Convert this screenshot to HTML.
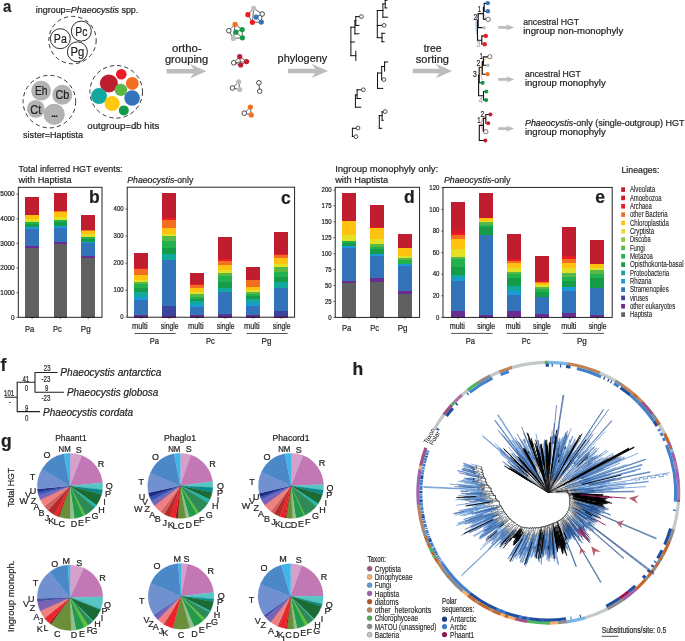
<!DOCTYPE html>
<html><head><meta charset="utf-8"><title>Figure</title>
<style>
html,body{margin:0;padding:0;background:#fff;}
svg{display:block;font-family:"Liberation Sans",sans-serif;will-change:transform;opacity:0.999;}
</style></head><body>
<svg width="685" height="641" viewBox="0 0 685 641">
<rect width="685" height="641" fill="#fff"/>
<text x="3.00" y="12.10" font-size="17.0" font-weight="bold" textLength="8.30" lengthAdjust="spacingAndGlyphs" fill="#231f20" stroke="#231f20" stroke-width="0.22">a</text>
<text x="35.80" y="12.50" font-size="9.3" textLength="102.50" lengthAdjust="spacingAndGlyphs" fill="#231f20" stroke="#231f20" stroke-width="0.22">ingroup=<tspan font-style="italic">Phaeocystis</tspan> spp.</text>
<circle cx="72.50" cy="40.10" r="23.70" fill="none" stroke="#2a2a2a" stroke-width="0.95" stroke-dasharray="4.2 3.1"/>
<circle cx="60.30" cy="38.70" r="10.00" fill="#fff" stroke="#222" stroke-width="0.95"/>
<text x="60.30" y="43.30" font-size="12.8" text-anchor="middle" textLength="12.90" lengthAdjust="spacingAndGlyphs" fill="#231f20" stroke="#231f20" stroke-width="0.22">Pa</text>
<circle cx="81.30" cy="31.10" r="10.00" fill="#fff" stroke="#222" stroke-width="0.95"/>
<text x="81.30" y="35.70" font-size="12.8" text-anchor="middle" textLength="12.10" lengthAdjust="spacingAndGlyphs" fill="#231f20" stroke="#231f20" stroke-width="0.22">Pc</text>
<circle cx="77.40" cy="51.80" r="10.00" fill="#fff" stroke="#222" stroke-width="0.95"/>
<text x="77.40" y="56.40" font-size="12.8" text-anchor="middle" textLength="13.80" lengthAdjust="spacingAndGlyphs" fill="#231f20" stroke="#231f20" stroke-width="0.22">Pg</text>
<circle cx="49.40" cy="101.60" r="26.30" fill="none" stroke="#2a2a2a" stroke-width="0.95" stroke-dasharray="4.2 3.1"/>
<circle cx="41.10" cy="90.70" r="9.90" fill="#b3b3b3"/>
<text x="41.10" y="95.30" font-size="12.8" text-anchor="middle" textLength="12.40" lengthAdjust="spacingAndGlyphs" fill="#231f20" stroke="#231f20" stroke-width="0.22">Eh</text>
<circle cx="62.30" cy="94.70" r="10.00" fill="#b3b3b3"/>
<text x="62.30" y="99.30" font-size="12.8" text-anchor="middle" textLength="13.80" lengthAdjust="spacingAndGlyphs" fill="#231f20" stroke="#231f20" stroke-width="0.22">Cb</text>
<circle cx="35.80" cy="108.90" r="8.90" fill="#b3b3b3"/>
<text x="35.80" y="113.50" font-size="12.8" text-anchor="middle" textLength="11.00" lengthAdjust="spacingAndGlyphs" fill="#231f20" stroke="#231f20" stroke-width="0.22">Ct</text>
<circle cx="54.20" cy="114.30" r="10.60" fill="#b3b3b3"/>
<text x="54.20" y="116.50" font-size="9" text-anchor="middle" font-weight="bold" fill="#231f20" stroke="#231f20" stroke-width="0.22" letter-spacing="-0.6">...</text>
<text x="23.10" y="138.00" font-size="9.3" textLength="60.00" lengthAdjust="spacingAndGlyphs" fill="#231f20" stroke="#231f20" stroke-width="0.22">sister=Haptista</text>
<circle cx="116.20" cy="91.80" r="26.30" fill="none" stroke="#2a2a2a" stroke-width="0.95" stroke-dasharray="4.2 3.1"/>
<circle cx="108.90" cy="83.40" r="9.00" fill="#be1e2d"/>
<circle cx="121.30" cy="74.30" r="5.30" fill="#ed1c24"/>
<circle cx="132.30" cy="83.40" r="6.40" fill="#f26f21"/>
<circle cx="99.00" cy="96.10" r="8.00" fill="#13a89e"/>
<circle cx="112.10" cy="103.50" r="7.60" fill="#ffc90e"/>
<circle cx="132.10" cy="98.00" r="7.80" fill="#3273b9"/>
<circle cx="123.80" cy="110.40" r="5.00" fill="#129a48"/>
<circle cx="120.90" cy="89.90" r="6.20" fill="#5ab946"/>
<text x="87.30" y="128.70" font-size="9.3" textLength="72.00" lengthAdjust="spacingAndGlyphs" fill="#231f20" stroke="#231f20" stroke-width="0.22">outgroup=db hits</text>
<text x="186.80" y="51.80" font-size="10.6" text-anchor="middle" textLength="29.80" lengthAdjust="spacingAndGlyphs" fill="#231f20" stroke="#231f20" stroke-width="0.22">ortho-</text>
<text x="186.60" y="63.10" font-size="10.6" text-anchor="middle" textLength="43.30" lengthAdjust="spacingAndGlyphs" fill="#231f20" stroke="#231f20" stroke-width="0.22">grouping</text>
<polygon points="166.60,68.95 193.70,68.95 189.90,64.00 206.40,71.20 189.90,78.40 193.70,73.45 166.60,73.45" fill="#bdbbbc"/>
<text x="302.40" y="61.60" font-size="10.6" text-anchor="middle" textLength="49.60" lengthAdjust="spacingAndGlyphs" fill="#231f20" stroke="#231f20" stroke-width="0.22">phylogeny</text>
<polygon points="288.10,68.65 315.30,68.65 311.50,63.70 328.00,70.90 311.50,78.10 315.30,73.15 288.10,73.15" fill="#bdbbbc"/>
<text x="432.60" y="51.90" font-size="10.6" text-anchor="middle" textLength="17.90" lengthAdjust="spacingAndGlyphs" fill="#231f20" stroke="#231f20" stroke-width="0.22">tree</text>
<text x="432.40" y="62.90" font-size="10.6" text-anchor="middle" textLength="33.10" lengthAdjust="spacingAndGlyphs" fill="#231f20" stroke="#231f20" stroke-width="0.22">sorting</text>
<polygon points="412.70,68.75 439.40,68.75 435.60,63.80 452.10,71.00 435.60,78.20 439.40,73.25 412.70,73.25" fill="#bdbbbc"/>
<line x1="253.70" y1="8.30" x2="247.90" y2="14.70" stroke="#333" stroke-width="0.75" />
<line x1="253.70" y1="8.30" x2="262.20" y2="14.00" stroke="#333" stroke-width="0.75" />
<line x1="253.70" y1="8.30" x2="252.40" y2="22.30" stroke="#333" stroke-width="0.75" />
<line x1="247.90" y1="14.70" x2="252.40" y2="22.30" stroke="#333" stroke-width="0.75" />
<line x1="262.20" y1="14.00" x2="256.10" y2="17.10" stroke="#333" stroke-width="0.75" />
<line x1="262.20" y1="14.00" x2="261.30" y2="22.10" stroke="#333" stroke-width="0.75" />
<line x1="252.40" y1="22.30" x2="261.30" y2="22.10" stroke="#333" stroke-width="0.75" />
<line x1="256.10" y1="17.10" x2="261.30" y2="22.10" stroke="#333" stroke-width="0.75" />
<circle cx="253.70" cy="8.30" r="2.60" fill="#bcbec0"/>
<circle cx="247.90" cy="14.70" r="2.60" fill="#ed1c24"/>
<circle cx="262.20" cy="14.00" r="2.30" fill="#fff" stroke="#222" stroke-width="0.8"/>
<circle cx="256.10" cy="17.10" r="2.60" fill="#3273b9"/>
<circle cx="252.40" cy="22.30" r="2.60" fill="#ed1c24"/>
<circle cx="261.30" cy="22.10" r="2.60" fill="#3273b9"/>
<line x1="235.10" y1="24.30" x2="228.80" y2="30.70" stroke="#333" stroke-width="0.75" />
<line x1="235.10" y1="24.30" x2="242.20" y2="29.60" stroke="#333" stroke-width="0.75" />
<line x1="235.10" y1="24.30" x2="233.40" y2="38.40" stroke="#333" stroke-width="0.75" />
<line x1="228.80" y1="30.70" x2="233.40" y2="38.40" stroke="#333" stroke-width="0.75" />
<line x1="233.40" y1="38.40" x2="242.40" y2="37.80" stroke="#333" stroke-width="0.75" />
<line x1="235.90" y1="32.20" x2="242.40" y2="37.80" stroke="#333" stroke-width="0.75" />
<line x1="242.20" y1="29.60" x2="242.40" y2="37.80" stroke="#333" stroke-width="0.75" />
<line x1="235.90" y1="32.20" x2="242.20" y2="29.60" stroke="#333" stroke-width="0.75" />
<circle cx="235.10" cy="24.30" r="2.60" fill="#f26f21"/>
<circle cx="228.80" cy="30.70" r="2.30" fill="#fff" stroke="#222" stroke-width="0.8"/>
<circle cx="235.90" cy="32.20" r="2.60" fill="#129a48"/>
<circle cx="242.20" cy="29.60" r="2.60" fill="#129a48"/>
<circle cx="233.40" cy="38.40" r="2.60" fill="#bcbec0"/>
<circle cx="242.40" cy="37.80" r="2.60" fill="#129a48"/>
<line x1="233.70" y1="62.80" x2="239.70" y2="56.60" stroke="#333" stroke-width="0.75" />
<line x1="233.70" y1="62.80" x2="246.60" y2="61.60" stroke="#333" stroke-width="0.75" />
<line x1="233.70" y1="62.80" x2="240.70" y2="65.00" stroke="#333" stroke-width="0.75" />
<line x1="239.70" y1="56.60" x2="246.60" y2="61.60" stroke="#333" stroke-width="0.75" />
<line x1="239.70" y1="56.60" x2="240.70" y2="65.00" stroke="#333" stroke-width="0.75" />
<line x1="246.60" y1="61.60" x2="240.70" y2="65.00" stroke="#333" stroke-width="0.75" />
<circle cx="233.70" cy="62.80" r="2.30" fill="#fff" stroke="#222" stroke-width="0.8"/>
<circle cx="239.70" cy="56.60" r="2.60" fill="#be1e2d"/>
<circle cx="246.60" cy="61.60" r="2.60" fill="#be1e2d"/>
<circle cx="240.70" cy="65.00" r="2.60" fill="#be1e2d"/>
<line x1="232.50" y1="88.00" x2="238.70" y2="81.80" stroke="#333" stroke-width="0.75" />
<line x1="238.70" y1="81.80" x2="239.70" y2="89.50" stroke="#333" stroke-width="0.75" />
<line x1="232.50" y1="88.00" x2="239.70" y2="89.50" stroke="#333" stroke-width="0.75" />
<circle cx="232.50" cy="88.00" r="2.30" fill="#fff" stroke="#222" stroke-width="0.8"/>
<circle cx="238.70" cy="81.80" r="2.60" fill="#bcbec0"/>
<circle cx="239.70" cy="89.50" r="2.60" fill="#bcbec0"/>
<line x1="258.90" y1="82.80" x2="259.70" y2="91.20" stroke="#333" stroke-width="0.75" />
<circle cx="258.90" cy="82.80" r="2.30" fill="#fff" stroke="#222" stroke-width="0.8"/>
<circle cx="259.70" cy="91.20" r="2.30" fill="#fff" stroke="#222" stroke-width="0.8"/>
<line x1="244.30" y1="113.20" x2="250.40" y2="107.00" stroke="#333" stroke-width="0.75" />
<line x1="250.40" y1="107.00" x2="251.20" y2="114.90" stroke="#333" stroke-width="0.75" />
<line x1="244.30" y1="113.20" x2="251.20" y2="114.90" stroke="#333" stroke-width="0.75" />
<circle cx="244.30" cy="113.20" r="2.30" fill="#fff" stroke="#222" stroke-width="0.8"/>
<circle cx="250.40" cy="107.00" r="2.60" fill="#f26f21"/>
<circle cx="251.20" cy="114.90" r="2.60" fill="#f26f21"/>
<path d="M350.90 27.20L350.90 55.70M350.90 27.20L354.90 27.20M354.90 20.70L354.90 33.80M354.90 33.80L358.90 33.80M354.90 20.70L355.80 20.70M355.80 16.60L355.80 25.40M355.80 16.60L359.50 16.60M355.80 25.40L358.90 25.40M350.90 42.00L354.40 42.00M350.90 55.70L355.80 55.70M355.80 51.30L355.80 60.40M377.30 10.50L377.30 37.70M377.30 10.50L382.90 10.50M382.90 3.90L382.90 17.20M382.90 17.20L387.60 17.20M382.90 3.90L385.20 3.90M385.20 0.00L385.20 7.90M385.20 7.90L387.00 7.90M385.20 0.30L387.00 0.30M377.30 25.40L382.00 25.40M377.30 37.70L382.00 37.70M382.00 33.30L382.00 41.70M382.00 33.30L384.70 33.30M382.00 41.70L384.10 41.70M377.50 73.00L377.50 88.40M377.50 88.40L382.80 88.40M377.50 73.00L381.70 73.00M381.70 66.50L381.70 79.60M381.70 79.60L382.20 79.60M381.70 66.50L384.60 66.50M384.60 62.00L384.60 71.10M384.60 62.00L387.70 62.00M355.40 95.00L355.40 107.20M355.40 107.20L360.80 107.20M355.40 95.00L357.10 95.00M357.10 89.80L357.10 98.50M357.10 98.50L360.60 98.50M357.10 89.80L361.30 89.80M379.30 115.60L379.30 128.30M379.30 128.30L381.80 128.30M379.30 115.60L382.10 115.60M382.10 111.80L382.10 120.30M382.10 120.30L383.20 120.30M382.10 111.80L383.20 111.80M352.40 128.30L352.40 136.40M352.40 128.30L355.90 128.30M352.40 136.40L354.00 136.40" fill="none" stroke="#111" stroke-width="1.0" stroke-linecap="square"/>
<circle cx="361.40" cy="16.60" r="1.90" fill="#fff" stroke="#222" stroke-width="0.8"/>
<circle cx="384.10" cy="25.40" r="1.90" fill="#fff" stroke="#222" stroke-width="0.8"/>
<circle cx="383.90" cy="79.60" r="1.90" fill="#fff" stroke="#222" stroke-width="0.8"/>
<circle cx="363.40" cy="89.80" r="1.90" fill="#fff" stroke="#222" stroke-width="0.8"/>
<circle cx="385.20" cy="111.60" r="1.90" fill="#fff" stroke="#222" stroke-width="0.8"/>
<circle cx="358.00" cy="128.00" r="1.90" fill="#fff" stroke="#222" stroke-width="0.8"/>
<circle cx="355.90" cy="136.70" r="1.90" fill="#fff" stroke="#222" stroke-width="0.8"/>
<path d="M478.0 14 Q474.5 24 477.3 35" fill="none" stroke="#b9c6ea" stroke-width="1.6" />
<path d="M484.0 14.5 L486.0 17.5" fill="none" stroke="#b9c6ea" stroke-width="1.2" />
<path d="M477.50 20.60L477.50 40.30M477.50 40.30L481.80 40.30M481.80 35.90L481.80 44.20M481.80 35.90L484.00 35.90M481.80 44.20L483.00 44.20M477.50 27.60L483.00 27.60M478.20 13.60L478.20 27.60M478.20 13.60L483.40 13.60M483.40 7.40L483.40 19.10M483.40 19.10L486.20 19.10M483.40 7.40L484.20 7.40M484.20 3.40L484.20 11.20M484.20 3.40L486.00 3.40M484.20 11.20L486.00 11.20" fill="none" stroke="#111" stroke-width="1.1" stroke-linecap="square"/>
<circle cx="485.80" cy="35.90" r="2.20" fill="#ed1c24"/>
<circle cx="484.70" cy="44.20" r="2.20" fill="#ed1c24"/>
<circle cx="484.10" cy="27.80" r="1.80" fill="#bcbec0"/>
<circle cx="488.20" cy="19.40" r="2.20" fill="#fff" stroke="#222" stroke-width="0.6"/>
<circle cx="487.80" cy="3.10" r="2.20" fill="#3273b9"/>
<circle cx="487.90" cy="11.20" r="2.20" fill="#3273b9"/>
<text x="479.40" y="12.30" font-size="9" text-anchor="middle" textLength="3.40" lengthAdjust="spacingAndGlyphs" fill="#231f20" stroke="#231f20" stroke-width="0.22">1</text>
<text x="475.30" y="20.00" font-size="9" text-anchor="middle" textLength="3.80" lengthAdjust="spacingAndGlyphs" fill="#231f20" stroke="#231f20" stroke-width="0.22">2</text>
<text x="478.30" y="47.20" font-size="9" text-anchor="middle" textLength="3.80" lengthAdjust="spacingAndGlyphs" fill="#a7a9ac" stroke="#a7a9ac" stroke-width="0.22">3</text>
<polygon points="498.30,26.05 507.70,26.05 505.80,24.00 514.20,27.40 505.80,30.80 507.70,28.75 498.30,28.75" fill="#bdbbbc"/>
<path d="M487.0 57.8 Q482 62 481.4 67 Q480.4 73 481.8 80" fill="none" stroke="#fbcfa4" stroke-width="1.5" />
<path d="M478.60 75.10L478.60 95.70M478.60 95.70L483.50 95.70M483.50 91.50L483.50 100.00M483.50 91.50L485.00 91.50M483.50 100.00L485.00 100.00M478.60 82.80L481.00 82.80M479.20 67.20L479.20 82.80M479.20 67.20L482.30 67.20M482.30 61.60L482.30 74.20M482.30 74.20L486.00 74.20M482.30 65.30L486.50 65.30M483.40 56.90L483.40 65.30M483.40 56.90L487.60 56.90" fill="none" stroke="#111" stroke-width="1.1" stroke-linecap="square"/>
<circle cx="486.30" cy="91.50" r="2.10" fill="#129a48"/>
<circle cx="486.10" cy="100.10" r="2.10" fill="#129a48"/>
<circle cx="482.60" cy="82.80" r="2.10" fill="#129a48"/>
<circle cx="487.50" cy="74.20" r="2.10" fill="#f26f21"/>
<circle cx="487.90" cy="65.30" r="1.80" fill="#bcbec0"/>
<circle cx="489.80" cy="56.70" r="2.10" fill="#fff" stroke="#222" stroke-width="0.6"/>
<text x="481.20" y="59.20" font-size="9" text-anchor="middle" textLength="3.40" lengthAdjust="spacingAndGlyphs" fill="#231f20" stroke="#231f20" stroke-width="0.22">1</text>
<text x="478.30" y="66.20" font-size="9" text-anchor="middle" textLength="3.80" lengthAdjust="spacingAndGlyphs" fill="#231f20" stroke="#231f20" stroke-width="0.22">2</text>
<text x="475.00" y="76.50" font-size="9" text-anchor="middle" textLength="3.80" lengthAdjust="spacingAndGlyphs" fill="#231f20" stroke="#231f20" stroke-width="0.22">3</text>
<text x="480.70" y="103.20" font-size="9" text-anchor="middle" textLength="3.80" lengthAdjust="spacingAndGlyphs" fill="#a7a9ac" stroke="#a7a9ac" stroke-width="0.22">4</text>
<polygon points="498.20,78.05 507.90,78.05 506.00,76.00 514.40,79.40 506.00,82.80 507.90,80.75 498.20,80.75" fill="#bdbbbc"/>
<path d="M484.6 116 Q480.6 121 481.2 126 Q482 129 483.6 131" fill="none" stroke="#f2b3b5" stroke-width="1.5" />
<path d="M479.30 125.40L479.30 140.50M479.30 140.50L483.40 140.50M479.30 125.40L483.40 125.40M483.40 118.40L483.40 131.50M483.40 118.40L485.80 118.40M485.80 114.50L485.80 123.20M485.80 114.50L488.50 114.50" fill="none" stroke="#111" stroke-width="1.1" stroke-linecap="square"/>
<circle cx="485.30" cy="140.50" r="2.00" fill="#be1e2d"/>
<circle cx="485.80" cy="131.70" r="2.20" fill="#fff" stroke="#222" stroke-width="0.6"/>
<circle cx="490.40" cy="114.50" r="2.00" fill="#be1e2d"/>
<circle cx="488.20" cy="123.20" r="2.00" fill="#be1e2d"/>
<text x="482.50" y="116.60" font-size="9" text-anchor="middle" textLength="3.80" lengthAdjust="spacingAndGlyphs" fill="#231f20" stroke="#231f20" stroke-width="0.22">2</text>
<text x="479.00" y="123.40" font-size="9" text-anchor="middle" textLength="3.40" lengthAdjust="spacingAndGlyphs" fill="#231f20" stroke="#231f20" stroke-width="0.22">1</text>
<polygon points="498.30,127.25 507.70,127.25 505.80,125.20 514.20,128.60 505.80,132.00 507.70,129.95 498.30,129.95" fill="#bdbbbc"/>
<text x="523.20" y="24.90" font-size="9.3" textLength="55.80" lengthAdjust="spacingAndGlyphs" fill="#231f20" stroke="#231f20" stroke-width="0.22">ancestral HGT</text>
<text x="523.20" y="34.10" font-size="9.3" textLength="100.00" lengthAdjust="spacingAndGlyphs" fill="#231f20" stroke="#231f20" stroke-width="0.22">ingroup non-monophyly</text>
<text x="524.90" y="77.00" font-size="9.3" textLength="55.90" lengthAdjust="spacingAndGlyphs" fill="#231f20" stroke="#231f20" stroke-width="0.22">ancestral HGT</text>
<text x="524.90" y="85.70" font-size="9.3" textLength="80.90" lengthAdjust="spacingAndGlyphs" fill="#231f20" stroke="#231f20" stroke-width="0.22">ingroup monophyly</text>
<text x="524.90" y="126.20" font-size="9.3" textLength="159.60" lengthAdjust="spacingAndGlyphs" fill="#231f20" stroke="#231f20" stroke-width="0.22"><tspan font-style="italic">Phaeocystis</tspan>-only (single-outgroup) HGT</text>
<text x="524.90" y="134.60" font-size="9.3" textLength="80.90" lengthAdjust="spacingAndGlyphs" fill="#231f20" stroke="#231f20" stroke-width="0.22">ingroup monophyly</text>
<text x="18.60" y="172.00" font-size="9.7" textLength="104.00" lengthAdjust="spacingAndGlyphs" fill="#231f20" stroke="#231f20" stroke-width="0.22">Total inferred HGT events:</text>
<text x="18.60" y="182.50" font-size="9.7" textLength="53.00" lengthAdjust="spacingAndGlyphs" fill="#231f20" stroke="#231f20" stroke-width="0.22">with Haptista</text>
<rect x="25.20" y="196.90" width="13.80" height="17.90" fill="#be1e2d" shape-rendering="crispEdges"/>
<rect x="25.20" y="214.50" width="13.80" height="1.00" fill="#f26f21" shape-rendering="crispEdges"/>
<rect x="25.20" y="215.20" width="13.80" height="3.90" fill="#ffc20e" shape-rendering="crispEdges"/>
<rect x="25.20" y="218.80" width="13.80" height="3.60" fill="#e3e025" shape-rendering="crispEdges"/>
<rect x="25.20" y="222.10" width="13.80" height="2.50" fill="#22b14c" shape-rendering="crispEdges"/>
<rect x="25.20" y="224.30" width="13.80" height="3.00" fill="#169b48" shape-rendering="crispEdges"/>
<rect x="25.20" y="227.00" width="13.80" height="1.90" fill="#1c9ad6" shape-rendering="crispEdges"/>
<rect x="25.20" y="228.60" width="13.80" height="17.80" fill="#3273b9" shape-rendering="crispEdges"/>
<rect x="25.20" y="246.10" width="13.80" height="2.20" fill="#6b2c91" shape-rendering="crispEdges"/>
<rect x="25.20" y="248.00" width="13.80" height="69.60" fill="#5f6160" shape-rendering="crispEdges"/>
<rect x="53.50" y="193.20" width="13.60" height="18.10" fill="#be1e2d" shape-rendering="crispEdges"/>
<rect x="53.50" y="211.00" width="13.60" height="1.30" fill="#f26f21" shape-rendering="crispEdges"/>
<rect x="53.50" y="212.00" width="13.60" height="4.90" fill="#ffc20e" shape-rendering="crispEdges"/>
<rect x="53.50" y="216.60" width="13.60" height="3.30" fill="#e3e025" shape-rendering="crispEdges"/>
<rect x="53.50" y="219.60" width="13.60" height="3.10" fill="#22b14c" shape-rendering="crispEdges"/>
<rect x="53.50" y="222.40" width="13.60" height="3.90" fill="#169b48" shape-rendering="crispEdges"/>
<rect x="53.50" y="226.00" width="13.60" height="2.50" fill="#1c9ad6" shape-rendering="crispEdges"/>
<rect x="53.50" y="228.20" width="13.60" height="14.10" fill="#3273b9" shape-rendering="crispEdges"/>
<rect x="53.50" y="242.00" width="13.60" height="2.70" fill="#6b2c91" shape-rendering="crispEdges"/>
<rect x="53.50" y="244.40" width="13.60" height="73.20" fill="#5f6160" shape-rendering="crispEdges"/>
<rect x="81.40" y="215.10" width="13.70" height="15.40" fill="#be1e2d" shape-rendering="crispEdges"/>
<rect x="81.40" y="230.20" width="13.70" height="1.10" fill="#f26f21" shape-rendering="crispEdges"/>
<rect x="81.40" y="231.00" width="13.70" height="3.70" fill="#ffc20e" shape-rendering="crispEdges"/>
<rect x="81.40" y="234.40" width="13.70" height="2.50" fill="#e3e025" shape-rendering="crispEdges"/>
<rect x="81.40" y="236.60" width="13.70" height="2.50" fill="#22b14c" shape-rendering="crispEdges"/>
<rect x="81.40" y="238.80" width="13.70" height="3.10" fill="#169b48" shape-rendering="crispEdges"/>
<rect x="81.40" y="241.60" width="13.70" height="1.70" fill="#1c9ad6" shape-rendering="crispEdges"/>
<rect x="81.40" y="243.00" width="13.70" height="12.90" fill="#3273b9" shape-rendering="crispEdges"/>
<rect x="81.40" y="255.60" width="13.70" height="2.50" fill="#6b2c91" shape-rendering="crispEdges"/>
<rect x="81.40" y="257.80" width="13.70" height="59.80" fill="#5f6160" shape-rendering="crispEdges"/>
<rect x="18.30" y="187.30" width="83.70" height="130.00" fill="none" stroke="#1a1a1a" stroke-width="0.95"/>
<line x1="16.40" y1="317.30" x2="18.30" y2="317.30" stroke="#1a1a1a" stroke-width="0.6" />
<text x="14.70" y="319.50" font-size="6.5" text-anchor="end" textLength="3.60" lengthAdjust="spacingAndGlyphs" fill="#231f20" stroke="#231f20" stroke-width="0.22">0</text>
<line x1="16.40" y1="292.68" x2="18.30" y2="292.68" stroke="#1a1a1a" stroke-width="0.6" />
<text x="14.70" y="294.88" font-size="6.5" text-anchor="end" textLength="14.40" lengthAdjust="spacingAndGlyphs" fill="#231f20" stroke="#231f20" stroke-width="0.22">1000</text>
<line x1="16.40" y1="268.06" x2="18.30" y2="268.06" stroke="#1a1a1a" stroke-width="0.6" />
<text x="14.70" y="270.26" font-size="6.5" text-anchor="end" textLength="14.40" lengthAdjust="spacingAndGlyphs" fill="#231f20" stroke="#231f20" stroke-width="0.22">2000</text>
<line x1="16.40" y1="243.44" x2="18.30" y2="243.44" stroke="#1a1a1a" stroke-width="0.6" />
<text x="14.70" y="245.64" font-size="6.5" text-anchor="end" textLength="14.40" lengthAdjust="spacingAndGlyphs" fill="#231f20" stroke="#231f20" stroke-width="0.22">3000</text>
<line x1="16.40" y1="218.82" x2="18.30" y2="218.82" stroke="#1a1a1a" stroke-width="0.6" />
<text x="14.70" y="221.02" font-size="6.5" text-anchor="end" textLength="14.40" lengthAdjust="spacingAndGlyphs" fill="#231f20" stroke="#231f20" stroke-width="0.22">4000</text>
<line x1="16.40" y1="194.20" x2="18.30" y2="194.20" stroke="#1a1a1a" stroke-width="0.6" />
<text x="14.70" y="196.40" font-size="6.5" text-anchor="end" textLength="14.40" lengthAdjust="spacingAndGlyphs" fill="#231f20" stroke="#231f20" stroke-width="0.22">5000</text>
<line x1="32.10" y1="317.30" x2="32.10" y2="319.10" stroke="#1a1a1a" stroke-width="0.6" />
<text x="24.90" y="331.80" font-size="9.6" textLength="9.30" lengthAdjust="spacingAndGlyphs" fill="#231f20" stroke="#231f20" stroke-width="0.22">Pa</text>
<line x1="60.30" y1="317.30" x2="60.30" y2="319.10" stroke="#1a1a1a" stroke-width="0.6" />
<text x="53.00" y="331.80" font-size="9.6" textLength="8.80" lengthAdjust="spacingAndGlyphs" fill="#231f20" stroke="#231f20" stroke-width="0.22">Pc</text>
<line x1="88.20" y1="317.30" x2="88.20" y2="319.10" stroke="#1a1a1a" stroke-width="0.6" />
<text x="80.80" y="331.80" font-size="9.6" textLength="9.90" lengthAdjust="spacingAndGlyphs" fill="#231f20" stroke="#231f20" stroke-width="0.22">Pg</text>
<text x="89.00" y="203.40" font-size="17.5" font-weight="bold" fill="#231f20" stroke="#231f20" stroke-width="0.22">b</text>
<text x="127.20" y="182.80" font-size="9.7" textLength="66.10" lengthAdjust="spacingAndGlyphs" fill="#231f20" stroke="#231f20" stroke-width="0.22"><tspan font-style="italic">Phaeocystis</tspan>-only</text>
<rect x="134.10" y="252.90" width="13.90" height="15.10" fill="#be1e2d" shape-rendering="crispEdges"/>
<rect x="134.10" y="267.70" width="13.90" height="1.20" fill="#ed1c24" shape-rendering="crispEdges"/>
<rect x="134.10" y="268.60" width="13.90" height="6.60" fill="#f26f21" shape-rendering="crispEdges"/>
<rect x="134.10" y="274.90" width="13.90" height="5.10" fill="#ffc20e" shape-rendering="crispEdges"/>
<rect x="134.10" y="279.70" width="13.90" height="2.40" fill="#e3e025" shape-rendering="crispEdges"/>
<rect x="134.10" y="281.80" width="13.90" height="2.50" fill="#5ab946" shape-rendering="crispEdges"/>
<rect x="134.10" y="284.00" width="13.90" height="4.00" fill="#22b14c" shape-rendering="crispEdges"/>
<rect x="134.10" y="287.70" width="13.90" height="4.70" fill="#169b48" shape-rendering="crispEdges"/>
<rect x="134.10" y="292.10" width="13.90" height="5.60" fill="#13a89e" shape-rendering="crispEdges"/>
<rect x="134.10" y="297.40" width="13.90" height="3.00" fill="#1c9ad6" shape-rendering="crispEdges"/>
<rect x="134.10" y="300.10" width="13.90" height="14.90" fill="#3273b9" shape-rendering="crispEdges"/>
<rect x="134.10" y="314.70" width="13.90" height="2.80" fill="#6b2c91" shape-rendering="crispEdges"/>
<rect x="162.10" y="193.30" width="13.90" height="24.90" fill="#be1e2d" shape-rendering="crispEdges"/>
<rect x="162.10" y="217.90" width="13.90" height="2.50" fill="#ed1c24" shape-rendering="crispEdges"/>
<rect x="162.10" y="220.10" width="13.90" height="8.00" fill="#f26f21" shape-rendering="crispEdges"/>
<rect x="162.10" y="227.80" width="13.90" height="6.40" fill="#ffc20e" shape-rendering="crispEdges"/>
<rect x="162.10" y="233.90" width="13.90" height="2.60" fill="#e3e025" shape-rendering="crispEdges"/>
<rect x="162.10" y="236.20" width="13.90" height="4.80" fill="#5ab946" shape-rendering="crispEdges"/>
<rect x="162.10" y="240.70" width="13.90" height="7.80" fill="#22b14c" shape-rendering="crispEdges"/>
<rect x="162.10" y="248.20" width="13.90" height="6.10" fill="#169b48" shape-rendering="crispEdges"/>
<rect x="162.10" y="254.00" width="13.90" height="5.90" fill="#13a89e" shape-rendering="crispEdges"/>
<rect x="162.10" y="259.60" width="13.90" height="46.90" fill="#3273b9" shape-rendering="crispEdges"/>
<rect x="162.10" y="306.20" width="13.90" height="9.90" fill="#3a449c" shape-rendering="crispEdges"/>
<rect x="162.10" y="315.80" width="13.90" height="1.70" fill="#6b2c91" shape-rendering="crispEdges"/>
<rect x="190.10" y="273.00" width="13.90" height="11.60" fill="#be1e2d" shape-rendering="crispEdges"/>
<rect x="190.10" y="284.30" width="13.90" height="0.90" fill="#ed1c24" shape-rendering="crispEdges"/>
<rect x="190.10" y="284.90" width="13.90" height="3.50" fill="#f26f21" shape-rendering="crispEdges"/>
<rect x="190.10" y="288.10" width="13.90" height="4.30" fill="#ffc20e" shape-rendering="crispEdges"/>
<rect x="190.10" y="292.10" width="13.90" height="2.40" fill="#e3e025" shape-rendering="crispEdges"/>
<rect x="190.10" y="294.20" width="13.90" height="2.70" fill="#5ab946" shape-rendering="crispEdges"/>
<rect x="190.10" y="296.60" width="13.90" height="3.10" fill="#22b14c" shape-rendering="crispEdges"/>
<rect x="190.10" y="299.40" width="13.90" height="2.10" fill="#169b48" shape-rendering="crispEdges"/>
<rect x="190.10" y="301.20" width="13.90" height="4.10" fill="#13a89e" shape-rendering="crispEdges"/>
<rect x="190.10" y="305.00" width="13.90" height="2.30" fill="#1c9ad6" shape-rendering="crispEdges"/>
<rect x="190.10" y="307.00" width="13.90" height="8.30" fill="#3273b9" shape-rendering="crispEdges"/>
<rect x="190.10" y="315.00" width="13.90" height="2.50" fill="#6b2c91" shape-rendering="crispEdges"/>
<rect x="218.10" y="236.50" width="13.90" height="22.90" fill="#be1e2d" shape-rendering="crispEdges"/>
<rect x="218.10" y="259.10" width="13.90" height="2.20" fill="#ed1c24" shape-rendering="crispEdges"/>
<rect x="218.10" y="261.00" width="13.90" height="4.20" fill="#f26f21" shape-rendering="crispEdges"/>
<rect x="218.10" y="264.90" width="13.90" height="5.10" fill="#ffc20e" shape-rendering="crispEdges"/>
<rect x="218.10" y="269.70" width="13.90" height="3.50" fill="#e3e025" shape-rendering="crispEdges"/>
<rect x="218.10" y="272.90" width="13.90" height="3.50" fill="#5ab946" shape-rendering="crispEdges"/>
<rect x="218.10" y="276.10" width="13.90" height="6.40" fill="#22b14c" shape-rendering="crispEdges"/>
<rect x="218.10" y="282.20" width="13.90" height="6.10" fill="#169b48" shape-rendering="crispEdges"/>
<rect x="218.10" y="288.00" width="13.90" height="3.80" fill="#13a89e" shape-rendering="crispEdges"/>
<rect x="218.10" y="291.50" width="13.90" height="22.30" fill="#3273b9" shape-rendering="crispEdges"/>
<rect x="218.10" y="313.50" width="13.90" height="2.20" fill="#3a449c" shape-rendering="crispEdges"/>
<rect x="218.10" y="315.40" width="13.90" height="2.10" fill="#6b2c91" shape-rendering="crispEdges"/>
<rect x="246.10" y="266.50" width="13.90" height="13.30" fill="#be1e2d" shape-rendering="crispEdges"/>
<rect x="246.10" y="279.50" width="13.90" height="1.00" fill="#ed1c24" shape-rendering="crispEdges"/>
<rect x="246.10" y="280.20" width="13.90" height="6.80" fill="#f26f21" shape-rendering="crispEdges"/>
<rect x="246.10" y="286.70" width="13.90" height="3.80" fill="#ffc20e" shape-rendering="crispEdges"/>
<rect x="246.10" y="290.20" width="13.90" height="2.40" fill="#e3e025" shape-rendering="crispEdges"/>
<rect x="246.10" y="292.30" width="13.90" height="2.10" fill="#5ab946" shape-rendering="crispEdges"/>
<rect x="246.10" y="294.10" width="13.90" height="2.60" fill="#22b14c" shape-rendering="crispEdges"/>
<rect x="246.10" y="296.40" width="13.90" height="2.60" fill="#169b48" shape-rendering="crispEdges"/>
<rect x="246.10" y="298.70" width="13.90" height="5.00" fill="#13a89e" shape-rendering="crispEdges"/>
<rect x="246.10" y="303.40" width="13.90" height="2.50" fill="#1c9ad6" shape-rendering="crispEdges"/>
<rect x="246.10" y="305.60" width="13.90" height="10.10" fill="#3273b9" shape-rendering="crispEdges"/>
<rect x="246.10" y="315.40" width="13.90" height="2.10" fill="#6b2c91" shape-rendering="crispEdges"/>
<rect x="274.10" y="231.80" width="13.90" height="22.80" fill="#be1e2d" shape-rendering="crispEdges"/>
<rect x="274.10" y="254.30" width="13.90" height="1.40" fill="#ed1c24" shape-rendering="crispEdges"/>
<rect x="274.10" y="255.40" width="13.90" height="2.70" fill="#f26f21" shape-rendering="crispEdges"/>
<rect x="274.10" y="257.80" width="13.90" height="6.70" fill="#ffc20e" shape-rendering="crispEdges"/>
<rect x="274.10" y="264.20" width="13.90" height="3.20" fill="#e3e025" shape-rendering="crispEdges"/>
<rect x="274.10" y="267.10" width="13.90" height="4.80" fill="#5ab946" shape-rendering="crispEdges"/>
<rect x="274.10" y="271.60" width="13.90" height="5.60" fill="#22b14c" shape-rendering="crispEdges"/>
<rect x="274.10" y="276.90" width="13.90" height="5.60" fill="#169b48" shape-rendering="crispEdges"/>
<rect x="274.10" y="282.20" width="13.90" height="5.60" fill="#13a89e" shape-rendering="crispEdges"/>
<rect x="274.10" y="287.50" width="13.90" height="23.40" fill="#3273b9" shape-rendering="crispEdges"/>
<rect x="274.10" y="310.60" width="13.90" height="5.60" fill="#3a449c" shape-rendering="crispEdges"/>
<rect x="274.10" y="315.90" width="13.90" height="1.60" fill="#6b2c91" shape-rendering="crispEdges"/>
<rect x="127.20" y="187.20" width="167.40" height="130.00" fill="none" stroke="#1a1a1a" stroke-width="0.95"/>
<line x1="125.30" y1="317.20" x2="127.20" y2="317.20" stroke="#1a1a1a" stroke-width="0.6" />
<text x="123.60" y="319.40" font-size="6.5" text-anchor="end" textLength="3.35" lengthAdjust="spacingAndGlyphs" fill="#231f20" stroke="#231f20" stroke-width="0.22">0</text>
<line x1="125.30" y1="290.15" x2="127.20" y2="290.15" stroke="#1a1a1a" stroke-width="0.6" />
<text x="123.60" y="292.35" font-size="6.5" text-anchor="end" textLength="10.05" lengthAdjust="spacingAndGlyphs" fill="#231f20" stroke="#231f20" stroke-width="0.22">100</text>
<line x1="125.30" y1="263.10" x2="127.20" y2="263.10" stroke="#1a1a1a" stroke-width="0.6" />
<text x="123.60" y="265.30" font-size="6.5" text-anchor="end" textLength="10.05" lengthAdjust="spacingAndGlyphs" fill="#231f20" stroke="#231f20" stroke-width="0.22">200</text>
<line x1="125.30" y1="236.05" x2="127.20" y2="236.05" stroke="#1a1a1a" stroke-width="0.6" />
<text x="123.60" y="238.25" font-size="6.5" text-anchor="end" textLength="10.05" lengthAdjust="spacingAndGlyphs" fill="#231f20" stroke="#231f20" stroke-width="0.22">300</text>
<line x1="125.30" y1="209.00" x2="127.20" y2="209.00" stroke="#1a1a1a" stroke-width="0.6" />
<text x="123.60" y="211.20" font-size="6.5" text-anchor="end" textLength="10.05" lengthAdjust="spacingAndGlyphs" fill="#231f20" stroke="#231f20" stroke-width="0.22">400</text>
<line x1="141.05" y1="317.20" x2="141.05" y2="319.00" stroke="#1a1a1a" stroke-width="0.6" />
<text x="139.85" y="329.00" font-size="9.0" text-anchor="middle" textLength="15.60" lengthAdjust="spacingAndGlyphs" fill="#231f20" stroke="#231f20" stroke-width="0.22">multi</text>
<line x1="169.05" y1="317.20" x2="169.05" y2="319.00" stroke="#1a1a1a" stroke-width="0.6" />
<text x="169.65" y="329.00" font-size="9.0" text-anchor="middle" textLength="17.70" lengthAdjust="spacingAndGlyphs" fill="#231f20" stroke="#231f20" stroke-width="0.22">single</text>
<line x1="197.05" y1="317.20" x2="197.05" y2="319.00" stroke="#1a1a1a" stroke-width="0.6" />
<text x="195.85" y="329.00" font-size="9.0" text-anchor="middle" textLength="15.60" lengthAdjust="spacingAndGlyphs" fill="#231f20" stroke="#231f20" stroke-width="0.22">multi</text>
<line x1="225.05" y1="317.20" x2="225.05" y2="319.00" stroke="#1a1a1a" stroke-width="0.6" />
<text x="225.65" y="329.00" font-size="9.0" text-anchor="middle" textLength="17.70" lengthAdjust="spacingAndGlyphs" fill="#231f20" stroke="#231f20" stroke-width="0.22">single</text>
<line x1="253.05" y1="317.20" x2="253.05" y2="319.00" stroke="#1a1a1a" stroke-width="0.6" />
<text x="251.85" y="329.00" font-size="9.0" text-anchor="middle" textLength="15.60" lengthAdjust="spacingAndGlyphs" fill="#231f20" stroke="#231f20" stroke-width="0.22">multi</text>
<line x1="281.05" y1="317.20" x2="281.05" y2="319.00" stroke="#1a1a1a" stroke-width="0.6" />
<text x="281.65" y="329.00" font-size="9.0" text-anchor="middle" textLength="17.70" lengthAdjust="spacingAndGlyphs" fill="#231f20" stroke="#231f20" stroke-width="0.22">single</text>
<line x1="134.40" y1="333.50" x2="175.70" y2="333.50" stroke="#414042" stroke-width="0.9" />
<text x="154.45" y="344.40" font-size="9.6" text-anchor="middle" textLength="9.30" lengthAdjust="spacingAndGlyphs" fill="#231f20" stroke="#231f20" stroke-width="0.22">Pa</text>
<line x1="190.40" y1="333.50" x2="231.70" y2="333.50" stroke="#414042" stroke-width="0.9" />
<text x="210.45" y="344.40" font-size="9.6" text-anchor="middle" textLength="8.80" lengthAdjust="spacingAndGlyphs" fill="#231f20" stroke="#231f20" stroke-width="0.22">Pc</text>
<line x1="246.40" y1="333.50" x2="287.70" y2="333.50" stroke="#414042" stroke-width="0.9" />
<text x="266.45" y="344.40" font-size="9.6" text-anchor="middle" textLength="9.90" lengthAdjust="spacingAndGlyphs" fill="#231f20" stroke="#231f20" stroke-width="0.22">Pg</text>
<text x="280.90" y="204.40" font-size="17.5" font-weight="bold" fill="#231f20" stroke="#231f20" stroke-width="0.22">c</text>
<text x="335.20" y="172.40" font-size="9.7" textLength="103.00" lengthAdjust="spacingAndGlyphs" fill="#231f20" stroke="#231f20" stroke-width="0.22">Ingroup monophyly only:</text>
<text x="335.20" y="182.80" font-size="9.7" textLength="53.00" lengthAdjust="spacingAndGlyphs" fill="#231f20" stroke="#231f20" stroke-width="0.22">with Haptista</text>
<rect x="342.00" y="192.90" width="13.90" height="28.10" fill="#be1e2d" shape-rendering="crispEdges"/>
<rect x="342.00" y="220.70" width="13.90" height="14.30" fill="#ffc20e" shape-rendering="crispEdges"/>
<rect x="342.00" y="234.70" width="13.90" height="6.20" fill="#e3e025" shape-rendering="crispEdges"/>
<rect x="342.00" y="240.60" width="13.90" height="2.70" fill="#22b14c" shape-rendering="crispEdges"/>
<rect x="342.00" y="243.00" width="13.90" height="3.20" fill="#169b48" shape-rendering="crispEdges"/>
<rect x="342.00" y="245.90" width="13.90" height="2.40" fill="#1c9ad6" shape-rendering="crispEdges"/>
<rect x="342.00" y="248.00" width="13.90" height="33.20" fill="#3273b9" shape-rendering="crispEdges"/>
<rect x="342.00" y="280.90" width="13.90" height="2.70" fill="#6b2c91" shape-rendering="crispEdges"/>
<rect x="342.00" y="283.30" width="13.90" height="34.40" fill="#5f6160" shape-rendering="crispEdges"/>
<rect x="369.90" y="205.30" width="13.90" height="22.00" fill="#be1e2d" shape-rendering="crispEdges"/>
<rect x="369.90" y="227.00" width="13.90" height="0.90" fill="#ed1c24" shape-rendering="crispEdges"/>
<rect x="369.90" y="227.60" width="13.90" height="11.20" fill="#ffc20e" shape-rendering="crispEdges"/>
<rect x="369.90" y="238.50" width="13.90" height="6.20" fill="#e3e025" shape-rendering="crispEdges"/>
<rect x="369.90" y="244.40" width="13.90" height="2.40" fill="#5ab946" shape-rendering="crispEdges"/>
<rect x="369.90" y="246.50" width="13.90" height="2.70" fill="#22b14c" shape-rendering="crispEdges"/>
<rect x="369.90" y="248.90" width="13.90" height="5.60" fill="#169b48" shape-rendering="crispEdges"/>
<rect x="369.90" y="254.20" width="13.90" height="1.80" fill="#1c9ad6" shape-rendering="crispEdges"/>
<rect x="369.90" y="255.70" width="13.90" height="22.50" fill="#3273b9" shape-rendering="crispEdges"/>
<rect x="369.90" y="277.90" width="13.90" height="4.50" fill="#6b2c91" shape-rendering="crispEdges"/>
<rect x="369.90" y="282.10" width="13.90" height="35.60" fill="#5f6160" shape-rendering="crispEdges"/>
<rect x="398.00" y="234.10" width="13.90" height="13.90" fill="#be1e2d" shape-rendering="crispEdges"/>
<rect x="398.00" y="247.70" width="13.90" height="8.90" fill="#ffc20e" shape-rendering="crispEdges"/>
<rect x="398.00" y="256.30" width="13.90" height="2.40" fill="#e3e025" shape-rendering="crispEdges"/>
<rect x="398.00" y="258.40" width="13.90" height="2.00" fill="#5ab946" shape-rendering="crispEdges"/>
<rect x="398.00" y="260.10" width="13.90" height="3.90" fill="#22b14c" shape-rendering="crispEdges"/>
<rect x="398.00" y="263.70" width="13.90" height="2.10" fill="#1c9ad6" shape-rendering="crispEdges"/>
<rect x="398.00" y="265.50" width="13.90" height="25.80" fill="#3273b9" shape-rendering="crispEdges"/>
<rect x="398.00" y="291.00" width="13.90" height="3.50" fill="#6b2c91" shape-rendering="crispEdges"/>
<rect x="398.00" y="294.20" width="13.90" height="23.50" fill="#5f6160" shape-rendering="crispEdges"/>
<rect x="335.20" y="187.30" width="84.40" height="130.10" fill="none" stroke="#1a1a1a" stroke-width="0.95"/>
<line x1="333.30" y1="317.40" x2="335.20" y2="317.40" stroke="#1a1a1a" stroke-width="0.6" />
<text x="331.60" y="319.60" font-size="6.5" text-anchor="end" textLength="3.35" lengthAdjust="spacingAndGlyphs" fill="#231f20" stroke="#231f20" stroke-width="0.22">0</text>
<line x1="333.30" y1="301.47" x2="335.20" y2="301.47" stroke="#1a1a1a" stroke-width="0.6" />
<text x="331.60" y="303.67" font-size="6.5" text-anchor="end" textLength="6.70" lengthAdjust="spacingAndGlyphs" fill="#231f20" stroke="#231f20" stroke-width="0.22">25</text>
<line x1="333.30" y1="285.55" x2="335.20" y2="285.55" stroke="#1a1a1a" stroke-width="0.6" />
<text x="331.60" y="287.75" font-size="6.5" text-anchor="end" textLength="6.70" lengthAdjust="spacingAndGlyphs" fill="#231f20" stroke="#231f20" stroke-width="0.22">50</text>
<line x1="333.30" y1="269.62" x2="335.20" y2="269.62" stroke="#1a1a1a" stroke-width="0.6" />
<text x="331.60" y="271.82" font-size="6.5" text-anchor="end" textLength="6.70" lengthAdjust="spacingAndGlyphs" fill="#231f20" stroke="#231f20" stroke-width="0.22">75</text>
<line x1="333.30" y1="253.70" x2="335.20" y2="253.70" stroke="#1a1a1a" stroke-width="0.6" />
<text x="331.60" y="255.90" font-size="6.5" text-anchor="end" textLength="10.05" lengthAdjust="spacingAndGlyphs" fill="#231f20" stroke="#231f20" stroke-width="0.22">100</text>
<line x1="333.30" y1="237.77" x2="335.20" y2="237.77" stroke="#1a1a1a" stroke-width="0.6" />
<text x="331.60" y="239.97" font-size="6.5" text-anchor="end" textLength="10.05" lengthAdjust="spacingAndGlyphs" fill="#231f20" stroke="#231f20" stroke-width="0.22">125</text>
<line x1="333.30" y1="221.85" x2="335.20" y2="221.85" stroke="#1a1a1a" stroke-width="0.6" />
<text x="331.60" y="224.05" font-size="6.5" text-anchor="end" textLength="10.05" lengthAdjust="spacingAndGlyphs" fill="#231f20" stroke="#231f20" stroke-width="0.22">150</text>
<line x1="333.30" y1="205.92" x2="335.20" y2="205.92" stroke="#1a1a1a" stroke-width="0.6" />
<text x="331.60" y="208.12" font-size="6.5" text-anchor="end" textLength="10.05" lengthAdjust="spacingAndGlyphs" fill="#231f20" stroke="#231f20" stroke-width="0.22">175</text>
<line x1="333.30" y1="190.00" x2="335.20" y2="190.00" stroke="#1a1a1a" stroke-width="0.6" />
<text x="331.60" y="192.20" font-size="6.5" text-anchor="end" textLength="10.05" lengthAdjust="spacingAndGlyphs" fill="#231f20" stroke="#231f20" stroke-width="0.22">200</text>
<line x1="348.95" y1="317.40" x2="348.95" y2="319.20" stroke="#1a1a1a" stroke-width="0.6" />
<text x="346.65" y="331.20" font-size="9.6" text-anchor="middle" textLength="9.30" lengthAdjust="spacingAndGlyphs" fill="#231f20" stroke="#231f20" stroke-width="0.22">Pa</text>
<line x1="376.85" y1="317.40" x2="376.85" y2="319.20" stroke="#1a1a1a" stroke-width="0.6" />
<text x="374.55" y="331.20" font-size="9.6" text-anchor="middle" textLength="8.80" lengthAdjust="spacingAndGlyphs" fill="#231f20" stroke="#231f20" stroke-width="0.22">Pc</text>
<line x1="404.95" y1="317.40" x2="404.95" y2="319.20" stroke="#1a1a1a" stroke-width="0.6" />
<text x="402.65" y="331.20" font-size="9.6" text-anchor="middle" textLength="9.90" lengthAdjust="spacingAndGlyphs" fill="#231f20" stroke="#231f20" stroke-width="0.22">Pg</text>
<text x="404.00" y="203.00" font-size="17.5" font-weight="bold" fill="#231f20" stroke="#231f20" stroke-width="0.22">d</text>
<text x="443.90" y="182.60" font-size="9.7" textLength="66.50" lengthAdjust="spacingAndGlyphs" fill="#231f20" stroke="#231f20" stroke-width="0.22"><tspan font-style="italic">Phaeocystis</tspan>-only</text>
<rect x="450.90" y="201.70" width="14.00" height="27.60" fill="#be1e2d" shape-rendering="crispEdges"/>
<rect x="450.90" y="229.00" width="14.00" height="4.30" fill="#d7182a" shape-rendering="crispEdges"/>
<rect x="450.90" y="233.00" width="14.00" height="2.40" fill="#ed1c24" shape-rendering="crispEdges"/>
<rect x="450.90" y="235.10" width="14.00" height="4.50" fill="#f26f21" shape-rendering="crispEdges"/>
<rect x="450.90" y="239.30" width="14.00" height="10.10" fill="#ffc20e" shape-rendering="crispEdges"/>
<rect x="450.90" y="249.10" width="14.00" height="8.20" fill="#e3e025" shape-rendering="crispEdges"/>
<rect x="450.90" y="257.00" width="14.00" height="2.30" fill="#5ab946" shape-rendering="crispEdges"/>
<rect x="450.90" y="259.00" width="14.00" height="8.10" fill="#22b14c" shape-rendering="crispEdges"/>
<rect x="450.90" y="266.80" width="14.00" height="8.70" fill="#169b48" shape-rendering="crispEdges"/>
<rect x="450.90" y="275.20" width="14.00" height="2.60" fill="#13a89e" shape-rendering="crispEdges"/>
<rect x="450.90" y="277.50" width="14.00" height="4.20" fill="#1c9ad6" shape-rendering="crispEdges"/>
<rect x="450.90" y="281.40" width="14.00" height="29.80" fill="#3273b9" shape-rendering="crispEdges"/>
<rect x="450.90" y="310.90" width="14.00" height="6.80" fill="#6b2c91" shape-rendering="crispEdges"/>
<rect x="478.77" y="193.00" width="14.00" height="25.00" fill="#be1e2d" shape-rendering="crispEdges"/>
<rect x="478.77" y="217.70" width="14.00" height="3.10" fill="#ffc20e" shape-rendering="crispEdges"/>
<rect x="478.77" y="220.50" width="14.00" height="1.70" fill="#e3e025" shape-rendering="crispEdges"/>
<rect x="478.77" y="221.90" width="14.00" height="3.10" fill="#5ab946" shape-rendering="crispEdges"/>
<rect x="478.77" y="224.70" width="14.00" height="2.60" fill="#22b14c" shape-rendering="crispEdges"/>
<rect x="478.77" y="227.00" width="14.00" height="7.80" fill="#169b48" shape-rendering="crispEdges"/>
<rect x="478.77" y="234.50" width="14.00" height="81.20" fill="#3273b9" shape-rendering="crispEdges"/>
<rect x="478.77" y="315.40" width="14.00" height="2.30" fill="#6b2c91" shape-rendering="crispEdges"/>
<rect x="506.64" y="234.00" width="14.00" height="25.50" fill="#be1e2d" shape-rendering="crispEdges"/>
<rect x="506.64" y="259.20" width="14.00" height="2.10" fill="#ed1c24" shape-rendering="crispEdges"/>
<rect x="506.64" y="261.00" width="14.00" height="1.90" fill="#f26f21" shape-rendering="crispEdges"/>
<rect x="506.64" y="262.60" width="14.00" height="5.90" fill="#ffc20e" shape-rendering="crispEdges"/>
<rect x="506.64" y="268.20" width="14.00" height="3.70" fill="#e3e025" shape-rendering="crispEdges"/>
<rect x="506.64" y="271.60" width="14.00" height="3.10" fill="#5ab946" shape-rendering="crispEdges"/>
<rect x="506.64" y="274.40" width="14.00" height="3.90" fill="#22b14c" shape-rendering="crispEdges"/>
<rect x="506.64" y="278.00" width="14.00" height="7.90" fill="#169b48" shape-rendering="crispEdges"/>
<rect x="506.64" y="285.60" width="14.00" height="5.40" fill="#13a89e" shape-rendering="crispEdges"/>
<rect x="506.64" y="290.70" width="14.00" height="4.50" fill="#1c9ad6" shape-rendering="crispEdges"/>
<rect x="506.64" y="294.90" width="14.00" height="16.50" fill="#3273b9" shape-rendering="crispEdges"/>
<rect x="506.64" y="311.10" width="14.00" height="6.60" fill="#6b2c91" shape-rendering="crispEdges"/>
<rect x="534.51" y="256.10" width="14.00" height="25.00" fill="#be1e2d" shape-rendering="crispEdges"/>
<rect x="534.51" y="280.80" width="14.00" height="1.30" fill="#ed1c24" shape-rendering="crispEdges"/>
<rect x="534.51" y="281.80" width="14.00" height="1.30" fill="#f26f21" shape-rendering="crispEdges"/>
<rect x="534.51" y="282.80" width="14.00" height="2.00" fill="#ffc20e" shape-rendering="crispEdges"/>
<rect x="534.51" y="284.50" width="14.00" height="2.30" fill="#e3e025" shape-rendering="crispEdges"/>
<rect x="534.51" y="286.50" width="14.00" height="3.10" fill="#5ab946" shape-rendering="crispEdges"/>
<rect x="534.51" y="289.30" width="14.00" height="2.50" fill="#22b14c" shape-rendering="crispEdges"/>
<rect x="534.51" y="291.50" width="14.00" height="5.60" fill="#169b48" shape-rendering="crispEdges"/>
<rect x="534.51" y="296.80" width="14.00" height="17.50" fill="#3273b9" shape-rendering="crispEdges"/>
<rect x="534.51" y="314.00" width="14.00" height="3.70" fill="#6b2c91" shape-rendering="crispEdges"/>
<rect x="562.38" y="227.00" width="14.00" height="28.90" fill="#be1e2d" shape-rendering="crispEdges"/>
<rect x="562.38" y="255.60" width="14.00" height="3.90" fill="#ed1c24" shape-rendering="crispEdges"/>
<rect x="562.38" y="259.20" width="14.00" height="3.70" fill="#f26f21" shape-rendering="crispEdges"/>
<rect x="562.38" y="262.60" width="14.00" height="5.90" fill="#ffc20e" shape-rendering="crispEdges"/>
<rect x="562.38" y="268.20" width="14.00" height="5.10" fill="#e3e025" shape-rendering="crispEdges"/>
<rect x="562.38" y="273.00" width="14.00" height="4.50" fill="#5ab946" shape-rendering="crispEdges"/>
<rect x="562.38" y="277.20" width="14.00" height="3.70" fill="#22b14c" shape-rendering="crispEdges"/>
<rect x="562.38" y="280.60" width="14.00" height="6.70" fill="#169b48" shape-rendering="crispEdges"/>
<rect x="562.38" y="287.00" width="14.00" height="4.50" fill="#1c9ad6" shape-rendering="crispEdges"/>
<rect x="562.38" y="291.20" width="14.00" height="21.70" fill="#3273b9" shape-rendering="crispEdges"/>
<rect x="562.38" y="312.60" width="14.00" height="5.10" fill="#6b2c91" shape-rendering="crispEdges"/>
<rect x="590.25" y="239.90" width="14.00" height="24.40" fill="#be1e2d" shape-rendering="crispEdges"/>
<rect x="590.25" y="264.00" width="14.00" height="4.00" fill="#ffc20e" shape-rendering="crispEdges"/>
<rect x="590.25" y="267.70" width="14.00" height="2.20" fill="#e3e025" shape-rendering="crispEdges"/>
<rect x="590.25" y="269.60" width="14.00" height="5.10" fill="#5ab946" shape-rendering="crispEdges"/>
<rect x="590.25" y="274.40" width="14.00" height="3.90" fill="#22b14c" shape-rendering="crispEdges"/>
<rect x="590.25" y="278.00" width="14.00" height="10.20" fill="#169b48" shape-rendering="crispEdges"/>
<rect x="590.25" y="287.90" width="14.00" height="27.80" fill="#3273b9" shape-rendering="crispEdges"/>
<rect x="590.25" y="315.40" width="14.00" height="2.30" fill="#6b2c91" shape-rendering="crispEdges"/>
<rect x="443.00" y="187.40" width="169.20" height="130.00" fill="none" stroke="#1a1a1a" stroke-width="0.95"/>
<line x1="441.10" y1="317.40" x2="443.00" y2="317.40" stroke="#1a1a1a" stroke-width="0.6" />
<text x="439.40" y="319.60" font-size="6.5" text-anchor="end" textLength="3.35" lengthAdjust="spacingAndGlyphs" fill="#231f20" stroke="#231f20" stroke-width="0.22">0</text>
<line x1="441.10" y1="295.80" x2="443.00" y2="295.80" stroke="#1a1a1a" stroke-width="0.6" />
<text x="439.40" y="298.00" font-size="6.5" text-anchor="end" textLength="6.70" lengthAdjust="spacingAndGlyphs" fill="#231f20" stroke="#231f20" stroke-width="0.22">20</text>
<line x1="441.10" y1="274.20" x2="443.00" y2="274.20" stroke="#1a1a1a" stroke-width="0.6" />
<text x="439.40" y="276.40" font-size="6.5" text-anchor="end" textLength="6.70" lengthAdjust="spacingAndGlyphs" fill="#231f20" stroke="#231f20" stroke-width="0.22">40</text>
<line x1="441.10" y1="252.60" x2="443.00" y2="252.60" stroke="#1a1a1a" stroke-width="0.6" />
<text x="439.40" y="254.80" font-size="6.5" text-anchor="end" textLength="6.70" lengthAdjust="spacingAndGlyphs" fill="#231f20" stroke="#231f20" stroke-width="0.22">60</text>
<line x1="441.10" y1="231.00" x2="443.00" y2="231.00" stroke="#1a1a1a" stroke-width="0.6" />
<text x="439.40" y="233.20" font-size="6.5" text-anchor="end" textLength="6.70" lengthAdjust="spacingAndGlyphs" fill="#231f20" stroke="#231f20" stroke-width="0.22">80</text>
<line x1="441.10" y1="209.40" x2="443.00" y2="209.40" stroke="#1a1a1a" stroke-width="0.6" />
<text x="439.40" y="211.60" font-size="6.5" text-anchor="end" textLength="10.05" lengthAdjust="spacingAndGlyphs" fill="#231f20" stroke="#231f20" stroke-width="0.22">100</text>
<line x1="441.10" y1="187.80" x2="443.00" y2="187.80" stroke="#1a1a1a" stroke-width="0.6" />
<text x="439.40" y="190.00" font-size="6.5" text-anchor="end" textLength="10.05" lengthAdjust="spacingAndGlyphs" fill="#231f20" stroke="#231f20" stroke-width="0.22">120</text>
<line x1="457.90" y1="317.40" x2="457.90" y2="319.20" stroke="#1a1a1a" stroke-width="0.6" />
<text x="457.30" y="329.00" font-size="9.0" text-anchor="middle" textLength="15.30" lengthAdjust="spacingAndGlyphs" fill="#231f20" stroke="#231f20" stroke-width="0.22">multi</text>
<line x1="485.77" y1="317.40" x2="485.77" y2="319.20" stroke="#1a1a1a" stroke-width="0.6" />
<text x="486.17" y="329.00" font-size="9.0" text-anchor="middle" textLength="17.90" lengthAdjust="spacingAndGlyphs" fill="#231f20" stroke="#231f20" stroke-width="0.22">single</text>
<line x1="513.64" y1="317.40" x2="513.64" y2="319.20" stroke="#1a1a1a" stroke-width="0.6" />
<text x="513.04" y="329.00" font-size="9.0" text-anchor="middle" textLength="15.30" lengthAdjust="spacingAndGlyphs" fill="#231f20" stroke="#231f20" stroke-width="0.22">multi</text>
<line x1="541.51" y1="317.40" x2="541.51" y2="319.20" stroke="#1a1a1a" stroke-width="0.6" />
<text x="541.91" y="329.00" font-size="9.0" text-anchor="middle" textLength="17.90" lengthAdjust="spacingAndGlyphs" fill="#231f20" stroke="#231f20" stroke-width="0.22">single</text>
<line x1="569.38" y1="317.40" x2="569.38" y2="319.20" stroke="#1a1a1a" stroke-width="0.6" />
<text x="568.78" y="329.00" font-size="9.0" text-anchor="middle" textLength="15.30" lengthAdjust="spacingAndGlyphs" fill="#231f20" stroke="#231f20" stroke-width="0.22">multi</text>
<line x1="597.25" y1="317.40" x2="597.25" y2="319.20" stroke="#1a1a1a" stroke-width="0.6" />
<text x="597.65" y="329.00" font-size="9.0" text-anchor="middle" textLength="17.90" lengthAdjust="spacingAndGlyphs" fill="#231f20" stroke="#231f20" stroke-width="0.22">single</text>
<line x1="451.10" y1="333.40" x2="492.57" y2="333.40" stroke="#414042" stroke-width="0.9" />
<text x="470.44" y="343.80" font-size="9.6" text-anchor="middle" textLength="9.30" lengthAdjust="spacingAndGlyphs" fill="#231f20" stroke="#231f20" stroke-width="0.22">Pa</text>
<line x1="506.84" y1="333.40" x2="548.31" y2="333.40" stroke="#414042" stroke-width="0.9" />
<text x="526.17" y="343.80" font-size="9.6" text-anchor="middle" textLength="8.80" lengthAdjust="spacingAndGlyphs" fill="#231f20" stroke="#231f20" stroke-width="0.22">Pc</text>
<line x1="562.58" y1="333.40" x2="604.05" y2="333.40" stroke="#414042" stroke-width="0.9" />
<text x="581.92" y="343.80" font-size="9.6" text-anchor="middle" textLength="9.90" lengthAdjust="spacingAndGlyphs" fill="#231f20" stroke="#231f20" stroke-width="0.22">Pg</text>
<text x="595.20" y="203.10" font-size="17.5" font-weight="bold" fill="#231f20" stroke="#231f20" stroke-width="0.22">e</text>
<text x="621.50" y="172.80" font-size="9.6" textLength="37.90" lengthAdjust="spacingAndGlyphs" fill="#231f20" stroke="#231f20" stroke-width="0.22">Lineages:</text>
<rect x="621.20" y="187.30" width="3.80" height="4.60" fill="#be1e2d" />
<text x="629.90" y="192.30" font-size="8.9" textLength="25.30" lengthAdjust="spacingAndGlyphs" fill="#231f20" stroke="#231f20" stroke-width="0.12">Alveolata</text>
<rect x="621.20" y="195.63" width="3.80" height="4.60" fill="#d7182a" />
<text x="629.90" y="200.63" font-size="8.9" textLength="31.60" lengthAdjust="spacingAndGlyphs" fill="#231f20" stroke="#231f20" stroke-width="0.12">Amoebozoa</text>
<rect x="621.20" y="203.97" width="3.80" height="4.60" fill="#ed1c24" />
<text x="629.90" y="208.97" font-size="8.9" textLength="21.90" lengthAdjust="spacingAndGlyphs" fill="#231f20" stroke="#231f20" stroke-width="0.12">Archaea</text>
<rect x="621.20" y="212.30" width="3.80" height="4.60" fill="#f26f21" />
<text x="629.90" y="217.30" font-size="8.9" textLength="37.60" lengthAdjust="spacingAndGlyphs" fill="#231f20" stroke="#231f20" stroke-width="0.12">other Bacteria</text>
<rect x="621.20" y="220.63" width="3.80" height="4.60" fill="#ffc20e" />
<text x="629.90" y="225.63" font-size="8.9" textLength="38.90" lengthAdjust="spacingAndGlyphs" fill="#231f20" stroke="#231f20" stroke-width="0.12">Chloroplastida</text>
<rect x="621.20" y="228.96" width="3.80" height="4.60" fill="#e3e025" />
<text x="629.90" y="233.96" font-size="8.9" textLength="24.20" lengthAdjust="spacingAndGlyphs" fill="#231f20" stroke="#231f20" stroke-width="0.12">Cryptista</text>
<rect x="621.20" y="237.30" width="3.80" height="4.60" fill="#8dc63f" />
<text x="629.90" y="242.30" font-size="8.9" textLength="20.80" lengthAdjust="spacingAndGlyphs" fill="#231f20" stroke="#231f20" stroke-width="0.12">Discoba</text>
<rect x="621.20" y="245.63" width="3.80" height="4.60" fill="#5ab946" />
<text x="629.90" y="250.63" font-size="8.9" textLength="15.00" lengthAdjust="spacingAndGlyphs" fill="#231f20" stroke="#231f20" stroke-width="0.12">Fungi</text>
<rect x="621.20" y="253.96" width="3.80" height="4.60" fill="#22b14c" />
<text x="629.90" y="258.96" font-size="8.9" textLength="23.00" lengthAdjust="spacingAndGlyphs" fill="#231f20" stroke="#231f20" stroke-width="0.12">Metazoa</text>
<rect x="621.20" y="262.30" width="3.80" height="4.60" fill="#169b48" />
<text x="629.90" y="267.30" font-size="8.9" textLength="53.70" lengthAdjust="spacingAndGlyphs" fill="#231f20" stroke="#231f20" stroke-width="0.12">Opisthokonta-basal</text>
<rect x="621.20" y="270.63" width="3.80" height="4.60" fill="#13a89e" />
<text x="629.90" y="275.63" font-size="8.9" textLength="39.20" lengthAdjust="spacingAndGlyphs" fill="#231f20" stroke="#231f20" stroke-width="0.12">Proteobacteria</text>
<rect x="621.20" y="278.96" width="3.80" height="4.60" fill="#1c9ad6" />
<text x="629.90" y="283.96" font-size="8.9" textLength="21.50" lengthAdjust="spacingAndGlyphs" fill="#231f20" stroke="#231f20" stroke-width="0.12">Rhizaria</text>
<rect x="621.20" y="287.30" width="3.80" height="4.60" fill="#3273b9" />
<text x="629.90" y="292.30" font-size="8.9" textLength="38.90" lengthAdjust="spacingAndGlyphs" fill="#231f20" stroke="#231f20" stroke-width="0.12">Stramenopiles</text>
<rect x="621.20" y="295.63" width="3.80" height="4.60" fill="#3a449c" />
<text x="629.90" y="300.63" font-size="8.9" textLength="18.30" lengthAdjust="spacingAndGlyphs" fill="#231f20" stroke="#231f20" stroke-width="0.12">viruses</text>
<rect x="621.20" y="303.96" width="3.80" height="4.60" fill="#6b2c91" />
<text x="629.90" y="308.96" font-size="8.9" textLength="45.40" lengthAdjust="spacingAndGlyphs" fill="#231f20" stroke="#231f20" stroke-width="0.12">other eukaryotes</text>
<rect x="621.20" y="312.30" width="3.80" height="4.60" fill="#5f6160" />
<text x="629.90" y="317.30" font-size="8.9" textLength="22.30" lengthAdjust="spacingAndGlyphs" fill="#231f20" stroke="#231f20" stroke-width="0.12">Haptista</text>
<text x="0.60" y="371.20" font-size="17.5" font-weight="bold" fill="#231f20" stroke="#231f20" stroke-width="0.22">f</text>
<path d="M5.10 397.30L17.20 397.30M17.20 382.30L17.20 411.60M17.20 382.30L35.00 382.30M35.00 372.50L35.00 392.20M35.00 372.50L56.90 372.50M35.00 392.20L63.50 392.20M17.20 411.60L39.40 411.60" fill="none" stroke="#231f20" stroke-width="1.1" stroke-linecap="square"/>
<text x="47.20" y="371.30" font-size="9.0" text-anchor="middle" textLength="6.70" lengthAdjust="spacingAndGlyphs" fill="#231f20" stroke="#231f20" stroke-width="0.22">23</text>
<text x="46.00" y="381.50" font-size="9.0" text-anchor="middle" textLength="8.90" lengthAdjust="spacingAndGlyphs" fill="#231f20" stroke="#231f20" stroke-width="0.22">-23</text>
<text x="25.80" y="381.50" font-size="9.0" text-anchor="middle" textLength="6.70" lengthAdjust="spacingAndGlyphs" fill="#231f20" stroke="#231f20" stroke-width="0.22">41</text>
<text x="26.30" y="391.30" font-size="9.0" text-anchor="middle" textLength="3.35" lengthAdjust="spacingAndGlyphs" fill="#231f20" stroke="#231f20" stroke-width="0.22">0</text>
<text x="46.70" y="391.30" font-size="9.0" text-anchor="middle" textLength="3.35" lengthAdjust="spacingAndGlyphs" fill="#231f20" stroke="#231f20" stroke-width="0.22">9</text>
<text x="46.00" y="401.00" font-size="9.0" text-anchor="middle" textLength="8.90" lengthAdjust="spacingAndGlyphs" fill="#231f20" stroke="#231f20" stroke-width="0.22">-23</text>
<text x="9.10" y="396.10" font-size="9.0" text-anchor="middle" textLength="10.05" lengthAdjust="spacingAndGlyphs" fill="#231f20" stroke="#231f20" stroke-width="0.22">101</text>
<text x="26.60" y="410.70" font-size="9.0" text-anchor="middle" textLength="3.35" lengthAdjust="spacingAndGlyphs" fill="#231f20" stroke="#231f20" stroke-width="0.22">9</text>
<text x="26.60" y="420.50" font-size="9.0" text-anchor="middle" textLength="3.35" lengthAdjust="spacingAndGlyphs" fill="#231f20" stroke="#231f20" stroke-width="0.22">0</text>
<text x="9.90" y="404.80" font-size="9.0" text-anchor="middle" textLength="2.20" lengthAdjust="spacingAndGlyphs" fill="#231f20" stroke="#231f20" stroke-width="0.22">-</text>
<text x="60.30" y="376.10" font-size="10.4" font-style="italic" textLength="101.20" lengthAdjust="spacingAndGlyphs" fill="#231f20" stroke="#231f20" stroke-width="0.22">Phaeocystis antarctica</text>
<text x="66.90" y="395.80" font-size="10.4" font-style="italic" textLength="91.40" lengthAdjust="spacingAndGlyphs" fill="#231f20" stroke="#231f20" stroke-width="0.22">Phaeocystis globosa</text>
<text x="43.10" y="415.60" font-size="10.4" font-style="italic" textLength="90.10" lengthAdjust="spacingAndGlyphs" fill="#231f20" stroke="#231f20" stroke-width="0.22">Phaeocystis cordata</text>
<text x="1.00" y="446.60" font-size="17.5" font-weight="bold" fill="#231f20" stroke="#231f20" stroke-width="0.22">g</text>
<text x="70.90" y="440.60" font-size="8.6" text-anchor="middle" textLength="31.40" lengthAdjust="spacingAndGlyphs" fill="#231f20" stroke="#231f20" stroke-width="0.22">Phaant1</text>
<text x="180.00" y="440.60" font-size="8.6" text-anchor="middle" textLength="32.10" lengthAdjust="spacingAndGlyphs" fill="#231f20" stroke="#231f20" stroke-width="0.22">Phaglo1</text>
<text x="291.00" y="440.60" font-size="8.6" text-anchor="middle" textLength="36.90" lengthAdjust="spacingAndGlyphs" fill="#231f20" stroke="#231f20" stroke-width="0.22">Phacord1</text>
<text x="13.90" y="487.50" font-size="9.7" text-anchor="middle" textLength="39.00" lengthAdjust="spacingAndGlyphs" fill="#231f20" transform="rotate(-90 13.90 487.50)" stroke="#231f20" stroke-width="0.22">Total HGT</text>
<text x="13.90" y="596.30" font-size="9.7" text-anchor="middle" textLength="71.50" lengthAdjust="spacingAndGlyphs" fill="#231f20" transform="rotate(-90 13.90 596.30)" stroke="#231f20" stroke-width="0.22">Ingroup monoph.</text>
<path d="M70.00 486.00L70.00 453.30A32.70 32.70 0 0 1 81.93 455.55Z" fill="#d5a0cc" stroke="#d5a0cc" stroke-width="0.25"/>
<path d="M70.00 486.00L81.93 455.55A32.70 32.70 0 0 1 102.55 482.87Z" fill="#c378b6" stroke="#c378b6" stroke-width="0.25"/>
<path d="M70.00 486.00L102.55 482.87A32.70 32.70 0 0 1 102.48 489.76Z" fill="#57c5c3" stroke="#57c5c3" stroke-width="0.25"/>
<path d="M70.00 486.00L102.48 489.76A32.70 32.70 0 0 1 101.60 494.41Z" fill="#0a8a8c" stroke="#0a8a8c" stroke-width="0.25"/>
<path d="M70.00 486.00L101.60 494.41A32.70 32.70 0 0 1 96.49 505.17Z" fill="#1b6b35" stroke="#1b6b35" stroke-width="0.25"/>
<path d="M70.00 486.00L96.49 505.17A32.70 32.70 0 0 1 94.64 507.50Z" fill="#22b5b0" stroke="#22b5b0" stroke-width="0.25"/>
<path d="M70.00 486.00L94.64 507.50A32.70 32.70 0 0 1 85.20 514.95Z" fill="#2e8b57" stroke="#2e8b57" stroke-width="0.25"/>
<path d="M70.00 486.00L85.20 514.95A32.70 32.70 0 0 1 83.09 515.97Z" fill="#5bc236" stroke="#5bc236" stroke-width="0.25"/>
<path d="M70.00 486.00L83.09 515.97A32.70 32.70 0 0 1 74.38 518.41Z" fill="#239b4b" stroke="#239b4b" stroke-width="0.25"/>
<path d="M70.00 486.00L74.38 518.41A32.70 32.70 0 0 1 70.00 518.70Z" fill="#90c090" stroke="#90c090" stroke-width="0.25"/>
<path d="M70.00 486.00L70.00 518.70A32.70 32.70 0 0 1 59.03 516.81Z" fill="#6b8e3a" stroke="#6b8e3a" stroke-width="0.25"/>
<path d="M70.00 486.00L59.03 516.81A32.70 32.70 0 0 1 57.75 516.32Z" fill="#8b1a1a" stroke="#8b1a1a" stroke-width="0.25"/>
<path d="M70.00 486.00L57.75 516.32A32.70 32.70 0 0 1 54.25 514.66Z" fill="#ee2228" stroke="#ee2228" stroke-width="0.25"/>
<path d="M70.00 486.00L54.25 514.66A32.70 32.70 0 0 1 47.99 510.19Z" fill="#b82a2a" stroke="#b82a2a" stroke-width="0.25"/>
<path d="M70.00 486.00L47.99 510.19A32.70 32.70 0 0 1 44.37 506.31Z" fill="#d06060" stroke="#d06060" stroke-width="0.25"/>
<path d="M70.00 486.00L44.37 506.31A32.70 32.70 0 0 1 40.32 499.72Z" fill="#f08080" stroke="#f08080" stroke-width="0.25"/>
<path d="M70.00 486.00L40.32 499.72A32.70 32.70 0 0 1 38.95 496.27Z" fill="#7a62b2" stroke="#7a62b2" stroke-width="0.25"/>
<path d="M70.00 486.00L38.95 496.27A32.70 32.70 0 0 1 38.41 494.46Z" fill="#4a62c4" stroke="#4a62c4" stroke-width="0.25"/>
<path d="M70.00 486.00L38.41 494.46A32.70 32.70 0 0 1 37.83 491.85Z" fill="#3a50b0" stroke="#3a50b0" stroke-width="0.25"/>
<path d="M70.00 486.00L37.83 491.85A32.70 32.70 0 0 1 37.44 489.02Z" fill="#1c2a86" stroke="#1c2a86" stroke-width="0.25"/>
<path d="M70.00 486.00L37.44 489.02A32.70 32.70 0 0 1 41.94 469.21Z" fill="#7090d0" stroke="#7090d0" stroke-width="0.25"/>
<path d="M70.00 486.00L41.94 469.21A32.70 32.70 0 0 1 63.98 453.86Z" fill="#4a88c8" stroke="#4a88c8" stroke-width="0.25"/>
<path d="M70.00 486.00L63.98 453.86A32.70 32.70 0 0 1 70.00 453.30Z" fill="#41b6e6" stroke="#41b6e6" stroke-width="0.25"/>
<text x="78.70" y="452.80" font-size="9.0" text-anchor="middle" fill="#231f20" stroke="#231f20" stroke-width="0.22">S</text>
<text x="101.00" y="467.40" font-size="9.0" text-anchor="middle" fill="#231f20" stroke="#231f20" stroke-width="0.22">R</text>
<text x="109.20" y="489.30" font-size="9.0" text-anchor="middle" fill="#231f20" stroke="#231f20" stroke-width="0.22">Q</text>
<text x="107.90" y="496.50" font-size="9.0" text-anchor="middle" fill="#231f20" stroke="#231f20" stroke-width="0.22">P</text>
<text x="104.40" y="505.10" font-size="9.0" text-anchor="middle" fill="#231f20" stroke="#231f20" stroke-width="0.22">I</text>
<text x="101.50" y="512.50" font-size="9.0" text-anchor="middle" fill="#231f20" stroke="#231f20" stroke-width="0.22">H</text>
<text x="95.00" y="518.90" font-size="9.0" text-anchor="middle" fill="#231f20" stroke="#231f20" stroke-width="0.22">G</text>
<text x="87.80" y="523.10" font-size="9.0" text-anchor="middle" fill="#231f20" stroke="#231f20" stroke-width="0.22">F</text>
<text x="80.90" y="525.70" font-size="9.0" text-anchor="middle" fill="#231f20" stroke="#231f20" stroke-width="0.22">E</text>
<text x="74.10" y="526.90" font-size="9.0" text-anchor="middle" fill="#231f20" stroke="#231f20" stroke-width="0.22">D</text>
<text x="61.70" y="526.60" font-size="9.0" text-anchor="middle" fill="#231f20" stroke="#231f20" stroke-width="0.22">C</text>
<text x="56.00" y="524.90" font-size="9.0" text-anchor="middle" fill="#231f20" stroke="#231f20" stroke-width="0.22">L</text>
<text x="51.20" y="523.70" font-size="9.0" text-anchor="middle" fill="#231f20" stroke="#231f20" stroke-width="0.22">K</text>
<text x="46.90" y="520.60" font-size="9.0" text-anchor="middle" fill="#231f20" stroke="#231f20" stroke-width="0.22">J</text>
<text x="41.50" y="516.30" font-size="9.0" text-anchor="middle" fill="#231f20" stroke="#231f20" stroke-width="0.22">B</text>
<text x="36.60" y="510.30" font-size="9.0" text-anchor="middle" fill="#231f20" stroke="#231f20" stroke-width="0.22">A</text>
<text x="33.40" y="503.80" font-size="9.0" text-anchor="middle" fill="#231f20" stroke="#231f20" stroke-width="0.22">Z</text>
<text x="23.70" y="503.80" font-size="9.0" text-anchor="middle" fill="#231f20" stroke="#231f20" stroke-width="0.22">W</text>
<text x="27.90" y="498.10" font-size="9.0" text-anchor="middle" fill="#231f20" stroke="#231f20" stroke-width="0.22">V</text>
<text x="33.10" y="494.40" font-size="9.0" text-anchor="middle" fill="#231f20" stroke="#231f20" stroke-width="0.22">U</text>
<text x="32.40" y="480.20" font-size="9.0" text-anchor="middle" fill="#231f20" stroke="#231f20" stroke-width="0.22">T</text>
<text x="46.90" y="458.40" font-size="9.0" text-anchor="middle" fill="#231f20" stroke="#231f20" stroke-width="0.22">O</text>
<text x="64.60" y="452.40" font-size="9.0" text-anchor="middle" textLength="12.20" lengthAdjust="spacingAndGlyphs" fill="#231f20" stroke="#231f20" stroke-width="0.22">NM</text>
<path d="M180.30 485.80L180.30 453.20A32.60 32.60 0 0 1 191.02 455.01Z" fill="#d5a0cc" stroke="#d5a0cc" stroke-width="0.25"/>
<path d="M180.30 485.80L191.02 455.01A32.60 32.60 0 0 1 212.62 481.54Z" fill="#c378b6" stroke="#c378b6" stroke-width="0.25"/>
<path d="M180.30 485.80L212.62 481.54A32.60 32.60 0 0 1 212.86 487.51Z" fill="#57c5c3" stroke="#57c5c3" stroke-width="0.25"/>
<path d="M180.30 485.80L212.86 487.51A32.60 32.60 0 0 1 212.19 492.58Z" fill="#0a8a8c" stroke="#0a8a8c" stroke-width="0.25"/>
<path d="M180.30 485.80L212.19 492.58A32.60 32.60 0 0 1 209.87 499.53Z" fill="#1b6b35" stroke="#1b6b35" stroke-width="0.25"/>
<path d="M180.30 485.80L209.87 499.53A32.60 32.60 0 0 1 208.04 502.93Z" fill="#22b5b0" stroke="#22b5b0" stroke-width="0.25"/>
<path d="M180.30 485.80L208.04 502.93A32.60 32.60 0 0 1 198.67 512.73Z" fill="#2e8b57" stroke="#2e8b57" stroke-width="0.25"/>
<path d="M180.30 485.80L198.67 512.73A32.60 32.60 0 0 1 196.60 514.03Z" fill="#5bc236" stroke="#5bc236" stroke-width="0.25"/>
<path d="M180.30 485.80L196.60 514.03A32.60 32.60 0 0 1 189.23 517.15Z" fill="#239b4b" stroke="#239b4b" stroke-width="0.25"/>
<path d="M180.30 485.80L189.23 517.15A32.60 32.60 0 0 1 185.79 517.93Z" fill="#90c090" stroke="#90c090" stroke-width="0.25"/>
<path d="M180.30 485.80L185.79 517.93A32.60 32.60 0 0 1 177.74 518.30Z" fill="#6b8e3a" stroke="#6b8e3a" stroke-width="0.25"/>
<path d="M180.30 485.80L177.74 518.30A32.60 32.60 0 0 1 175.54 518.05Z" fill="#8b1a1a" stroke="#8b1a1a" stroke-width="0.25"/>
<path d="M180.30 485.80L175.54 518.05A32.60 32.60 0 0 1 170.28 516.82Z" fill="#ee2228" stroke="#ee2228" stroke-width="0.25"/>
<path d="M180.30 485.80L170.28 516.82A32.60 32.60 0 0 1 164.30 514.20Z" fill="#b82a2a" stroke="#b82a2a" stroke-width="0.25"/>
<path d="M180.30 485.80L164.30 514.20A32.60 32.60 0 0 1 160.68 511.84Z" fill="#d06060" stroke="#d06060" stroke-width="0.25"/>
<path d="M180.30 485.80L160.68 511.84A32.60 32.60 0 0 1 154.58 505.83Z" fill="#f08080" stroke="#f08080" stroke-width="0.25"/>
<path d="M180.30 485.80L154.58 505.83A32.60 32.60 0 0 1 151.98 501.95Z" fill="#7a62b2" stroke="#7a62b2" stroke-width="0.25"/>
<path d="M180.30 485.80L151.98 501.95A32.60 32.60 0 0 1 151.25 500.60Z" fill="#4a62c4" stroke="#4a62c4" stroke-width="0.25"/>
<path d="M180.30 485.80L151.25 500.60A32.60 32.60 0 0 1 149.69 497.00Z" fill="#3a50b0" stroke="#3a50b0" stroke-width="0.25"/>
<path d="M180.30 485.80L149.69 497.00A32.60 32.60 0 0 1 148.42 492.63Z" fill="#1c2a86" stroke="#1c2a86" stroke-width="0.25"/>
<path d="M180.30 485.80L148.42 492.63A32.60 32.60 0 0 1 150.34 472.96Z" fill="#7090d0" stroke="#7090d0" stroke-width="0.25"/>
<path d="M180.30 485.80L150.34 472.96A32.60 32.60 0 0 1 174.08 453.80Z" fill="#4a88c8" stroke="#4a88c8" stroke-width="0.25"/>
<path d="M180.30 485.80L174.08 453.80A32.60 32.60 0 0 1 180.30 453.20Z" fill="#41b6e6" stroke="#41b6e6" stroke-width="0.25"/>
<text x="188.70" y="452.40" font-size="9.0" text-anchor="middle" fill="#231f20" stroke="#231f20" stroke-width="0.22">S</text>
<text x="212.40" y="466.50" font-size="9.0" text-anchor="middle" fill="#231f20" stroke="#231f20" stroke-width="0.22">R</text>
<text x="220.60" y="488.50" font-size="9.0" text-anchor="middle" fill="#231f20" stroke="#231f20" stroke-width="0.22">Q</text>
<text x="220.10" y="495.70" font-size="9.0" text-anchor="middle" fill="#231f20" stroke="#231f20" stroke-width="0.22">P</text>
<text x="217.90" y="502.90" font-size="9.0" text-anchor="middle" fill="#231f20" stroke="#231f20" stroke-width="0.22">I</text>
<text x="215.30" y="509.40" font-size="9.0" text-anchor="middle" fill="#231f20" stroke="#231f20" stroke-width="0.22">H</text>
<text x="209.30" y="517.50" font-size="9.0" text-anchor="middle" fill="#231f20" stroke="#231f20" stroke-width="0.22">G</text>
<text x="201.70" y="523.10" font-size="9.0" text-anchor="middle" fill="#231f20" stroke="#231f20" stroke-width="0.22">F</text>
<text x="196.60" y="526.10" font-size="9.0" text-anchor="middle" fill="#231f20" stroke="#231f20" stroke-width="0.22">E</text>
<text x="188.70" y="528.30" font-size="9.0" text-anchor="middle" fill="#231f20" stroke="#231f20" stroke-width="0.22">D</text>
<text x="181.10" y="529.10" font-size="9.0" text-anchor="middle" fill="#231f20" stroke="#231f20" stroke-width="0.22">C</text>
<text x="175.00" y="528.80" font-size="9.0" text-anchor="middle" fill="#231f20" stroke="#231f20" stroke-width="0.22">L</text>
<text x="170.70" y="527.90" font-size="9.0" text-anchor="middle" fill="#231f20" stroke="#231f20" stroke-width="0.22">K</text>
<text x="164.80" y="525.70" font-size="9.0" text-anchor="middle" fill="#231f20" stroke="#231f20" stroke-width="0.22">J</text>
<text x="157.80" y="522.30" font-size="9.0" text-anchor="middle" fill="#231f20" stroke="#231f20" stroke-width="0.22">B</text>
<text x="152.30" y="518.00" font-size="9.0" text-anchor="middle" fill="#231f20" stroke="#231f20" stroke-width="0.22">A</text>
<text x="147.20" y="511.90" font-size="9.0" text-anchor="middle" fill="#231f20" stroke="#231f20" stroke-width="0.22">Z</text>
<text x="138.20" y="512.00" font-size="9.0" text-anchor="middle" fill="#231f20" stroke="#231f20" stroke-width="0.22">W</text>
<text x="145.10" y="505.10" font-size="9.0" text-anchor="middle" fill="#231f20" stroke="#231f20" stroke-width="0.22">V</text>
<text x="142.00" y="500.00" font-size="9.0" text-anchor="middle" fill="#231f20" stroke="#231f20" stroke-width="0.22">U</text>
<text x="141.20" y="485.40" font-size="9.0" text-anchor="middle" fill="#231f20" stroke="#231f20" stroke-width="0.22">T</text>
<text x="155.40" y="460.00" font-size="9.0" text-anchor="middle" fill="#231f20" stroke="#231f20" stroke-width="0.22">O</text>
<text x="174.30" y="452.40" font-size="9.0" text-anchor="middle" textLength="12.20" lengthAdjust="spacingAndGlyphs" fill="#231f20" stroke="#231f20" stroke-width="0.22">NM</text>
<path d="M291.00 485.80L291.00 453.20A32.60 32.60 0 0 1 303.26 455.60Z" fill="#d5a0cc" stroke="#d5a0cc" stroke-width="0.25"/>
<path d="M291.00 485.80L303.26 455.60A32.60 32.60 0 0 1 323.58 484.61Z" fill="#c378b6" stroke="#c378b6" stroke-width="0.25"/>
<path d="M291.00 485.80L323.58 484.61A32.60 32.60 0 0 1 323.31 490.11Z" fill="#57c5c3" stroke="#57c5c3" stroke-width="0.25"/>
<path d="M291.00 485.80L323.31 490.11A32.60 32.60 0 0 1 322.44 494.40Z" fill="#0a8a8c" stroke="#0a8a8c" stroke-width="0.25"/>
<path d="M291.00 485.80L322.44 494.40A32.60 32.60 0 0 1 318.15 503.84Z" fill="#1b6b35" stroke="#1b6b35" stroke-width="0.25"/>
<path d="M291.00 485.80L318.15 503.84A32.60 32.60 0 0 1 316.33 506.32Z" fill="#22b5b0" stroke="#22b5b0" stroke-width="0.25"/>
<path d="M291.00 485.80L316.33 506.32A32.60 32.60 0 0 1 304.88 515.30Z" fill="#2e8b57" stroke="#2e8b57" stroke-width="0.25"/>
<path d="M291.00 485.80L304.88 515.30A32.60 32.60 0 0 1 303.84 515.76Z" fill="#5bc236" stroke="#5bc236" stroke-width="0.25"/>
<path d="M291.00 485.80L303.84 515.76A32.60 32.60 0 0 1 295.82 518.04Z" fill="#239b4b" stroke="#239b4b" stroke-width="0.25"/>
<path d="M291.00 485.80L295.82 518.04A32.60 32.60 0 0 1 292.37 518.37Z" fill="#90c090" stroke="#90c090" stroke-width="0.25"/>
<path d="M291.00 485.80L292.37 518.37A32.60 32.60 0 0 1 286.01 518.02Z" fill="#6b8e3a" stroke="#6b8e3a" stroke-width="0.25"/>
<path d="M291.00 485.80L286.01 518.02A32.60 32.60 0 0 1 284.72 517.79Z" fill="#8b1a1a" stroke="#8b1a1a" stroke-width="0.25"/>
<path d="M291.00 485.80L284.72 517.79A32.60 32.60 0 0 1 279.85 516.43Z" fill="#ee2228" stroke="#ee2228" stroke-width="0.25"/>
<path d="M291.00 485.80L279.85 516.43A32.60 32.60 0 0 1 273.87 513.54Z" fill="#b82a2a" stroke="#b82a2a" stroke-width="0.25"/>
<path d="M291.00 485.80L273.87 513.54A32.60 32.60 0 0 1 270.71 511.31Z" fill="#d06060" stroke="#d06060" stroke-width="0.25"/>
<path d="M291.00 485.80L270.71 511.31A32.60 32.60 0 0 1 264.76 505.15Z" fill="#f08080" stroke="#f08080" stroke-width="0.25"/>
<path d="M291.00 485.80L264.76 505.15A32.60 32.60 0 0 1 261.88 500.45Z" fill="#7a62b2" stroke="#7a62b2" stroke-width="0.25"/>
<path d="M291.00 485.80L261.88 500.45A32.60 32.60 0 0 1 261.22 499.06Z" fill="#4a62c4" stroke="#4a62c4" stroke-width="0.25"/>
<path d="M291.00 485.80L261.22 499.06A32.60 32.60 0 0 1 260.37 496.95Z" fill="#3a50b0" stroke="#3a50b0" stroke-width="0.25"/>
<path d="M291.00 485.80L260.37 496.95A32.60 32.60 0 0 1 259.25 493.19Z" fill="#1c2a86" stroke="#1c2a86" stroke-width="0.25"/>
<path d="M291.00 485.80L259.25 493.19A32.60 32.60 0 0 1 261.43 472.07Z" fill="#7090d0" stroke="#7090d0" stroke-width="0.25"/>
<path d="M291.00 485.80L261.43 472.07A32.60 32.60 0 0 1 284.95 453.77Z" fill="#4a88c8" stroke="#4a88c8" stroke-width="0.25"/>
<path d="M291.00 485.80L284.95 453.77A32.60 32.60 0 0 1 291.00 453.20Z" fill="#41b6e6" stroke="#41b6e6" stroke-width="0.25"/>
<text x="298.70" y="452.80" font-size="9.0" text-anchor="middle" fill="#231f20" stroke="#231f20" stroke-width="0.22">S</text>
<text x="321.90" y="466.20" font-size="9.0" text-anchor="middle" fill="#231f20" stroke="#231f20" stroke-width="0.22">R</text>
<text x="330.10" y="490.50" font-size="9.0" text-anchor="middle" fill="#231f20" stroke="#231f20" stroke-width="0.22">Q</text>
<text x="329.20" y="497.70" font-size="9.0" text-anchor="middle" fill="#231f20" stroke="#231f20" stroke-width="0.22">P</text>
<text x="325.80" y="505.60" font-size="9.0" text-anchor="middle" fill="#231f20" stroke="#231f20" stroke-width="0.22">I</text>
<text x="322.40" y="512.80" font-size="9.0" text-anchor="middle" fill="#231f20" stroke="#231f20" stroke-width="0.22">H</text>
<text x="315.50" y="519.20" font-size="9.0" text-anchor="middle" fill="#231f20" stroke="#231f20" stroke-width="0.22">G</text>
<text x="307.80" y="524.90" font-size="9.0" text-anchor="middle" fill="#231f20" stroke="#231f20" stroke-width="0.22">F</text>
<text x="300.90" y="527.10" font-size="9.0" text-anchor="middle" fill="#231f20" stroke="#231f20" stroke-width="0.22">E</text>
<text x="294.10" y="527.90" font-size="9.0" text-anchor="middle" fill="#231f20" stroke="#231f20" stroke-width="0.22">D</text>
<text x="288.10" y="527.90" font-size="9.0" text-anchor="middle" fill="#231f20" stroke="#231f20" stroke-width="0.22">C</text>
<text x="282.90" y="527.90" font-size="9.0" text-anchor="middle" fill="#231f20" stroke="#231f20" stroke-width="0.22">L</text>
<text x="278.10" y="526.90" font-size="9.0" text-anchor="middle" fill="#231f20" stroke="#231f20" stroke-width="0.22">K</text>
<text x="273.50" y="525.40" font-size="9.0" text-anchor="middle" fill="#231f20" stroke="#231f20" stroke-width="0.22">J</text>
<text x="267.10" y="522.30" font-size="9.0" text-anchor="middle" fill="#231f20" stroke="#231f20" stroke-width="0.22">B</text>
<text x="260.90" y="516.80" font-size="9.0" text-anchor="middle" fill="#231f20" stroke="#231f20" stroke-width="0.22">A</text>
<text x="256.30" y="511.10" font-size="9.0" text-anchor="middle" fill="#231f20" stroke="#231f20" stroke-width="0.22">Z</text>
<text x="246.00" y="509.40" font-size="9.0" text-anchor="middle" fill="#231f20" stroke="#231f20" stroke-width="0.22">W</text>
<text x="252.00" y="503.70" font-size="9.0" text-anchor="middle" fill="#231f20" stroke="#231f20" stroke-width="0.22">V</text>
<text x="256.30" y="499.60" font-size="9.0" text-anchor="middle" fill="#231f20" stroke="#231f20" stroke-width="0.22">U</text>
<text x="252.00" y="484.90" font-size="9.0" text-anchor="middle" fill="#231f20" stroke="#231f20" stroke-width="0.22">T</text>
<text x="266.90" y="459.60" font-size="9.0" text-anchor="middle" fill="#231f20" stroke="#231f20" stroke-width="0.22">O</text>
<text x="284.30" y="452.40" font-size="9.0" text-anchor="middle" textLength="12.20" lengthAdjust="spacingAndGlyphs" fill="#231f20" stroke="#231f20" stroke-width="0.22">NM</text>
<path d="M70.10 597.70L70.10 564.90A32.80 32.80 0 0 1 83.86 567.92Z" fill="#d5a0cc" stroke="#d5a0cc" stroke-width="0.25"/>
<path d="M70.10 597.70L83.86 567.92A32.80 32.80 0 0 1 102.89 596.84Z" fill="#c378b6" stroke="#c378b6" stroke-width="0.25"/>
<path d="M70.10 597.70L102.89 596.84A32.80 32.80 0 0 1 100.80 609.24Z" fill="#57c5c3" stroke="#57c5c3" stroke-width="0.25"/>
<path d="M70.10 597.70L100.80 609.24A32.80 32.80 0 0 1 100.51 609.99Z" fill="#0a8a8c" stroke="#0a8a8c" stroke-width="0.25"/>
<path d="M70.10 597.70L100.51 609.99A32.80 32.80 0 0 1 93.13 621.05Z" fill="#1b6b35" stroke="#1b6b35" stroke-width="0.25"/>
<path d="M70.10 597.70L93.13 621.05A32.80 32.80 0 0 1 92.47 621.69Z" fill="#22b5b0" stroke="#22b5b0" stroke-width="0.25"/>
<path d="M70.10 597.70L92.47 621.69A32.80 32.80 0 0 1 87.87 625.27Z" fill="#2e8b57" stroke="#2e8b57" stroke-width="0.25"/>
<path d="M70.10 597.70L87.87 625.27A32.80 32.80 0 0 1 84.38 627.23Z" fill="#5bc236" stroke="#5bc236" stroke-width="0.25"/>
<path d="M70.10 597.70L84.38 627.23A32.80 32.80 0 0 1 75.80 630.00Z" fill="#239b4b" stroke="#239b4b" stroke-width="0.25"/>
<path d="M70.10 597.70L75.80 630.00A32.80 32.80 0 0 1 71.13 630.48Z" fill="#90c090" stroke="#90c090" stroke-width="0.25"/>
<path d="M70.10 597.70L71.13 630.48A32.80 32.80 0 0 1 50.87 624.27Z" fill="#6b8e3a" stroke="#6b8e3a" stroke-width="0.25"/>
<path d="M70.10 597.70L50.87 624.27A32.80 32.80 0 0 1 49.37 623.12Z" fill="#8b1a1a" stroke="#8b1a1a" stroke-width="0.25"/>
<path d="M70.10 597.70L49.37 623.12A32.80 32.80 0 0 1 44.86 618.65Z" fill="#ee2228" stroke="#ee2228" stroke-width="0.25"/>
<path d="M70.10 597.70L44.86 618.65A32.80 32.80 0 0 1 44.43 618.12Z" fill="#b82a2a" stroke="#b82a2a" stroke-width="0.25"/>
<path d="M70.10 597.70L44.43 618.12A32.80 32.80 0 0 1 40.16 611.09Z" fill="#f08080" stroke="#f08080" stroke-width="0.25"/>
<path d="M70.10 597.70L40.16 611.09A32.80 32.80 0 0 1 37.52 601.47Z" fill="#7a62b2" stroke="#7a62b2" stroke-width="0.25"/>
<path d="M70.10 597.70L37.52 601.47A32.80 32.80 0 0 1 37.36 599.76Z" fill="#3a50b0" stroke="#3a50b0" stroke-width="0.25"/>
<path d="M70.10 597.70L37.36 599.76A32.80 32.80 0 0 1 37.31 598.39Z" fill="#1c2a86" stroke="#1c2a86" stroke-width="0.25"/>
<path d="M70.10 597.70L37.31 598.39A32.80 32.80 0 0 1 49.77 571.96Z" fill="#7090d0" stroke="#7090d0" stroke-width="0.25"/>
<path d="M70.10 597.70L49.77 571.96A32.80 32.80 0 0 1 67.70 564.99Z" fill="#4a88c8" stroke="#4a88c8" stroke-width="0.25"/>
<path d="M70.10 597.70L67.70 564.99A32.80 32.80 0 0 1 70.10 564.90Z" fill="#41b6e6" stroke="#41b6e6" stroke-width="0.25"/>
<text x="79.20" y="565.80" font-size="9.0" text-anchor="middle" fill="#231f20" stroke="#231f20" stroke-width="0.22">S</text>
<text x="102.40" y="581.20" font-size="9.0" text-anchor="middle" fill="#231f20" stroke="#231f20" stroke-width="0.22">R</text>
<text x="107.50" y="607.80" font-size="9.0" text-anchor="middle" fill="#231f20" stroke="#231f20" stroke-width="0.22">Q</text>
<text x="104.60" y="614.20" font-size="9.0" text-anchor="middle" fill="#231f20" stroke="#231f20" stroke-width="0.22">P</text>
<text x="101.90" y="620.70" font-size="9.0" text-anchor="middle" fill="#231f20" stroke="#231f20" stroke-width="0.22">I</text>
<text x="97.60" y="627.10" font-size="9.0" text-anchor="middle" fill="#231f20" stroke="#231f20" stroke-width="0.22">H</text>
<text x="94.10" y="634.10" font-size="9.0" text-anchor="middle" fill="#231f20" stroke="#231f20" stroke-width="0.22">G</text>
<text x="89.50" y="633.20" font-size="9.0" text-anchor="middle" fill="#231f20" stroke="#231f20" stroke-width="0.22">F</text>
<text x="82.10" y="637.00" font-size="9.0" text-anchor="middle" fill="#231f20" stroke="#231f20" stroke-width="0.22">E</text>
<text x="74.10" y="638.40" font-size="9.0" text-anchor="middle" fill="#231f20" stroke="#231f20" stroke-width="0.22">D</text>
<text x="57.20" y="637.00" font-size="9.0" text-anchor="middle" fill="#231f20" stroke="#231f20" stroke-width="0.22">C</text>
<text x="46.10" y="631.00" font-size="9.0" text-anchor="middle" fill="#231f20" stroke="#231f20" stroke-width="0.22">L</text>
<text x="39.70" y="632.20" font-size="9.0" text-anchor="middle" fill="#231f20" stroke="#231f20" stroke-width="0.22">K</text>
<text x="40.90" y="624.10" font-size="9.0" text-anchor="middle" fill="#231f20" stroke="#231f20" stroke-width="0.22">J</text>
<text x="36.60" y="620.20" font-size="9.0" text-anchor="middle" fill="#231f20" stroke="#231f20" stroke-width="0.22">A</text>
<text x="32.40" y="610.80" font-size="9.0" text-anchor="middle" fill="#231f20" stroke="#231f20" stroke-width="0.22">Z</text>
<text x="26.00" y="606.60" font-size="9.0" text-anchor="middle" fill="#231f20" stroke="#231f20" stroke-width="0.22">V</text>
<text x="31.20" y="601.50" font-size="9.0" text-anchor="middle" fill="#231f20" stroke="#231f20" stroke-width="0.22">U</text>
<text x="35.40" y="585.50" font-size="9.0" text-anchor="middle" fill="#231f20" stroke="#231f20" stroke-width="0.22">T</text>
<text x="54.80" y="567.00" font-size="9.0" text-anchor="middle" fill="#231f20" stroke="#231f20" stroke-width="0.22">O</text>
<text x="66.30" y="564.40" font-size="9.0" text-anchor="middle" fill="#231f20" stroke="#231f20" stroke-width="0.22">M</text>
<path d="M181.00 596.30L181.00 563.40A32.90 32.90 0 0 1 187.62 564.07Z" fill="#d5a0cc" stroke="#d5a0cc" stroke-width="0.25"/>
<path d="M181.00 596.30L187.62 564.07A32.90 32.90 0 0 1 213.68 592.52Z" fill="#c378b6" stroke="#c378b6" stroke-width="0.25"/>
<path d="M181.00 596.30L213.68 592.52A32.90 32.90 0 0 1 213.80 598.88Z" fill="#57c5c3" stroke="#57c5c3" stroke-width="0.25"/>
<path d="M181.00 596.30L213.80 598.88A32.90 32.90 0 0 1 213.44 601.79Z" fill="#0a8a8c" stroke="#0a8a8c" stroke-width="0.25"/>
<path d="M181.00 596.30L213.44 601.79A32.90 32.90 0 0 1 210.47 610.93Z" fill="#1b6b35" stroke="#1b6b35" stroke-width="0.25"/>
<path d="M181.00 596.30L210.47 610.93A32.90 32.90 0 0 1 209.69 612.40Z" fill="#22b5b0" stroke="#22b5b0" stroke-width="0.25"/>
<path d="M181.00 596.30L209.69 612.40A32.90 32.90 0 0 1 204.79 619.03Z" fill="#2e8b57" stroke="#2e8b57" stroke-width="0.25"/>
<path d="M181.00 596.30L204.79 619.03A32.90 32.90 0 0 1 203.01 620.75Z" fill="#5bc236" stroke="#5bc236" stroke-width="0.25"/>
<path d="M181.00 596.30L203.01 620.75A32.90 32.90 0 0 1 193.91 626.56Z" fill="#239b4b" stroke="#239b4b" stroke-width="0.25"/>
<path d="M181.00 596.30L193.91 626.56A32.90 32.90 0 0 1 189.74 628.02Z" fill="#90c090" stroke="#90c090" stroke-width="0.25"/>
<path d="M181.00 596.30L189.74 628.02A32.90 32.90 0 0 1 172.87 628.18Z" fill="#6b8e3a" stroke="#6b8e3a" stroke-width="0.25"/>
<path d="M181.00 596.30L172.87 628.18A32.90 32.90 0 0 1 165.00 625.05Z" fill="#ee2228" stroke="#ee2228" stroke-width="0.25"/>
<path d="M181.00 596.30L165.00 625.05A32.90 32.90 0 0 1 163.71 624.29Z" fill="#b82a2a" stroke="#b82a2a" stroke-width="0.25"/>
<path d="M181.00 596.30L163.71 624.29A32.90 32.90 0 0 1 157.98 619.81Z" fill="#f08080" stroke="#f08080" stroke-width="0.25"/>
<path d="M181.00 596.30L157.98 619.81A32.90 32.90 0 0 1 154.97 616.42Z" fill="#7a62b2" stroke="#7a62b2" stroke-width="0.25"/>
<path d="M181.00 596.30L154.97 616.42A32.90 32.90 0 0 1 153.98 615.08Z" fill="#3a50b0" stroke="#3a50b0" stroke-width="0.25"/>
<path d="M181.00 596.30L153.98 615.08A32.90 32.90 0 0 1 150.85 583.13Z" fill="#7090d0" stroke="#7090d0" stroke-width="0.25"/>
<path d="M181.00 596.30L150.85 583.13A32.90 32.90 0 0 1 178.02 563.54Z" fill="#4a88c8" stroke="#4a88c8" stroke-width="0.25"/>
<path d="M181.00 596.30L178.02 563.54A32.90 32.90 0 0 1 181.00 563.40Z" fill="#41b6e6" stroke="#41b6e6" stroke-width="0.25"/>
<text x="186.60" y="562.00" font-size="9.0" text-anchor="middle" fill="#231f20" stroke="#231f20" stroke-width="0.22">S</text>
<text x="210.70" y="574.00" font-size="9.0" text-anchor="middle" fill="#231f20" stroke="#231f20" stroke-width="0.22">R</text>
<text x="221.30" y="598.70" font-size="9.0" text-anchor="middle" fill="#231f20" stroke="#231f20" stroke-width="0.22">Q</text>
<text x="220.10" y="604.90" font-size="9.0" text-anchor="middle" fill="#231f20" stroke="#231f20" stroke-width="0.22">P</text>
<text x="217.50" y="611.60" font-size="9.0" text-anchor="middle" fill="#231f20" stroke="#231f20" stroke-width="0.22">I</text>
<text x="217.00" y="617.80" font-size="9.0" text-anchor="middle" fill="#231f20" stroke="#231f20" stroke-width="0.22">H</text>
<text x="214.40" y="624.50" font-size="9.0" text-anchor="middle" fill="#231f20" stroke="#231f20" stroke-width="0.22">G</text>
<text x="208.60" y="628.80" font-size="9.0" text-anchor="middle" fill="#231f20" stroke="#231f20" stroke-width="0.22">F</text>
<text x="201.70" y="633.10" font-size="9.0" text-anchor="middle" fill="#231f20" stroke="#231f20" stroke-width="0.22">E</text>
<text x="194.40" y="637.00" font-size="9.0" text-anchor="middle" fill="#231f20" stroke="#231f20" stroke-width="0.22">D</text>
<text x="181.00" y="638.40" font-size="9.0" text-anchor="middle" fill="#231f20" stroke="#231f20" stroke-width="0.22">C</text>
<text x="165.20" y="636.20" font-size="9.0" text-anchor="middle" fill="#231f20" stroke="#231f20" stroke-width="0.22">K</text>
<text x="160.90" y="633.90" font-size="9.0" text-anchor="middle" fill="#231f20" stroke="#231f20" stroke-width="0.22">J</text>
<text x="155.70" y="630.10" font-size="9.0" text-anchor="middle" fill="#231f20" stroke="#231f20" stroke-width="0.22">A</text>
<text x="150.90" y="626.70" font-size="9.0" text-anchor="middle" fill="#231f20" stroke="#231f20" stroke-width="0.22">Z</text>
<text x="146.60" y="622.80" font-size="9.0" text-anchor="middle" fill="#231f20" stroke="#231f20" stroke-width="0.22">V</text>
<text x="141.70" y="603.50" font-size="9.0" text-anchor="middle" fill="#231f20" stroke="#231f20" stroke-width="0.22">T</text>
<text x="157.10" y="569.20" font-size="9.0" text-anchor="middle" fill="#231f20" stroke="#231f20" stroke-width="0.22">O</text>
<text x="177.20" y="562.00" font-size="9.0" text-anchor="middle" fill="#231f20" stroke="#231f20" stroke-width="0.22">M</text>
<path d="M290.60 596.30L290.60 563.70A32.60 32.60 0 0 1 301.86 565.71Z" fill="#d5a0cc" stroke="#d5a0cc" stroke-width="0.25"/>
<path d="M290.60 596.30L301.86 565.71A32.60 32.60 0 0 1 323.20 595.96Z" fill="#c378b6" stroke="#c378b6" stroke-width="0.25"/>
<path d="M290.60 596.30L323.20 595.96A32.60 32.60 0 0 1 322.27 604.02Z" fill="#57c5c3" stroke="#57c5c3" stroke-width="0.25"/>
<path d="M290.60 596.30L322.27 604.02A32.60 32.60 0 0 1 321.53 606.59Z" fill="#0a8a8c" stroke="#0a8a8c" stroke-width="0.25"/>
<path d="M290.60 596.30L321.53 606.59A32.60 32.60 0 0 1 314.09 618.90Z" fill="#1b6b35" stroke="#1b6b35" stroke-width="0.25"/>
<path d="M290.60 596.30L314.09 618.90A32.60 32.60 0 0 1 313.33 619.67Z" fill="#22b5b0" stroke="#22b5b0" stroke-width="0.25"/>
<path d="M290.60 596.30L313.33 619.67A32.60 32.60 0 0 1 307.73 624.04Z" fill="#2e8b57" stroke="#2e8b57" stroke-width="0.25"/>
<path d="M290.60 596.30L307.73 624.04A32.60 32.60 0 0 1 305.20 625.45Z" fill="#5bc236" stroke="#5bc236" stroke-width="0.25"/>
<path d="M290.60 596.30L305.20 625.45A32.60 32.60 0 0 1 296.93 628.28Z" fill="#239b4b" stroke="#239b4b" stroke-width="0.25"/>
<path d="M290.60 596.30L296.93 628.28A32.60 32.60 0 0 1 294.01 628.72Z" fill="#90c090" stroke="#90c090" stroke-width="0.25"/>
<path d="M290.60 596.30L294.01 628.72A32.60 32.60 0 0 1 287.19 628.72Z" fill="#6b8e3a" stroke="#6b8e3a" stroke-width="0.25"/>
<path d="M290.60 596.30L287.19 628.72A32.60 32.60 0 0 1 285.95 628.57Z" fill="#8b1a1a" stroke="#8b1a1a" stroke-width="0.25"/>
<path d="M290.60 596.30L285.95 628.57A32.60 32.60 0 0 1 279.08 626.80Z" fill="#ee2228" stroke="#ee2228" stroke-width="0.25"/>
<path d="M290.60 596.30L279.08 626.80A32.60 32.60 0 0 1 277.65 626.22Z" fill="#b82a2a" stroke="#b82a2a" stroke-width="0.25"/>
<path d="M290.60 596.30L277.65 626.22A32.60 32.60 0 0 1 270.75 622.16Z" fill="#f08080" stroke="#f08080" stroke-width="0.25"/>
<path d="M290.60 596.30L270.75 622.16A32.60 32.60 0 0 1 265.74 617.39Z" fill="#7a62b2" stroke="#7a62b2" stroke-width="0.25"/>
<path d="M290.60 596.30L265.74 617.39A32.60 32.60 0 0 1 264.03 615.18Z" fill="#3a50b0" stroke="#3a50b0" stroke-width="0.25"/>
<path d="M290.60 596.30L264.03 615.18A32.60 32.60 0 0 1 260.33 584.19Z" fill="#7090d0" stroke="#7090d0" stroke-width="0.25"/>
<path d="M290.60 596.30L260.33 584.19A32.60 32.60 0 0 1 281.18 565.09Z" fill="#4a88c8" stroke="#4a88c8" stroke-width="0.25"/>
<path d="M290.60 596.30L281.18 565.09A32.60 32.60 0 0 1 290.60 563.70Z" fill="#41b6e6" stroke="#41b6e6" stroke-width="0.25"/>
<text x="298.70" y="562.70" font-size="9.0" text-anchor="middle" fill="#231f20" stroke="#231f20" stroke-width="0.22">S</text>
<text x="324.10" y="579.90" font-size="9.0" text-anchor="middle" fill="#231f20" stroke="#231f20" stroke-width="0.22">R</text>
<text x="329.20" y="607.80" font-size="9.0" text-anchor="middle" fill="#231f20" stroke="#231f20" stroke-width="0.22">Q</text>
<text x="327.50" y="613.80" font-size="9.0" text-anchor="middle" fill="#231f20" stroke="#231f20" stroke-width="0.22">P</text>
<text x="322.00" y="622.40" font-size="9.0" text-anchor="middle" fill="#231f20" stroke="#231f20" stroke-width="0.22">I</text>
<text x="317.60" y="627.60" font-size="9.0" text-anchor="middle" fill="#231f20" stroke="#231f20" stroke-width="0.22">H</text>
<text x="316.70" y="634.40" font-size="9.0" text-anchor="middle" fill="#231f20" stroke="#231f20" stroke-width="0.22">G</text>
<text x="309.20" y="634.80" font-size="9.0" text-anchor="middle" fill="#231f20" stroke="#231f20" stroke-width="0.22">F</text>
<text x="303.20" y="636.20" font-size="9.0" text-anchor="middle" fill="#231f20" stroke="#231f20" stroke-width="0.22">E</text>
<text x="296.30" y="638.40" font-size="9.0" text-anchor="middle" fill="#231f20" stroke="#231f20" stroke-width="0.22">D</text>
<text x="288.60" y="638.40" font-size="9.0" text-anchor="middle" fill="#231f20" stroke="#231f20" stroke-width="0.22">C</text>
<text x="285.00" y="641.90" font-size="9.0" text-anchor="middle" fill="#231f20" stroke="#231f20" stroke-width="0.22">L</text>
<text x="280.70" y="637.90" font-size="9.0" text-anchor="middle" fill="#231f20" stroke="#231f20" stroke-width="0.22">K</text>
<text x="276.60" y="637.00" font-size="9.0" text-anchor="middle" fill="#231f20" stroke="#231f20" stroke-width="0.22">J</text>
<text x="270.90" y="633.60" font-size="9.0" text-anchor="middle" fill="#231f20" stroke="#231f20" stroke-width="0.22">A</text>
<text x="263.20" y="628.40" font-size="9.0" text-anchor="middle" fill="#231f20" stroke="#231f20" stroke-width="0.22">Z</text>
<text x="257.70" y="623.60" font-size="9.0" text-anchor="middle" fill="#231f20" stroke="#231f20" stroke-width="0.22">V</text>
<text x="251.50" y="603.20" font-size="9.0" text-anchor="middle" fill="#231f20" stroke="#231f20" stroke-width="0.22">T</text>
<text x="264.00" y="571.30" font-size="9.0" text-anchor="middle" fill="#231f20" stroke="#231f20" stroke-width="0.22">O</text>
<text x="282.90" y="562.40" font-size="9.0" text-anchor="middle" fill="#231f20" stroke="#231f20" stroke-width="0.22">M</text>
<text x="352.60" y="375.00" font-size="17.5" font-weight="bold" fill="#231f20" stroke="#231f20" stroke-width="0.22">h</text>
<path d="M432.85 428.71A132.00 132.00 0 0 1 442.81 413.35L445.37 415.28A128.80 128.80 0 0 0 435.65 430.26Z" fill="#c3c8c8"/>
<path d="M442.60 413.63A132.00 132.00 0 0 1 450.75 403.78L453.11 405.93A128.80 128.80 0 0 0 445.17 415.55Z" fill="#a0527f"/>
<path d="M450.51 404.03A132.00 132.00 0 0 1 453.11 401.25L455.42 403.47A128.80 128.80 0 0 0 452.88 406.18Z" fill="#4cb85c"/>
<path d="M452.87 401.50A132.00 132.00 0 0 1 461.09 393.61L463.21 396.01A128.80 128.80 0 0 0 455.18 403.71Z" fill="#b074a8"/>
<path d="M460.83 393.84A132.00 132.00 0 0 1 466.94 388.75L468.91 391.27A128.80 128.80 0 0 0 462.95 396.23Z" fill="#c3c8c8"/>
<path d="M466.67 388.97A132.00 132.00 0 0 1 476.70 381.81L478.43 384.50A128.80 128.80 0 0 0 468.65 391.48Z" fill="#4cb85c"/>
<path d="M476.41 382.00A132.00 132.00 0 0 1 489.92 374.31L491.33 377.18A128.80 128.80 0 0 0 478.15 384.68Z" fill="#8c8c8c"/>
<path d="M489.61 374.47A132.00 132.00 0 0 1 498.96 370.27L500.15 373.24A128.80 128.80 0 0 0 491.03 377.33Z" fill="#c3c8c8"/>
<path d="M498.64 370.40A132.00 132.00 0 0 1 511.81 365.85L512.69 368.92A128.80 128.80 0 0 0 499.84 373.36Z" fill="#c08458"/>
<path d="M511.47 365.94A132.00 132.00 0 0 1 545.19 360.74L545.27 363.94A128.80 128.80 0 0 0 512.37 369.01Z" fill="#c3c8c8"/>
<path d="M544.84 360.75A132.00 132.00 0 0 1 548.42 360.70L548.41 363.90A128.80 128.80 0 0 0 544.93 363.94Z" fill="#4cb85c"/>
<path d="M548.07 360.70A132.00 132.00 0 0 1 568.38 362.24L567.89 365.40A128.80 128.80 0 0 0 548.08 363.90Z" fill="#78b6e4"/>
<path d="M568.04 362.18A132.00 132.00 0 0 1 600.83 371.60L599.56 374.54A128.80 128.80 0 0 0 567.56 365.35Z" fill="#c08458"/>
<path d="M600.51 371.47A132.00 132.00 0 0 1 616.38 379.61L614.73 382.35A128.80 128.80 0 0 0 599.25 374.40Z" fill="#c3c8c8"/>
<path d="M616.09 379.44A132.00 132.00 0 0 1 623.35 384.11L621.53 386.74A128.80 128.80 0 0 0 614.44 382.18Z" fill="#8c8c8c"/>
<path d="M623.07 383.92A132.00 132.00 0 0 1 635.16 393.31L633.05 395.71A128.80 128.80 0 0 0 621.25 386.55Z" fill="#c08458"/>
<path d="M634.90 393.08A132.00 132.00 0 0 1 638.58 396.40L636.39 398.73A128.80 128.80 0 0 0 632.80 395.49Z" fill="#c8662a"/>
<path d="M638.32 396.16A132.00 132.00 0 0 1 643.17 400.92L640.87 403.15A128.80 128.80 0 0 0 636.14 398.50Z" fill="#c08458"/>
<path d="M642.93 400.67A132.00 132.00 0 0 1 653.93 413.54L651.37 415.46A128.80 128.80 0 0 0 640.64 402.91Z" fill="#a0527f"/>
<path d="M653.72 413.26A132.00 132.00 0 0 1 657.93 419.17L655.27 420.96A128.80 128.80 0 0 0 651.16 415.19Z" fill="#8c8c8c"/>
<path d="M657.73 418.89A132.00 132.00 0 0 1 661.03 424.03L658.30 425.69A128.80 128.80 0 0 0 655.08 420.68Z" fill="#c8662a"/>
<path d="M660.85 423.73A132.00 132.00 0 0 1 666.07 433.08L663.21 434.53A128.80 128.80 0 0 0 658.12 425.40Z" fill="#c3c8c8"/>
<path d="M665.91 432.77A132.00 132.00 0 0 1 670.30 442.29L667.34 443.51A128.80 128.80 0 0 0 663.06 434.23Z" fill="#c8662a"/>
<path d="M670.16 441.97A132.00 132.00 0 0 1 671.66 445.72L668.67 446.86A128.80 128.80 0 0 0 667.21 443.20Z" fill="#9e62b0"/>
<path d="M671.53 445.40A132.00 132.00 0 0 1 672.84 448.96L669.82 450.02A128.80 128.80 0 0 0 668.55 446.54Z" fill="#c8662a"/>
<path d="M672.73 448.64A132.00 132.00 0 0 1 673.95 452.24L670.90 453.22A128.80 128.80 0 0 0 669.71 449.71Z" fill="#78b6e4"/>
<path d="M673.84 451.91A132.00 132.00 0 0 1 676.46 461.10L673.36 461.87A128.80 128.80 0 0 0 670.80 452.90Z" fill="#9e62b0"/>
<path d="M676.38 460.77A132.00 132.00 0 0 1 678.35 470.12L675.20 470.67A128.80 128.80 0 0 0 673.27 461.54Z" fill="#b074a8"/>
<path d="M678.29 469.78A132.00 132.00 0 0 1 680.00 483.84L676.81 484.05A128.80 128.80 0 0 0 675.14 470.33Z" fill="#9e62b0"/>
<path d="M679.98 483.49A132.00 132.00 0 0 1 680.10 499.95L676.91 499.78A128.80 128.80 0 0 0 676.79 483.72Z" fill="#b074a8"/>
<path d="M680.12 499.61A132.00 132.00 0 0 1 679.95 502.25L676.76 502.02A128.80 128.80 0 0 0 676.92 499.44Z" fill="#a0527f"/>
<path d="M679.98 501.91A132.00 132.00 0 0 1 674.90 530.08L671.83 529.17A128.80 128.80 0 0 0 676.79 501.68Z" fill="#c3c8c8"/>
<path d="M674.99 529.75A132.00 132.00 0 0 1 670.65 542.25L667.68 541.05A128.80 128.80 0 0 0 671.92 528.85Z" fill="#8c8c8c"/>
<path d="M670.77 541.93A132.00 132.00 0 0 1 664.58 555.18L661.76 553.66A128.80 128.80 0 0 0 667.81 540.74Z" fill="#c8662a"/>
<path d="M664.74 554.87A132.00 132.00 0 0 1 663.02 558.00L660.24 556.42A128.80 128.80 0 0 0 661.92 553.37Z" fill="#8c8c8c"/>
<path d="M663.19 557.70A132.00 132.00 0 0 1 661.27 560.98L658.53 559.33A128.80 128.80 0 0 0 660.40 556.12Z" fill="#c8662a"/>
<path d="M661.45 560.69A132.00 132.00 0 0 1 659.44 563.91L656.75 562.19A128.80 128.80 0 0 0 658.70 559.04Z" fill="#8c8c8c"/>
<path d="M659.63 563.62A132.00 132.00 0 0 1 656.76 567.94L654.13 566.12A128.80 128.80 0 0 0 656.93 561.90Z" fill="#c8662a"/>
<path d="M656.95 567.66A132.00 132.00 0 0 1 654.20 571.49L651.64 569.58A128.80 128.80 0 0 0 654.32 565.84Z" fill="#8c8c8c"/>
<path d="M654.41 571.22A132.00 132.00 0 0 1 649.20 577.81L646.75 575.75A128.80 128.80 0 0 0 651.84 569.31Z" fill="#c8662a"/>
<path d="M649.42 577.55A132.00 132.00 0 0 1 646.32 581.11L643.94 578.97A128.80 128.80 0 0 0 646.97 575.49Z" fill="#8c8c8c"/>
<path d="M646.55 580.85A132.00 132.00 0 0 1 636.88 590.56L634.73 588.19A128.80 128.80 0 0 0 644.17 578.72Z" fill="#c8662a"/>
<path d="M637.14 590.33A132.00 132.00 0 0 1 623.73 601.03L621.90 598.40A128.80 128.80 0 0 0 634.98 587.96Z" fill="#9e62b0"/>
<path d="M624.01 600.83A132.00 132.00 0 0 1 607.92 610.47L606.47 607.61A128.80 128.80 0 0 0 622.18 598.21Z" fill="#8c8c8c"/>
<path d="M608.23 610.31A132.00 132.00 0 0 1 585.02 619.49L584.13 616.42A128.80 128.80 0 0 0 606.77 607.46Z" fill="#c3c8c8"/>
<path d="M585.35 619.39A132.00 132.00 0 0 1 566.78 623.40L566.34 620.23A128.80 128.80 0 0 0 584.45 616.32Z" fill="#78b6e4"/>
<path d="M567.13 623.35A132.00 132.00 0 0 1 557.62 624.37L557.40 621.18A128.80 128.80 0 0 0 566.67 620.18Z" fill="#8c8c8c"/>
<path d="M557.97 624.35A132.00 132.00 0 0 1 549.57 624.69L549.54 621.49A128.80 128.80 0 0 0 557.73 621.15Z" fill="#fdae6b"/>
<path d="M549.91 624.69A132.00 132.00 0 0 1 526.40 622.87L526.93 619.71A128.80 128.80 0 0 0 549.87 621.49Z" fill="#4cb85c"/>
<path d="M526.74 622.93A132.00 132.00 0 0 1 514.47 620.29L515.29 617.20A128.80 128.80 0 0 0 527.26 619.77Z" fill="#a0527f"/>
<path d="M514.80 620.38A132.00 132.00 0 0 1 507.18 618.13L508.18 615.09A128.80 128.80 0 0 0 515.62 617.28Z" fill="#fdae6b"/>
<path d="M507.51 618.24A132.00 132.00 0 0 1 503.91 617.01L504.99 614.00A128.80 128.80 0 0 0 508.50 615.20Z" fill="#c8662a"/>
<path d="M504.24 617.13A132.00 132.00 0 0 1 499.39 615.30L500.57 612.33A128.80 128.80 0 0 0 505.31 614.11Z" fill="#fdae6b"/>
<path d="M499.71 615.43A132.00 132.00 0 0 1 492.20 612.19L493.56 609.29A128.80 128.80 0 0 0 500.89 612.46Z" fill="#c8662a"/>
<path d="M492.51 612.33A132.00 132.00 0 0 1 488.07 610.16L489.53 607.31A128.80 128.80 0 0 0 493.87 609.43Z" fill="#c08458"/>
<path d="M488.37 610.31A132.00 132.00 0 0 1 478.06 604.46L479.76 601.75A128.80 128.80 0 0 0 489.83 607.46Z" fill="#c8662a"/>
<path d="M478.35 604.64A132.00 132.00 0 0 1 474.20 601.94L476.00 599.29A128.80 128.80 0 0 0 480.05 601.93Z" fill="#c08458"/>
<path d="M474.49 602.13A132.00 132.00 0 0 1 466.76 596.50L468.74 593.99A128.80 128.80 0 0 0 476.28 599.48Z" fill="#c8662a"/>
<path d="M467.03 596.72A132.00 132.00 0 0 1 461.27 591.94L463.38 589.54A128.80 128.80 0 0 0 469.00 594.20Z" fill="#fdae6b"/>
<path d="M461.53 592.17A132.00 132.00 0 0 1 447.70 578.16L450.14 576.09A128.80 128.80 0 0 0 463.63 589.76Z" fill="#8c8c8c"/>
<path d="M447.93 578.43A132.00 132.00 0 0 1 446.23 576.40L448.70 574.37A128.80 128.80 0 0 0 450.36 576.35Z" fill="#c8662a"/>
<path d="M446.45 576.66A132.00 132.00 0 0 1 441.31 570.01L443.90 568.13A128.80 128.80 0 0 0 448.91 574.63Z" fill="#8c8c8c"/>
<path d="M441.51 570.29A132.00 132.00 0 0 1 436.17 562.36L438.89 560.67A128.80 128.80 0 0 0 444.10 568.41Z" fill="#c08458"/>
<path d="M436.36 562.65A132.00 132.00 0 0 1 433.81 558.40L436.59 556.81A128.80 128.80 0 0 0 439.07 560.95Z" fill="#c8662a"/>
<path d="M433.98 558.70A132.00 132.00 0 0 1 432.13 555.38L434.95 553.86A128.80 128.80 0 0 0 436.76 557.10Z" fill="#4cb85c"/>
<path d="M432.30 555.68A132.00 132.00 0 0 1 430.53 552.32L433.39 550.87A128.80 128.80 0 0 0 435.11 554.16Z" fill="#c8662a"/>
<path d="M430.69 552.63A132.00 132.00 0 0 1 428.33 547.75L431.24 546.42A128.80 128.80 0 0 0 433.54 551.17Z" fill="#4cb85c"/>
<path d="M428.47 548.07A132.00 132.00 0 0 1 426.66 543.96L429.61 542.72A128.80 128.80 0 0 0 431.38 546.73Z" fill="#c8662a"/>
<path d="M426.79 544.28A132.00 132.00 0 0 1 425.36 540.76L428.34 539.59A128.80 128.80 0 0 0 429.74 543.03Z" fill="#8c8c8c"/>
<path d="M425.48 541.08A132.00 132.00 0 0 1 423.91 536.87L426.93 535.80A128.80 128.80 0 0 0 428.46 539.91Z" fill="#c8662a"/>
<path d="M424.03 537.20A132.00 132.00 0 0 1 421.64 529.86L424.71 528.96A128.80 128.80 0 0 0 427.04 536.12Z" fill="#8c8c8c"/>
<path d="M421.74 530.19A132.00 132.00 0 0 1 416.81 504.32L420.00 504.04A128.80 128.80 0 0 0 424.80 529.28Z" fill="#c08458"/>
<path d="M416.84 504.66A132.00 132.00 0 0 1 418.49 468.76L421.64 469.34A128.80 128.80 0 0 0 420.03 504.37Z" fill="#9e62b0"/>
<path d="M418.43 469.10A132.00 132.00 0 0 1 419.26 464.92L422.39 465.59A128.80 128.80 0 0 0 421.58 469.67Z" fill="#fdae6b"/>
<path d="M419.18 465.26A132.00 132.00 0 0 1 424.38 447.23L427.38 448.33A128.80 128.80 0 0 0 422.31 465.92Z" fill="#a0527f"/>
<path d="M436.11 429.23A128.90 128.90 0 0 1 436.89 427.86L439.49 429.37A125.90 125.90 0 0 0 438.72 430.70Z" fill="#1f4e9c"/>
<path d="M445.36 415.13A128.90 128.90 0 0 1 451.76 407.29L454.01 409.28A125.90 125.90 0 0 0 447.75 416.93Z" fill="#1f4e9c"/>
<path d="M455.11 403.65A128.90 128.90 0 0 1 456.20 402.51L458.35 404.61A125.90 125.90 0 0 0 457.28 405.72Z" fill="#1f4e9c"/>
<path d="M466.31 393.24A128.90 128.90 0 0 1 467.53 392.24L469.41 394.58A125.90 125.90 0 0 0 468.22 395.55Z" fill="#4180cc"/>
<path d="M468.94 391.13A128.90 128.90 0 0 1 491.79 376.85L493.11 379.54A125.90 125.90 0 0 0 470.79 393.49Z" fill="#4180cc"/>
<path d="M500.01 373.19A128.90 128.90 0 0 1 508.47 370.11L509.39 372.96A125.90 125.90 0 0 0 501.14 375.97Z" fill="#4180cc"/>
<path d="M545.60 363.83A128.90 128.90 0 0 1 548.97 363.80L548.96 366.80A125.90 125.90 0 0 0 545.66 366.83Z" fill="#1f4e9c"/>
<path d="M551.67 363.84A128.90 128.90 0 0 1 552.80 363.88L552.69 366.88A125.90 125.90 0 0 0 551.60 366.84Z" fill="#1f4e9c"/>
<path d="M560.21 364.35A128.90 128.90 0 0 1 561.33 364.46L561.02 367.44A125.90 125.90 0 0 0 559.93 367.34Z" fill="#1f4e9c"/>
<path d="M566.24 365.05A128.90 128.90 0 0 1 570.68 365.76L570.16 368.71A125.90 125.90 0 0 0 565.82 368.03Z" fill="#1f4e9c"/>
<path d="M577.30 367.10A128.90 128.90 0 0 1 601.75 375.41L600.51 378.14A125.90 125.90 0 0 0 576.62 370.03Z" fill="#4180cc"/>
<path d="M604.20 376.55A128.90 128.90 0 0 1 605.41 377.14L604.08 379.83A125.90 125.90 0 0 0 602.90 379.25Z" fill="#1f4e9c"/>
<path d="M608.42 378.68A128.90 128.90 0 0 1 609.61 379.31L608.18 381.95A125.90 125.90 0 0 0 607.02 381.33Z" fill="#1f4e9c"/>
<path d="M611.38 380.29A128.90 128.90 0 0 1 612.36 380.85L610.87 383.45A125.90 125.90 0 0 0 609.91 382.91Z" fill="#1f4e9c"/>
<path d="M614.69 382.21A128.90 128.90 0 0 1 619.44 385.21L617.79 387.71A125.90 125.90 0 0 0 613.14 384.78Z" fill="#4180cc"/>
<path d="M621.31 386.47A128.90 128.90 0 0 1 631.16 393.96L629.23 396.26A125.90 125.90 0 0 0 619.61 388.94Z" fill="#1f4e9c"/>
<path d="M631.16 393.96A128.90 128.90 0 0 1 639.45 401.55L637.32 403.68A125.90 125.90 0 0 0 629.23 396.26Z" fill="#4180cc"/>
<path d="M639.45 401.55A128.90 128.90 0 0 1 655.16 420.62L652.68 422.30A125.90 125.90 0 0 0 637.32 403.68Z" fill="#4180cc"/>
<path d="M655.16 420.62A128.90 128.90 0 0 1 658.21 425.35L655.65 426.92A125.90 125.90 0 0 0 652.68 422.30Z" fill="#1f4e9c"/>
<path d="M659.93 428.25A128.90 128.90 0 0 1 661.04 430.21L658.41 431.66A125.90 125.90 0 0 0 657.33 429.75Z" fill="#4180cc"/>
<path d="M662.11 432.19A128.90 128.90 0 0 1 663.66 435.19L660.97 436.52A125.90 125.90 0 0 0 659.46 433.59Z" fill="#4180cc"/>
<path d="M664.64 437.21A128.90 128.90 0 0 1 666.06 440.27L663.32 441.49A125.90 125.90 0 0 0 661.94 438.50Z" fill="#4180cc"/>
<path d="M667.81 444.41A128.90 128.90 0 0 1 676.89 501.69L673.89 501.48A125.90 125.90 0 0 0 665.03 445.54Z" fill="#4180cc"/>
<path d="M676.07 509.75A128.90 128.90 0 0 1 675.85 511.31L672.88 510.87A125.90 125.90 0 0 0 673.09 509.35Z" fill="#4180cc"/>
<path d="M672.02 528.88A128.90 128.90 0 0 1 666.06 545.13L663.32 543.91A125.90 125.90 0 0 0 669.14 528.04Z" fill="#1f4e9c"/>
<path d="M663.35 550.82A128.90 128.90 0 0 1 658.79 559.09L656.22 557.54A125.90 125.90 0 0 0 660.68 549.47Z" fill="#1f4e9c"/>
<path d="M657.01 561.96A128.90 128.90 0 0 1 656.04 563.47L653.53 561.82A125.90 125.90 0 0 0 654.48 560.35Z" fill="#4180cc"/>
<path d="M654.40 565.90A128.90 128.90 0 0 1 653.11 567.74L650.67 565.99A125.90 125.90 0 0 0 651.93 564.19Z" fill="#1f4e9c"/>
<path d="M650.56 571.17A128.90 128.90 0 0 1 649.18 572.94L646.83 571.07A125.90 125.90 0 0 0 648.18 569.34Z" fill="#1f4e9c"/>
<path d="M646.32 576.41A128.90 128.90 0 0 1 644.09 578.95L641.86 576.94A125.90 125.90 0 0 0 644.04 574.47Z" fill="#1f4e9c"/>
<path d="M636.21 586.97A128.90 128.90 0 0 1 629.42 592.87L627.53 590.54A125.90 125.90 0 0 0 634.16 584.78Z" fill="#1f4e9c"/>
<path d="M629.42 592.87A128.90 128.90 0 0 1 620.38 599.56L618.70 597.08A125.90 125.90 0 0 0 627.53 590.54Z" fill="#9a1250"/>
<path d="M620.38 599.56A128.90 128.90 0 0 1 606.82 607.55L605.46 604.88A125.90 125.90 0 0 0 618.70 597.08Z" fill="#1f4e9c"/>
<path d="M581.23 617.32A128.90 128.90 0 0 1 580.14 617.61L579.40 614.70A125.90 125.90 0 0 0 580.46 614.42Z" fill="#1f4e9c"/>
<path d="M571.79 619.44A128.90 128.90 0 0 1 570.68 619.64L570.16 616.69A125.90 125.90 0 0 0 571.24 616.49Z" fill="#4180cc"/>
<path d="M566.24 620.35A128.90 128.90 0 0 1 468.94 594.27L470.79 591.91A125.90 125.90 0 0 0 565.82 617.37Z" fill="#1f4e9c"/>
<path d="M542.85 621.48A128.90 128.90 0 0 1 541.59 621.43L541.75 618.43A125.90 125.90 0 0 0 542.97 618.49Z" fill="#4180cc"/>
<path d="M529.42 620.21A128.90 128.90 0 0 1 526.23 619.70L526.74 616.74A125.90 125.90 0 0 0 529.86 617.24Z" fill="#4180cc"/>
<path d="M522.12 618.91A128.90 128.90 0 0 1 518.50 618.11L519.19 615.19A125.90 125.90 0 0 0 522.73 615.98Z" fill="#4180cc"/>
<path d="M505.17 614.17A128.90 128.90 0 0 1 501.51 612.81L502.60 610.01A125.90 125.90 0 0 0 506.17 611.34Z" fill="#4180cc"/>
<path d="M500.46 612.39A128.90 128.90 0 0 1 495.81 610.43L497.03 607.69A125.90 125.90 0 0 0 501.57 609.61Z" fill="#4180cc"/>
<path d="M468.94 594.27A128.90 128.90 0 0 1 441.44 564.78L443.92 563.10A125.90 125.90 0 0 0 470.79 591.91Z" fill="#4180cc"/>
<path d="M441.44 564.78A128.90 128.90 0 0 1 440.31 563.08L442.82 561.44A125.90 125.90 0 0 0 443.92 563.10Z" fill="#4180cc"/>
<path d="M440.11 562.78A128.90 128.90 0 0 1 439.52 561.85L442.05 560.24A125.90 125.90 0 0 0 442.63 561.15Z" fill="#4180cc"/>
<path d="M439.17 561.30A128.90 128.90 0 0 1 438.69 560.53L441.24 558.95A125.90 125.90 0 0 0 441.71 559.70Z" fill="#4180cc"/>
<path d="M438.43 560.12A128.90 128.90 0 0 1 437.47 558.51L440.04 556.98A125.90 125.90 0 0 0 440.99 558.55Z" fill="#4180cc"/>
<path d="M437.17 558.02A128.90 128.90 0 0 1 436.23 556.38L438.83 554.89A125.90 125.90 0 0 0 439.76 556.50Z" fill="#4180cc"/>
<path d="M435.88 555.75A128.90 128.90 0 0 1 435.35 554.81L437.98 553.37A125.90 125.90 0 0 0 438.49 554.29Z" fill="#1f4e9c"/>
<path d="M435.21 554.56A128.90 128.90 0 0 1 433.69 551.68L436.35 550.31A125.90 125.90 0 0 0 437.85 553.12Z" fill="#4180cc"/>
<path d="M433.56 551.43A128.90 128.90 0 0 1 432.06 548.40L434.76 547.10A125.90 125.90 0 0 0 436.23 550.06Z" fill="#4180cc"/>
<path d="M431.78 547.83A128.90 128.90 0 0 1 431.39 546.99L434.11 545.72A125.90 125.90 0 0 0 434.50 546.54Z" fill="#4180cc"/>
<path d="M431.23 546.64A128.90 128.90 0 0 1 429.65 543.06L432.41 541.89A125.90 125.90 0 0 0 433.95 545.38Z" fill="#4180cc"/>
<path d="M429.36 542.38A128.90 128.90 0 0 1 427.93 538.82L430.74 537.75A125.90 125.90 0 0 0 432.13 541.22Z" fill="#1f4e9c"/>
<path d="M427.76 538.37A128.90 128.90 0 0 1 427.06 536.48L429.88 535.46A125.90 125.90 0 0 0 430.57 537.31Z" fill="#4180cc"/>
<path d="M426.81 535.76A128.90 128.90 0 0 1 426.40 534.59L429.23 533.62A125.90 125.90 0 0 0 429.63 534.76Z" fill="#4180cc"/>
<path d="M426.15 533.86A128.90 128.90 0 0 1 425.04 530.43L427.91 529.55A125.90 125.90 0 0 0 428.99 532.90Z" fill="#4180cc"/>
<path d="M424.79 529.60A128.90 128.90 0 0 1 424.46 528.46L427.34 527.63A125.90 125.90 0 0 0 427.67 528.74Z" fill="#4180cc"/>
<path d="M424.28 527.83A128.90 128.90 0 0 1 423.30 524.17L426.21 523.43A125.90 125.90 0 0 0 427.17 527.01Z" fill="#4180cc"/>
<path d="M423.09 523.34A128.90 128.90 0 0 1 422.50 520.79L425.43 520.14A125.90 125.90 0 0 0 426.01 522.63Z" fill="#4180cc"/>
<path d="M422.40 520.33A128.90 128.90 0 0 1 422.09 518.91L425.03 518.30A125.90 125.90 0 0 0 425.33 519.69Z" fill="#4180cc"/>
<path d="M422.02 518.55A128.90 128.90 0 0 1 421.44 515.53L424.39 515.00A125.90 125.90 0 0 0 424.96 517.95Z" fill="#1f4e9c"/>
<path d="M421.37 515.17A128.90 128.90 0 0 1 421.19 514.13L424.15 513.63A125.90 125.90 0 0 0 424.33 514.65Z" fill="#1f4e9c"/>
<path d="M421.09 513.53A128.90 128.90 0 0 1 420.76 511.38L423.73 510.95A125.90 125.90 0 0 0 424.06 513.05Z" fill="#4180cc"/>
<path d="M420.67 510.74A128.90 128.90 0 0 1 420.23 507.27L423.21 506.93A125.90 125.90 0 0 0 423.64 510.32Z" fill="#4180cc"/>
<path d="M420.17 506.74A128.90 128.90 0 0 1 420.05 505.67L423.04 505.37A125.90 125.90 0 0 0 423.15 506.41Z" fill="#4180cc"/>
<path d="M420.03 505.38A128.90 128.90 0 0 1 419.81 502.93L422.80 502.70A125.90 125.90 0 0 0 423.01 505.08Z" fill="#4180cc"/>
<path d="M419.78 502.58A128.90 128.90 0 0 1 419.57 499.38L422.57 499.23A125.90 125.90 0 0 0 422.77 502.35Z" fill="#1f4e9c"/>
<path d="M419.54 498.72A128.90 128.90 0 0 1 419.43 495.34L422.43 495.28A125.90 125.90 0 0 0 422.54 498.58Z" fill="#4180cc"/>
<path d="M419.42 494.79A128.90 128.90 0 0 1 419.40 493.43L422.40 493.41A125.90 125.90 0 0 0 422.42 494.75Z" fill="#4180cc"/>
<path d="M419.40 492.97A128.90 128.90 0 0 1 419.42 490.64L422.42 490.69A125.90 125.90 0 0 0 422.40 492.96Z" fill="#1f4e9c"/>
<path d="M419.43 489.84A128.90 128.90 0 0 1 419.58 485.86L422.58 486.02A125.90 125.90 0 0 0 422.43 489.90Z" fill="#4180cc"/>
<path d="M419.61 485.29A128.90 128.90 0 0 1 419.84 482.10L422.83 482.35A125.90 125.90 0 0 0 422.61 485.46Z" fill="#4180cc"/>
<path d="M419.87 481.65A128.90 128.90 0 0 1 420.08 479.48L423.06 479.79A125.90 125.90 0 0 0 422.86 481.90Z" fill="#4180cc"/>
<path d="M420.13 478.98A128.90 128.90 0 0 1 420.62 475.00L423.59 475.41A125.90 125.90 0 0 0 423.12 479.30Z" fill="#1f4e9c"/>
<path d="M420.71 474.34A128.90 128.90 0 0 1 421.09 471.90L424.05 472.38A125.90 125.90 0 0 0 423.68 474.77Z" fill="#4180cc"/>
<path d="M421.14 471.57A128.90 128.90 0 0 1 421.44 469.84L424.40 470.37A125.90 125.90 0 0 0 424.10 472.06Z" fill="#4180cc"/>
<path d="M421.59 469.04A128.90 128.90 0 0 1 421.98 467.04L424.92 467.64A125.90 125.90 0 0 0 424.54 469.59Z" fill="#4180cc"/>
<path d="M422.13 466.30A128.90 128.90 0 0 1 422.80 463.28L425.72 463.97A125.90 125.90 0 0 0 425.07 466.91Z" fill="#4180cc"/>
<path d="M422.97 462.55A128.90 128.90 0 0 1 423.47 460.57L426.37 461.32A125.90 125.90 0 0 0 425.89 463.25Z" fill="#4180cc"/>
<path d="M423.58 460.14A128.90 128.90 0 0 1 424.22 457.79L427.10 458.60A125.90 125.90 0 0 0 426.48 460.89Z" fill="#4180cc"/>
<path d="M424.41 457.11A128.90 128.90 0 0 1 424.93 455.36L427.80 456.23A125.90 125.90 0 0 0 427.29 457.94Z" fill="#1f4e9c"/>
<path d="M425.12 454.71A128.90 128.90 0 0 1 425.96 452.11L428.80 453.06A125.90 125.90 0 0 0 427.99 455.60Z" fill="#4180cc"/>
<path d="M426.15 451.53A128.90 128.90 0 0 1 426.70 449.93L429.53 450.93A125.90 125.90 0 0 0 428.99 452.49Z" fill="#4180cc"/>
<text x="431.30" y="437.00" font-size="6.6" text-anchor="middle" textLength="16.50" lengthAdjust="spacingAndGlyphs" fill="#000" transform="rotate(-60 431.30 437.00)" stroke="none">Taxon</text>
<text x="436.60" y="439.30" font-size="6.6" text-anchor="middle" textLength="15.00" lengthAdjust="spacingAndGlyphs" fill="#000" transform="rotate(-60 436.60 439.30)" stroke="none">Polar</text>
<path d="M527.0 478.6L504.7 463.9M522.8 473.8L521.2 472.6M520.4 471.7L507.8 462.1M523.5 473.9L520.5 471.6M523.2 474.3A31.2 31.2 0 0 1 523.5 473.9M518.4 469.1L516.8 467.9M509.5 461.7L507.9 460.5M509.7 461.4L500.4 453.8M509.5 461.7A49.7 49.7 0 0 1 509.7 461.4M518.6 468.8L509.6 461.6M518.4 469.1A38.1 38.1 0 0 1 518.6 468.8M527.6 476.2L518.5 469.0M527.5 475.3L499.9 452.2M516.7 465.5L482.3 436.0M516.5 465.8A41.7 41.7 0 0 1 516.7 465.5M520.5 468.5L482.7 435.6M521.2 468.8L500.2 450.2M523.3 470.4L521.3 468.7M505.3 453.5L500.1 448.7M505.6 453.2L494.7 443.2M523.6 470.0L505.5 453.4M523.3 470.4A33.5 33.5 0 0 1 523.6 470.0M525.0 469.2L520.9 465.1M527.6 471.2L527.0 470.6M527.7 471.6L527.5 471.3M528.0 471.3L511.1 453.5M527.7 470.2L517.0 458.6M527.9 470.0L519.0 460.3M533.4 475.7L508.5 447.4M521.1 458.4L501.6 433.8M521.3 458.2L503.7 435.7M524.5 462.4L521.2 458.3M524.5 462.4A38.6 38.6 0 0 1 524.8 462.1M527.1 465.4L524.6 462.3M526.7 465.7A34.6 34.6 0 0 1 527.1 465.4M541.0 483.4L526.9 465.6M541.1 483.3L508.5 440.1M539.9 481.4L494.6 420.5M536.6 476.6L516.1 448.1M531.7 469.0L511.6 440.1M534.8 473.0L520.7 452.6M541.0 481.9L512.2 439.5M543.3 485.0L497.4 414.9M539.1 478.3L498.1 414.4M527.5 460.0A38.8 38.8 0 0 1 527.7 459.8M536.0 473.2L527.6 459.9M539.2 477.5L515.2 437.5M535.8 468.5L520.4 438.8M534.7 465.9L522.1 440.9M528.7 453.2L525.3 446.4M530.2 454.7L523.1 439.7M535.2 465.6L529.9 454.8M525.1 441.9A55.8 55.8 0 0 1 525.4 441.8M532.7 458.2L525.2 441.9M533.1 458.1L532.5 456.6M533.5 458.3L531.1 452.6M533.2 460.5A35.6 35.6 0 0 1 534.0 460.1M529.1 447.3L528.3 445.4M529.1 447.3A49.3 49.3 0 0 1 529.5 447.1M536.9 465.3L529.3 447.2M530.9 448.8L530.0 446.3M536.5 462.6L531.1 448.7M546.2 487.0L528.3 438.6M538.3 459.8A34.4 34.4 0 0 1 538.6 459.7M541.1 468.5L538.4 459.7M544.8 480.7L541.2 468.5M544.3 475.3L540.0 456.2M542.4 464.5L535.9 433.4M542.5 464.1L537.9 441.4M542.7 463.2L542.7 462.8M543.1 463.6L539.9 445.5M543.0 464.0L542.9 463.6M542.8 464.4L542.7 464.0M544.4 474.3L542.5 464.9M544.2 458.8L543.2 450.4M544.0 458.8A34.2 34.2 0 0 1 544.2 458.8M547.0 481.9L544.1 458.8M544.6 457.7L543.1 443.3M545.3 461.2L545.1 459.2M547.0 477.5L544.6 450.0M545.6 454.6L544.5 439.3M545.3 454.6A38.2 38.2 0 0 1 545.6 454.6M545.7 451.5A41.2 41.2 0 0 1 546.0 451.5M548.0 475.3L547.9 466.3M548.1 467.2L548.0 449.0M550.1 463.3L552.2 430.5M550.4 464.1L552.5 435.8M552.1 444.0L552.7 436.4M553.4 443.0L553.5 442.2M553.7 443.4L553.7 443.0M552.9 443.3A49.6 49.6 0 0 1 553.7 443.4M553.3 443.7L553.3 443.3M552.6 443.7A49.2 49.2 0 0 1 553.3 443.7M552.9 444.1L552.9 443.7M552.1 444.0A48.8 48.8 0 0 1 552.9 444.1M550.8 464.1L552.5 444.1M551.3 468.9L555.2 437.7M553.7 460.5L559.4 426.3M555.8 449.8A43.5 43.5 0 0 1 556.1 449.9M554.1 460.1L555.9 449.8M554.5 460.2L554.8 458.6M554.1 460.1A33.1 33.1 0 0 1 554.5 460.2M554.2 460.6L554.3 460.2M553.7 460.5A32.7 32.7 0 0 1 554.2 460.6M552.6 468.1L554.0 460.5M551.1 478.7L558.5 441.5M551.3 478.1L559.7 437.6M552.4 474.2L560.2 438.7M550.9 482.1L561.4 439.2M551.9 478.6L559.8 447.6M552.1 478.0L562.8 437.1M553.2 474.7L563.5 436.6M558.2 457.1A37.0 37.0 0 0 1 558.5 457.2M553.4 474.8L558.4 457.1M560.0 453.1L565.9 433.4M565.4 436.4L566.0 434.5M565.4 436.4A58.8 58.8 0 0 1 565.8 436.6M560.4 453.3L565.6 436.5M553.2 476.6L560.2 453.2M559.4 459.9L568.2 433.7M558.9 461.9L559.6 460.2M560.5 458.2L571.1 428.4M560.8 458.3L562.8 452.6M560.5 458.2A36.6 36.6 0 0 1 560.8 458.3M559.0 462.4L559.1 462.0M554.4 474.8L558.7 462.3M564.5 448.9L565.2 447.0M564.5 448.9A46.7 46.7 0 0 1 564.8 449.0M556.8 469.9L564.7 448.9M557.1 470.0L566.0 447.0M555.4 474.9L563.9 453.6M555.5 474.9L563.1 456.3M569.1 442.4L570.3 439.3M569.7 442.3L570.3 440.8M570.0 442.4L572.7 435.9M569.7 442.3A54.8 54.8 0 0 1 570.0 442.4M569.7 442.7L569.8 442.3M569.1 442.4A54.4 54.4 0 0 1 569.7 442.7M563.2 457.2L569.4 442.6M563.8 457.4L572.9 436.8M563.2 457.2A38.5 38.5 0 0 1 563.8 457.4M559.9 466.8L568.3 448.2M560.1 467.0L565.0 456.5M551.6 485.5L560.0 466.9M554.3 480.1L564.2 459.4M567.0 456.0L567.9 454.2M567.3 456.2L573.0 445.2M566.1 458.2L567.2 456.1M565.6 458.0A38.8 38.8 0 0 1 566.1 458.2M564.2 462.5L575.8 440.4M552.7 484.4L562.7 465.3M556.9 478.3L581.0 437.9M557.0 478.3L570.8 455.4M566.1 463.9L572.1 454.1M572.3 454.3L573.3 452.6M572.6 454.5L575.5 450.1M572.3 454.3A45.2 45.2 0 0 1 572.6 454.5M567.7 462.0L572.4 454.4M569.3 460.2L578.7 445.6M569.6 460.4L603.4 409.2M569.3 460.2A38.7 38.7 0 0 1 569.6 460.4M569.1 460.9L569.5 460.3M569.1 460.9A38.0 38.0 0 0 1 569.4 461.0M568.3 462.4L569.2 461.0M567.7 462.0A36.3 36.3 0 0 1 568.3 462.4M555.3 481.6L566.4 464.1M560.1 475.6L590.9 430.9M576.5 454.5L591.9 433.7M576.2 454.2A47.5 47.5 0 0 1 576.5 454.5M562.7 473.0L576.4 454.3M560.8 475.9L577.0 454.4M563.4 473.9L574.7 459.6M569.5 466.5L573.8 461.2M577.2 457.4L590.2 441.6M578.3 457.3L583.8 451.0M578.5 457.5L579.3 456.6M578.3 457.3A46.4 46.4 0 0 1 578.5 457.5M578.2 457.7L578.4 457.4M577.8 457.4A46.0 46.0 0 0 1 578.2 457.7M577.7 457.9L578.0 457.5M577.2 457.4A45.6 45.6 0 0 1 577.7 457.9M570.8 465.6L577.5 457.6M574.3 463.4L612.1 420.9M574.3 463.4A39.1 39.1 0 0 1 574.5 463.6M573.8 463.6A38.7 38.7 0 0 1 574.1 463.8M573.7 464.0L574.0 463.7M574.2 464.4L588.1 449.1M573.7 464.0A38.3 38.3 0 0 1 574.2 464.4M571.9 466.5L573.9 464.2M570.8 465.6A35.2 35.2 0 0 1 571.9 466.5M570.3 467.2L571.4 466.0M569.5 466.5A33.7 33.7 0 0 1 570.3 467.2M568.7 470.7L605.0 431.6M574.5 465.7L592.6 447.1M574.5 465.7A37.7 37.7 0 0 1 574.8 465.9M561.9 478.9L574.7 465.8M566.1 475.0L595.3 445.8M584.7 457.9L590.0 452.8M577.3 464.9L581.1 461.3M577.3 464.9A40.1 40.1 0 0 1 577.8 465.5M576.8 465.9L577.6 465.2M576.8 465.9A39.1 39.1 0 0 1 577.2 466.4M565.9 476.4L577.0 466.2M566.2 476.8L590.1 455.4M577.1 467.4L599.3 447.8M586.2 459.8L596.8 450.7M586.7 459.8L597.2 450.9M586.9 460.0L587.8 459.3M586.7 459.8A50.6 50.6 0 0 1 586.9 460.0M586.1 460.3L586.4 460.0M586.6 460.8L594.6 454.1M586.1 460.3A49.8 49.8 0 0 1 586.6 460.8M577.6 468.0L586.3 460.6M577.1 467.4A38.3 38.3 0 0 1 577.6 468.0M561.0 481.7L577.3 467.7M591.2 458.7A54.8 54.8 0 0 1 591.5 459.0M587.4 462.6L597.9 454.5M593.9 458.2L595.5 457.0M594.1 458.5L597.2 456.2M593.9 458.2A57.2 57.2 0 0 1 594.1 458.5M587.4 462.6A49.3 49.3 0 0 1 587.7 463.0M575.6 471.9L587.5 462.8M575.3 471.5A34.3 34.3 0 0 1 575.6 471.9M564.0 480.5L575.4 471.7M564.4 481.0L606.8 449.9M586.1 465.9L590.9 462.5M588.9 464.5L608.3 451.0M588.9 464.5A49.4 49.4 0 0 1 589.1 464.8M586.5 466.4L589.0 464.6M586.1 465.9A46.4 46.4 0 0 1 586.5 466.4M582.7 468.6L586.3 466.1M582.4 468.1A42.0 42.0 0 0 1 582.7 468.6M564.7 481.0L582.5 468.4M594.2 462.1L595.9 461.0M597.4 460.7L602.0 457.7M597.5 461.0L599.6 459.7M572.3 476.9L594.4 462.4M569.9 479.1L604.3 457.4M575.1 476.4L613.4 453.1M575.2 476.6L598.1 462.8M576.3 476.3L607.8 457.8M576.5 476.6L578.3 475.5M576.3 476.3A32.5 32.5 0 0 1 576.5 476.6M568.4 482.3L616.1 457.7M578.0 478.2L579.4 477.5M577.7 478.6L620.6 458.0M571.6 481.4L577.7 478.4M597.1 469.7L624.4 456.8M597.3 470.2L620.8 459.4M597.1 469.7A54.0 54.0 0 0 1 597.3 470.2M575.1 480.2L597.2 469.9M580.8 478.4L638.0 453.2M582.2 478.7L620.3 462.9M581.8 478.6L582.2 478.5M581.6 478.3A36.3 36.3 0 0 1 581.8 478.6M581.3 478.6L581.7 478.4M581.6 479.1L610.0 467.5M581.3 478.6A35.9 35.9 0 0 1 581.6 479.1M581.1 479.0L581.4 478.9M580.8 478.4A35.5 35.5 0 0 1 581.1 479.0M569.1 483.8L580.9 478.7M579.0 481.2L615.7 467.6M578.6 481.3L579.0 481.2M578.8 481.7L626.5 464.4M578.6 481.3A32.4 32.4 0 0 1 578.8 481.7M584.1 480.5L645.8 459.6M582.9 480.9L584.1 480.4M582.8 480.4A36.6 36.6 0 0 1 582.9 480.9M562.9 487.9L582.6 481.4M581.2 482.2L606.7 474.0M584.8 481.3L612.6 472.6M584.9 481.6L642.1 464.2M584.8 481.3A38.2 38.2 0 0 1 584.9 481.6M581.3 482.5L584.8 481.4M581.2 482.2A34.5 34.5 0 0 1 581.3 482.5M578.3 483.3L581.2 482.4M580.2 483.5L610.8 474.6M578.5 483.9L580.2 483.4M578.3 483.3A31.4 31.4 0 0 1 578.5 483.9M572.9 485.8L591.2 480.8M586.3 482.7L640.7 468.4M586.3 483.0L640.8 469.1M582.8 483.8L586.3 482.9M582.7 483.4A35.6 35.6 0 0 1 582.8 483.8M582.3 483.7L582.7 483.6M582.5 484.2L635.5 470.9M582.3 483.7A35.2 35.2 0 0 1 582.5 484.2M582.0 484.0L582.4 483.9M582.0 484.0A34.8 34.8 0 0 1 582.1 484.6M569.1 487.5L582.1 484.3M576.8 486.5L616.0 478.1M588.6 484.3L650.1 471.6M591.4 484.4L613.3 480.2M590.0 484.8L591.5 484.5M590.0 485.2L590.8 485.1M590.0 484.8A42.4 42.4 0 0 1 590.0 485.2M589.5 484.4A42.0 42.0 0 0 1 589.6 485.1M589.1 484.8L589.5 484.8M589.3 485.8L609.8 482.3M589.1 484.8A41.6 41.6 0 0 1 589.3 485.8M588.8 485.4L589.2 485.3M588.6 484.3A41.2 41.2 0 0 1 588.8 485.4M576.9 487.1L588.7 484.8M573.5 488.6L606.1 483.2M575.3 489.0L584.8 487.7M600.4 485.9L625.7 482.6M600.4 486.2L607.1 485.3M598.1 486.3L600.4 486.0M598.2 487.0L648.6 481.2M598.1 486.3A50.2 50.2 0 0 1 598.2 487.0M575.4 489.4L598.2 486.6M570.1 490.3L648.7 481.8M569.8 490.7L582.6 489.5M571.2 490.7L625.3 486.1M603.9 488.9L624.0 487.5M603.9 489.2L646.1 486.6M603.9 488.9A55.8 55.8 0 0 1 603.9 489.2M587.2 490.2L603.9 489.1M587.2 490.6L618.9 488.8M587.2 490.2A38.9 38.9 0 0 1 587.2 490.6M584.5 490.5L587.2 490.4M584.5 490.5A36.2 36.2 0 0 1 584.5 491.0M580.2 491.0L584.5 490.8M580.3 491.4L612.5 490.1M580.2 491.0A32.0 32.0 0 0 1 580.3 491.4M590.8 491.3L595.1 491.2M579.5 491.8L590.9 491.5M579.5 491.8A31.2 31.2 0 0 1 579.5 492.2M571.8 492.5L634.3 491.9M583.3 492.6L603.9 492.6M583.3 492.9L591.2 492.9M583.3 492.6A35.0 35.0 0 0 1 583.3 492.9M580.4 492.7L583.3 492.7M580.4 493.2L585.6 493.2M580.4 492.7A32.1 32.1 0 0 1 580.4 493.2M575.9 493.3L587.8 493.6M631.2 479.4L635.4 478.8M635.1 478.5A88.0 88.0 0 0 1 635.5 480.6M635.1 478.3L638.1 477.8M635.4 480.3L639.6 479.7M639.1 477.8A92.0 92.0 0 0 1 639.4 480.1M639.1 477.7L642.0 477.2M639.1 478.1L643.3 477.5M643.0 477.2A96.0 96.0 0 0 1 643.4 479.5M643.0 477.0L646.0 476.5M643.3 479.2L647.5 478.6M647.0 476.5A100.0 100.0 0 0 1 647.4 479.0M647.0 476.4L649.9 475.9M647.0 476.9L651.2 476.2M650.9 475.9A104.0 104.0 0 0 1 651.3 478.4M650.9 475.7L653.9 475.2M651.3 478.0L655.4 477.5M654.9 475.2A108.0 108.0 0 0 1 655.3 477.9M654.8 475.1L657.8 474.6M654.9 475.6L659.1 475.0M658.8 474.6A112.0 112.0 0 0 1 659.2 477.3M658.8 474.4L661.8 473.9M659.2 476.9L663.3 476.3M662.8 474.0A116.0 116.0 0 0 1 663.2 476.8M662.7 473.8L665.7 473.3M662.8 474.4L667.0 473.7M666.7 473.3A120.0 120.0 0 0 1 667.2 476.2M666.7 473.1L669.6 472.6M578.0 488.2L633.3 479.8M596.9 507.1L605.5 509.7M592.2 506.0L599.6 508.2M586.0 504.2L589.8 505.4M586.2 503.4A39.4 39.4 0 0 1 586.0 504.2M577.5 502.5L597.6 509.2M577.8 503.0L610.4 514.4M591.4 509.0L603.7 513.7M586.6 509.4L598.0 514.3M586.5 509.6L590.7 511.4M583.3 508.3L594.4 513.3M586.4 510.4L599.9 516.6M583.1 508.7L586.5 510.2M583.3 508.3A38.3 38.3 0 0 1 583.1 508.7M580.1 507.7L591.1 512.8M576.3 506.1L596.8 515.9M581.9 509.0L589.5 512.7M580.1 508.6L595.6 516.3M579.2 508.4L598.7 518.2M584.3 511.2L596.8 517.6M584.2 511.4L596.3 517.6M582.4 510.3L584.3 511.3M587.5 513.7L594.3 517.3M587.4 513.9L594.2 517.6M584.9 512.4L587.5 513.8M585.0 512.1A41.5 41.5 0 0 1 584.9 512.4M582.2 510.8L584.9 512.3M582.4 510.3A38.4 38.4 0 0 1 582.2 510.8M575.7 507.8L591.4 516.4M579.1 509.9L592.7 517.4M580.2 510.8L594.7 519.0M580.2 510.9L591.4 517.4M587.1 517.6L590.0 519.4M587.3 517.3A46.1 46.1 0 0 1 587.1 517.6M586.9 517.2L587.2 517.4M587.2 516.8A45.7 45.7 0 0 1 586.9 517.2M572.5 507.9L587.0 517.0M585.8 517.5L589.6 520.0M585.7 517.7L587.4 518.8M578.0 512.5L585.8 517.6M589.0 522.9L590.9 524.3M589.3 522.6A50.7 50.7 0 0 1 589.0 522.9M587.9 522.4L588.2 522.6M587.5 523.0L589.0 524.2M587.9 522.4A49.5 49.5 0 0 1 587.5 523.0M574.2 513.1L591.1 526.3M575.0 513.9L588.8 524.9M576.0 515.3L594.3 530.2M575.9 515.5L583.6 521.8M575.6 515.5L593.3 530.3M579.5 519.3L593.8 531.5M578.7 518.6L579.6 519.3M578.7 518.6A39.9 39.9 0 0 1 578.5 518.8M583.4 523.8L587.5 527.4M583.2 524.0L586.9 527.3M575.7 517.8L586.6 527.8M582.9 524.7L583.8 525.5M582.7 524.9L587.2 529.1M582.9 524.7A47.1 47.1 0 0 1 582.7 524.9M582.5 524.5L582.8 524.8M582.2 524.9L583.3 526.0M582.5 524.5A46.7 46.7 0 0 1 582.2 524.9M582.1 524.4L582.3 524.7M583.1 526.1L584.4 527.3M583.1 526.1A48.2 48.2 0 0 1 582.9 526.3M582.4 526.2L586.8 530.6M581.5 525.0L582.5 526.1M582.1 524.4A46.3 46.3 0 0 1 581.5 525.0M576.1 520.3L581.3 525.5M573.0 517.8L585.0 530.1M571.7 516.7L584.8 530.2M576.7 522.8L579.2 525.5M576.4 523.1L582.0 529.2M576.7 522.8A41.4 41.4 0 0 1 576.4 523.1M575.4 522.2L591.0 539.3M579.8 528.0L582.6 531.1M569.6 517.3L585.9 536.2M579.1 528.7L590.9 542.5M578.7 528.5L578.9 528.8M578.7 528.5A47.0 47.0 0 0 1 578.2 528.9M578.2 528.4L578.4 528.7M578.2 528.4A46.6 46.6 0 0 1 577.7 528.8M567.7 516.2L577.9 528.6M570.2 519.9L580.1 532.3M575.5 527.2L581.6 535.1M575.2 527.4L576.9 529.7M575.5 527.2A43.9 43.9 0 0 1 575.2 527.4M571.0 522.7L577.5 531.3M571.3 524.0L577.1 532.0M572.3 525.8L575.8 530.7M573.9 529.1L574.9 530.6M573.8 528.7L574.1 529.0M578.3 535.9A52.6 52.6 0 0 1 578.1 536.1M577.7 535.9L582.8 543.3M573.3 529.1L577.8 535.8M573.8 528.7A44.1 44.1 0 0 1 573.3 529.1M568.8 523.5L582.0 543.5M567.7 522.2L576.1 535.2M570.8 528.5L575.5 535.9M569.4 526.7L574.4 534.8M566.2 522.2L573.1 533.6M566.1 524.2L575.1 540.0M568.0 528.2L574.5 539.8M564.5 523.3L571.0 535.6M564.9 524.5L571.4 537.2M566.3 527.9L571.8 538.6M563.1 523.3L570.8 539.4M564.5 527.4L570.2 539.5M563.4 525.9L568.6 537.2M565.5 531.0L569.3 539.5M567.5 536.3L568.3 538.1M567.3 536.4L568.8 539.8M565.1 531.2L567.4 536.3M563.9 529.2L568.8 540.5M563.9 529.7L569.0 541.8M563.6 529.8L567.7 539.6M560.9 523.6L568.6 542.5M563.8 532.9L566.4 539.6M564.6 537.8L566.0 541.7M566.6 546.5L568.2 551.1M567.0 546.3A56.8 56.8 0 0 1 566.6 546.5M565.7 543.1L566.8 546.4M565.7 543.1A53.3 53.3 0 0 1 565.2 543.3M565.3 542.8L565.4 543.2M566.0 542.6A52.9 52.9 0 0 1 565.3 542.8M565.5 542.3L565.6 542.7M564.7 542.6L566.8 549.1M565.5 542.3A52.5 52.5 0 0 1 564.7 542.6M559.2 527.3L565.7 547.8M554.0 531.6L557.1 552.7M558.0 561.3L558.5 565.1M557.5 561.3L557.9 564.1M558.0 561.3A69.2 69.2 0 0 1 557.5 561.3M557.2 557.3L557.8 561.3M556.5 557.4L557.1 562.2M557.2 557.3A65.3 65.3 0 0 1 556.5 557.4M553.4 531.6L556.9 557.4M552.8 530.0L555.0 547.6M552.6 529.6L555.8 558.0M552.5 531.6L555.0 554.0M552.4 531.6L554.6 552.9M552.7 543.4L554.3 561.7M552.7 543.4A50.9 50.9 0 0 1 552.4 543.4M552.3 540.4L552.6 543.4M551.9 540.4L552.9 554.4M552.3 540.4A47.9 47.9 0 0 1 551.9 540.4M552.0 538.8L552.1 540.4M551.5 538.8L552.6 555.3M552.0 538.8A46.2 46.2 0 0 1 551.5 538.8M550.8 533.9L551.6 546.8M550.9 546.2L551.1 549.2M550.6 546.2L550.7 548.2M550.9 546.2A53.5 53.5 0 0 1 550.6 546.2M549.6 534.7L550.1 550.7M549.0 541.2L549.3 561.7M548.7 546.0A53.3 53.3 0 0 1 548.4 546.0M548.8 539.4L548.8 541.2M548.2 540.5L548.1 561.3M547.9 545.0L547.8 554.8M547.6 545.0L547.4 557.6M547.9 545.0A52.3 52.3 0 0 1 547.6 545.0M547.8 540.5L547.8 545.0M548.2 540.5A47.8 47.8 0 0 1 547.8 540.5M548.0 539.4L548.0 540.5M548.8 539.4A46.7 46.7 0 0 1 548.0 539.4M547.6 528.6L546.9 560.1M547.4 528.4L546.7 553.3M547.0 533.4L546.5 550.1M546.7 534.9L545.9 554.9M546.5 534.9L545.7 553.7M546.4 532.3L545.3 554.7M545.7 539.7L545.1 549.4M545.0 541.2L544.5 548.7M545.3 539.6L545.2 541.2M545.7 539.7A47.0 47.0 0 0 1 545.3 539.6M544.8 537.4L543.3 556.4M544.5 537.3L543.0 555.1M544.6 530.9L541.9 558.4M542.7 536.9L539.6 561.8M542.0 540.2L540.9 548.9M541.8 540.2L538.7 562.3M542.7 531.9L538.5 560.6M539.9 547.4L538.2 557.9M539.4 547.7L537.6 559.2M539.0 547.6L538.9 548.0M539.4 547.7A55.7 55.7 0 0 1 539.0 547.6M539.2 547.3L539.2 547.7M539.9 547.4A55.3 55.3 0 0 1 539.2 547.3M538.7 546.8L538.0 550.3M540.2 531.4L534.8 557.5M539.2 535.0L534.4 557.2M539.8 531.1L535.1 552.1M538.7 534.9L534.1 555.0M534.8 547.6L534.5 548.8M533.8 550.0L532.0 557.0M533.5 550.0L531.8 556.2M533.8 550.0A59.2 59.2 0 0 1 533.5 550.0M534.8 546.8L534.7 547.2M534.0 546.6L530.8 558.7M534.8 546.8A55.7 55.7 0 0 1 534.0 546.6M534.6 545.8L534.4 546.7M535.8 546.0A54.8 54.8 0 0 1 534.6 545.8M538.0 534.7L535.2 545.9M537.4 532.9L532.8 549.7M536.7 534.8L533.2 547.3M535.0 539.2L532.5 548.2M533.9 542.4L529.9 556.4M532.2 547.1L529.3 556.8M532.2 547.1A56.7 56.7 0 0 1 531.9 547.0M533.5 542.2L532.1 547.0M533.9 542.4A51.7 51.7 0 0 1 533.5 542.2M529.4 554.0L525.3 567.2M529.4 554.0A64.2 64.2 0 0 1 529.0 553.9M533.6 538.2L526.2 561.1M532.0 541.4L524.3 564.4M532.3 541.5A51.3 51.3 0 0 1 532.0 541.4M534.3 533.5L524.9 560.9M528.6 549.4L527.9 551.3M528.2 549.3L526.7 553.7M528.6 549.4A60.1 60.1 0 0 1 528.2 549.3M533.1 536.0L528.4 549.4M532.8 534.8L522.6 562.7M525.7 553.1L522.0 562.9M525.5 553.0L524.7 554.9M530.9 538.8L525.6 553.0M527.2 547.3L524.0 555.5M526.6 547.9L520.7 562.9M526.1 548.2L525.8 548.9M526.1 548.2A59.7 59.7 0 0 1 525.7 548.0M526.5 547.5L526.3 547.8M525.7 547.1L524.4 550.2M526.5 547.5A58.9 58.9 0 0 1 525.7 547.1M526.2 546.9L526.1 547.3M528.6 542.4L526.7 547.1M527.5 542.0L525.2 547.4M528.6 542.4A53.4 53.4 0 0 1 527.5 542.0M528.2 539.1L519.8 558.5M525.5 543.5L519.6 556.6M525.8 543.7A55.7 55.7 0 0 1 525.5 543.5M525.5 542.6L519.9 554.8M523.3 546.7L519.5 554.9M522.9 546.5L519.1 554.5M523.3 546.7A59.5 59.5 0 0 1 522.9 546.5M527.6 537.1L523.1 546.6M527.2 536.9L516.3 559.5M529.3 532.0L519.5 552.1M516.8 555.0L515.9 556.8M516.4 554.8L514.5 558.4M516.8 554.6L516.6 554.9M516.3 554.4L515.4 556.1M516.8 554.6A69.5 69.5 0 0 1 516.3 554.4M516.8 553.9L516.5 554.5M516.2 553.5L511.6 562.1M516.8 553.9A68.8 68.8 0 0 1 516.2 553.5M526.2 535.0L516.5 553.7M526.1 534.2L514.1 556.7M523.9 537.5L515.6 552.8M522.8 539.0L510.4 561.5M521.7 539.1L514.9 551.1M524.4 533.9L512.0 555.3M524.2 533.7L509.0 559.6M517.3 544.5L510.5 555.8M515.4 547.0L510.1 555.7M515.4 547.0A63.5 63.5 0 0 1 515.2 546.8M516.3 544.3L515.4 545.7M524.7 531.6L517.0 544.3M517.2 531.8L509.1 542.0M511.2 538.3A58.7 58.7 0 0 1 511.0 538.1M505.9 542.4L504.2 544.4M505.9 541.9L500.3 548.4M515.9 529.7L505.3 541.9M515.7 529.4L499.6 547.6M510.2 534.9L501.2 544.8M512.8 531.0L503.8 540.7M513.3 530.0L500.1 544.1M509.9 533.2L502.2 541.3M504.5 537.7L496.3 546.1M506.7 535.0L494.4 547.6M511.2 530.0L500.7 540.4M509.0 531.9L502.1 538.7M507.8 532.0L498.2 541.3M508.2 531.2L461.7 575.8M504.8 534.0L461.3 575.3M504.8 534.0A60.0 60.0 0 0 1 504.5 533.7M508.8 529.4L496.3 541.0M506.0 531.5L491.8 544.4M505.7 531.2L500.2 536.1M503.2 532.1L492.2 541.7M503.5 532.3A59.8 59.8 0 0 1 503.2 532.1M506.3 529.0L500.5 534.0M496.6 536.3L495.1 537.6M496.8 536.6A67.6 67.6 0 0 1 496.6 536.3M508.6 526.4L496.7 536.5M505.7 528.3L479.9 549.9M502.9 529.7L500.6 531.6M506.8 526.2L482.1 546.2M505.7 526.7L491.9 537.7M494.0 535.5L485.8 542.0M491.8 536.6L489.9 538.1M491.6 536.4L490.1 537.7M493.7 535.0L491.7 536.5M494.0 535.5A69.1 69.1 0 0 1 493.7 535.0M498.4 531.3L497.1 532.3M498.4 531.3A63.1 63.1 0 0 1 497.9 530.7M501.0 528.8L498.2 531.0M496.6 531.2L494.8 532.5M496.6 531.2A64.5 64.5 0 0 1 496.3 530.9M497.8 530.1L496.5 531.0M497.8 530.1A62.8 62.8 0 0 1 497.5 529.7M500.3 527.9L497.6 529.9M501.0 528.8A59.5 59.5 0 0 1 500.3 527.9M503.2 525.1L493.0 532.4M503.0 524.9L500.5 526.7M503.8 523.6L495.8 529.1M504.0 523.0L480.3 539.2M502.8 523.4L483.8 536.3M502.7 523.2L478.8 539.1M501.9 522.9L479.9 537.2M503.9 521.4L478.8 537.5M502.3 522.0L480.1 536.1M501.5 522.1L484.2 533.1M496.0 525.2L480.7 534.7M506.2 518.6L495.9 525.0M491.3 526.3L474.1 536.5M494.8 524.5L491.4 526.5M494.6 524.1L483.0 530.8M494.8 524.5A62.2 62.2 0 0 1 494.6 524.1M497.2 522.0L473.0 535.9M498.2 520.9L486.4 527.5M496.9 521.1L483.2 528.7M495.2 521.7L483.2 528.3M493.1 522.5L491.3 523.4M492.9 522.2L487.4 525.1M493.1 522.5A62.7 62.7 0 0 1 492.9 522.2M495.0 521.2L493.0 522.3M495.2 521.7A60.5 60.5 0 0 1 495.0 521.2M499.5 518.3L484.1 526.4M498.1 518.6L474.7 530.7M495.6 519.2L485.9 524.1M493.3 519.7L461.2 535.4M491.9 519.5L466.3 531.7M491.8 519.2L491.1 519.6M491.9 519.5A62.4 62.4 0 0 1 491.8 519.2M492.2 519.2L491.8 519.4M492.5 519.7A62.0 62.0 0 0 1 492.2 519.2M492.7 519.3L492.3 519.5M492.3 518.5L484.7 522.1M492.7 519.3A61.6 61.6 0 0 1 492.3 518.5M493.5 519.0L493.1 519.2M493.9 519.7A60.7 60.7 0 0 1 493.5 519.0M499.0 515.1L470.3 528.2M504.6 512.4L472.1 527.0M496.6 515.2L471.6 526.1M495.6 515.2L469.9 526.3M495.5 515.0L485.0 519.4M496.4 514.3L486.5 518.4M493.2 515.3L471.5 524.1M493.1 514.9L473.6 522.8M493.7 514.3L471.8 523.0M492.9 514.3L468.7 523.7M489.9 515.2L484.3 517.3M489.9 515.2A62.6 62.6 0 0 1 489.7 514.8M495.7 512.2L463.6 524.2M497.9 511.1L469.2 521.5M489.3 513.8L456.3 525.6M485.9 514.6L458.3 524.2M482.4 515.0L457.7 523.3M481.9 514.8L469.3 519.0M481.8 514.5L480.6 514.8M481.9 514.8A70.0 70.0 0 0 1 481.8 514.5M482.2 514.5L481.8 514.6M482.4 515.0A69.6 69.6 0 0 1 482.2 514.5M482.7 514.6L482.3 514.7M482.9 515.2A69.2 69.2 0 0 1 482.7 514.6M485.6 513.9L482.8 514.9M485.9 514.6A66.1 66.1 0 0 1 485.6 513.9M489.1 513.1L485.8 514.2M489.3 513.8A62.6 62.6 0 0 1 489.1 513.1M491.4 510.9L463.4 519.8M495.0 509.5L464.1 519.2M494.2 509.4L475.8 515.0M495.3 508.8L482.2 512.7M498.4 507.4L485.0 511.4M499.0 507.0L475.6 513.7M493.7 507.9L475.2 513.1M496.8 506.7L463.2 515.8M491.7 507.8L470.6 513.5M473.0 512.3L459.9 515.7M472.4 511.9L467.7 513.1M472.4 511.5L471.2 511.8M472.4 511.9A78.2 78.2 0 0 1 472.4 511.5M472.8 511.6L472.4 511.7M473.0 512.3A77.8 77.8 0 0 1 472.8 511.6M473.3 511.8L472.9 511.9M473.0 510.8L455.3 515.1M473.3 511.8A77.4 77.4 0 0 1 473.0 510.8M478.0 510.1L473.1 511.3M478.0 510.1A72.4 72.4 0 0 1 477.8 509.4M489.5 506.9L477.9 509.7M489.4 506.3L458.9 513.3M493.4 505.1L452.8 514.2M463.3 510.7L461.3 511.2M463.4 511.3A86.9 86.9 0 0 1 463.3 510.7M484.4 506.5L463.4 511.0M476.4 507.6L464.3 510.2M475.9 507.3L458.5 510.8M475.9 506.9L474.2 507.2M475.9 507.3A73.8 73.8 0 0 1 475.9 506.9M476.3 507.0L475.9 507.1M476.4 507.6A73.4 73.4 0 0 1 476.3 507.0M480.5 506.5L476.4 507.3M480.3 505.5L475.5 506.4M480.5 506.5A69.2 69.2 0 0 1 480.3 505.5M484.2 505.3L480.4 506.0M484.4 506.5A65.3 65.3 0 0 1 484.2 505.3M484.1 504.4L478.9 505.3M478.1 505.2L472.2 506.3M478.1 504.8L476.1 505.2M478.1 505.2A71.3 71.3 0 0 1 478.1 504.8M484.0 504.0L478.1 505.0M484.1 504.4A65.2 65.2 0 0 1 484.0 504.0M491.9 502.0L468.9 505.8M490.3 501.6L466.5 505.3M492.8 500.9L482.8 502.4M492.8 500.6L482.6 502.1M467.5 503.7L456.4 505.3M467.5 503.3L465.5 503.6M492.3 500.2L467.5 503.5M487.5 500.4L479.4 501.4M487.4 500.0L470.3 502.1M483.4 499.7L475.2 500.6M483.9 499.3L475.9 500.2M482.7 499.0L473.6 499.9M469.5 499.6L467.2 499.8M469.5 499.6A79.1 79.1 0 0 1 469.4 499.2M486.4 498.0L469.4 499.4M489.5 497.2L455.5 499.8M485.0 497.0L467.9 498.2M481.0 497.0L463.4 498.1M475.9 496.9A72.5 72.5 0 0 1 475.9 496.5M477.9 496.6L475.9 496.7M477.9 496.6A70.5 70.5 0 0 1 477.9 496.0M486.5 495.4L476.9 495.8M484.3 494.6L458.4 495.4M485.9 494.3L467.2 494.8M480.1 494.0L464.9 494.3M480.1 493.6L466.2 493.8M485.5 492.9L475.8 493.0M481.6 492.6L469.8 492.6M481.6 492.1L472.9 492.1M467.2 491.1L460.0 490.9M467.2 490.6L465.6 490.6M467.2 491.1A81.1 81.1 0 0 1 467.2 490.6M467.6 490.9L467.2 490.8M467.6 491.6A80.7 80.7 0 0 1 467.6 490.9M483.3 491.5L467.6 491.2M483.6 490.7L466.9 490.2M483.8 490.3L477.5 490.1M483.0 489.9L423.4 487.4M482.6 489.5L423.4 486.6M479.3 488.6L477.3 488.5M474.6 487.6L458.8 486.5M474.6 487.9A73.8 73.8 0 0 1 474.6 487.6M480.0 487.6L461.9 486.2M479.9 487.3L459.1 485.6M482.7 488.1L482.3 488.1M478.6 486.6L449.6 484.1M478.7 486.3L457.1 484.3M481.8 486.1L479.6 485.9M479.8 485.6L475.2 485.2M479.8 485.2L477.7 485.0M481.3 485.0L464.4 483.1M485.3 485.1L469.9 483.3M484.0 484.6L458.1 481.3M482.5 484.0L480.0 483.7M474.4 482.7L460.4 480.8M474.4 482.2L461.7 480.4M481.5 482.4L463.1 479.5M477.7 481.4L476.5 481.2M477.8 481.1L465.8 479.1M474.6 480.2L465.9 478.7M474.0 479.2L467.0 478.0M478.9 479.3L469.7 477.5M481.3 479.4L477.8 478.7M478.6 478.1L476.6 477.6M476.1 477.0L465.8 474.8M481.3 477.3L474.6 475.8M482.2 477.2L465.2 473.3M476.2 475.3L457.0 470.6M479.8 475.8L457.9 470.5M473.7 472.6L461.5 469.3M473.8 472.2L461.9 468.9M479.5 473.3L469.2 470.4M476.5 471.7L464.0 468.0M473.6 470.2L472.4 469.8M473.7 469.8L471.8 469.2M470.5 468.5L463.2 466.2M470.7 467.9L463.3 465.5M473.2 467.4L468.4 465.8M473.4 466.9L463.2 463.4M476.5 467.6L463.7 463.1M476.3 465.7L471.2 463.9M480.8 466.9L475.5 464.9" fill="none" stroke="#3b78c4" stroke-width="0.62"/>
<path d="M536.2 485.0L521.7 475.6M530.8 481.3L513.2 469.8M528.5 479.2L502.4 461.3M535.9 484.1L513.8 468.8M522.6 474.0L510.4 465.1M522.6 474.0A31.8 31.8 0 0 1 522.8 473.8M523.2 474.3L522.7 473.9M520.5 471.6L507.4 461.5M527.8 476.8L513.1 465.4M516.5 465.8L510.0 460.3M523.6 471.4L520.4 468.6M521.4 468.6L497.9 447.5M505.3 453.5A58.2 58.2 0 0 1 505.6 453.2M524.1 470.9L523.4 470.2M523.6 471.4A32.6 32.6 0 0 1 524.1 470.9M525.2 469.0L521.7 465.4M528.5 471.4L511.7 453.4M527.7 470.2A30.5 30.5 0 0 1 527.9 470.0M530.4 472.5L513.2 453.2M526.7 465.7L497.8 429.9M521.1 458.4A43.8 43.8 0 0 1 521.3 458.2M524.8 462.1L515.9 450.4M539.1 480.1L495.1 420.1M531.5 469.1L522.4 456.4M527.5 460.0L526.4 458.3M527.7 459.8L515.6 440.5M536.3 473.1L522.4 450.5M540.9 480.2L517.8 441.2M543.2 483.9L519.3 442.7M535.5 468.6L517.2 433.9M528.7 453.2A44.1 44.1 0 0 1 529.0 453.0M529.7 454.9L528.8 453.1M529.7 454.9A42.1 42.1 0 0 1 530.2 454.7M534.7 465.9A30.1 30.1 0 0 1 535.2 465.6M533.2 460.5L529.0 451.6M525.1 441.9L524.0 439.6M525.4 441.8L523.9 438.4M532.7 458.2A37.8 37.8 0 0 1 533.1 458.1M533.1 458.5L532.9 458.1M533.1 458.5A37.4 37.4 0 0 1 533.5 458.3M534.0 460.1L533.3 458.4M529.5 447.1L523.6 432.8M536.2 462.8L521.7 426.9M531.2 448.6L528.1 440.5M536.2 462.8A32.3 32.3 0 0 1 536.5 462.6M538.3 459.8L537.4 456.7M538.6 459.7L538.0 457.8M541.3 468.5L538.8 459.9M542.2 465.0L539.6 452.8M542.6 463.2L538.1 440.0M545.1 474.1L542.4 458.1M544.0 458.8L543.7 456.8M544.4 457.8L544.2 455.8M544.9 461.2L544.5 457.7M544.9 461.2A31.7 31.7 0 0 1 545.3 461.2M546.7 477.5L545.1 461.2M545.3 454.6L544.2 440.8M545.6 456.1L545.5 454.6M545.7 451.5L545.0 441.4M546.0 451.5L545.8 448.5M546.1 456.1L545.8 451.5M545.6 456.1A36.7 36.7 0 0 1 546.1 456.1M548.3 467.2L548.2 453.2M548.4 467.4L548.5 454.6M549.9 463.3L550.2 458.4M552.6 443.7L554.4 423.3M552.9 443.3L556.5 405.1M554.3 438.6L554.8 434.2M554.6 438.6L555.0 435.4M554.3 438.6A54.4 54.4 0 0 1 554.6 438.6M554.0 443.0L554.5 438.6M553.4 443.0A50.0 50.0 0 0 1 554.0 443.0M551.3 472.7L563.1 394.8M552.2 468.1L563.9 394.9M555.8 449.8L556.1 447.8M556.1 449.9L558.0 439.2M552.3 474.2L558.0 447.9M552.1 476.4L560.1 441.7M551.3 480.1L559.7 445.1M558.5 457.2L565.8 432.2M565.8 436.6L567.6 430.7M560.0 453.1A41.3 41.3 0 0 1 560.4 453.3M552.3 480.4L566.6 435.7M559.1 459.8L567.0 435.7M559.1 459.8A34.6 34.6 0 0 1 559.4 459.9M559.3 462.0L560.6 458.2M558.9 461.9A32.6 32.6 0 0 1 559.3 462.0M553.8 479.9L563.5 457.3M553.8 481.0L570.7 444.8M554.4 480.1L568.6 451.0M565.6 458.0L575.2 438.6M567.0 456.0A41.2 41.2 0 0 1 567.3 456.2M563.7 462.3L565.8 458.1M563.7 462.3A34.1 34.1 0 0 1 564.2 462.5M562.5 465.2L564.0 462.4M563.0 465.4L570.8 451.0M562.5 465.2A31.0 31.0 0 0 1 563.0 465.4M569.4 461.0L603.7 409.5M566.7 464.2L568.0 462.2M566.1 463.9A33.9 33.9 0 0 1 566.7 464.2M560.2 475.7L571.3 460.0M576.2 454.2L608.8 409.3M558.3 479.6L578.7 452.8M559.8 477.8L593.4 434.2M559.9 477.8L590.0 439.5M577.8 457.4L579.8 454.9M573.8 463.6L611.6 420.5M574.1 463.8L574.4 463.5M574.8 465.9L587.3 453.3M566.2 475.1L594.6 447.2M581.0 461.2L589.3 453.1M585.0 458.1L588.6 454.7M584.7 457.9A50.4 50.4 0 0 1 585.0 458.1M581.2 461.5L584.9 458.0M581.0 461.2A45.4 45.4 0 0 1 581.2 461.5M577.8 465.5L596.9 447.8M586.5 460.2L586.8 459.9M586.2 459.8A50.2 50.2 0 0 1 586.5 460.2M559.3 483.9L592.6 457.0M591.2 458.7L592.8 457.4M591.5 459.0L595.4 456.0M575.3 471.5L591.4 458.9M587.7 463.0L594.0 458.3M582.4 468.1L601.6 454.2M589.1 464.8L590.7 463.6M572.1 476.6L592.9 462.5M597.4 460.7A58.6 58.6 0 0 1 597.5 461.0M594.6 462.7L597.4 460.9M594.2 462.1A55.1 55.1 0 0 1 594.6 462.7M572.0 478.0L595.3 463.6M578.2 475.4L613.9 454.8M578.4 475.7L605.3 460.4M578.2 475.4A34.6 34.6 0 0 1 578.4 475.7M568.5 482.5L618.1 457.4M577.9 477.9L621.3 456.3M577.9 477.9A33.1 33.1 0 0 1 578.0 478.2M577.6 478.2L577.9 478.1M577.6 478.2A32.7 32.7 0 0 1 577.7 478.6M575.2 480.5L624.9 457.9M581.6 478.3L604.1 468.5M582.1 478.3A36.7 36.7 0 0 1 582.2 478.7M579.0 481.1L580.5 480.5M565.0 486.5L578.7 481.5M582.8 480.4L589.5 478.0M584.1 480.3L645.7 459.1M565.2 486.8L582.8 480.6M580.1 483.3L642.3 465.0M582.7 483.4L583.8 483.1M586.3 482.7A39.3 39.3 0 0 1 586.3 483.0M565.6 488.7L593.0 482.3M589.5 484.4L650.3 472.2M591.5 484.7L621.7 479.0M589.6 485.1L590.0 485.0M569.8 490.5L603.4 487.1M574.0 490.6L593.4 489.1M584.5 491.0L603.2 490.2M590.9 491.7L594.8 491.6M590.8 491.3A42.6 42.6 0 0 1 590.9 491.7M579.5 492.2L634.3 491.2M575.7 499.6L604.8 507.0M575.6 499.7L604.0 507.0M589.1 503.5L608.6 508.7M589.1 503.7L605.7 508.2M574.7 499.8L589.1 503.6M578.1 500.9L594.9 505.6M586.2 503.4L605.5 508.8M597.0 506.8L608.4 510.1M597.0 506.8A50.7 50.7 0 0 1 596.9 507.1M592.3 505.6L597.0 507.0M592.3 505.6A45.8 45.8 0 0 1 592.2 506.0M589.9 505.1L592.2 505.8M591.7 506.2L593.6 506.8M591.6 506.4L604.2 510.3M589.7 505.7L591.6 506.3M589.9 505.1A43.4 43.4 0 0 1 589.7 505.7M581.9 503.5L598.0 508.6M577.6 502.3L605.1 511.4M578.0 502.9L597.7 509.6M574.5 502.0L600.0 511.0M577.2 503.1L610.9 515.2M577.1 503.3L599.7 511.6M587.8 507.5L597.5 511.1M591.7 509.5L601.0 513.1M591.6 509.7L592.7 510.1M591.7 509.5A46.5 46.5 0 0 1 591.6 509.7M591.2 509.4L591.6 509.6M591.4 509.0A46.1 46.1 0 0 1 591.2 509.4M590.9 509.1L591.3 509.2M590.7 509.7L598.9 513.0M590.9 509.1A45.7 45.7 0 0 1 590.7 509.7M587.5 508.1L590.8 509.4M587.8 507.5A42.2 42.2 0 0 1 587.5 508.1M573.8 502.5L587.7 507.8M576.9 504.3L592.0 510.4M576.8 504.5L600.1 514.1M578.8 505.5L656.6 538.2M583.0 507.5L656.3 539.0M582.8 507.8L586.5 509.5M583.0 507.5A37.7 37.7 0 0 1 582.8 507.8M586.6 510.1L598.1 515.3M586.6 510.1A42.0 42.0 0 0 1 586.4 510.4M577.4 509.6L597.5 521.3M574.2 508.0L595.2 520.4M579.2 511.1L597.5 522.0M579.1 511.3L593.7 520.1M575.5 509.3L596.7 522.3M587.2 516.8L592.0 519.8M587.3 517.3L588.8 518.2M590.1 519.3L594.9 522.3M589.9 519.5L593.5 521.9M590.1 519.3A49.5 49.5 0 0 1 589.9 519.5M574.0 509.5L595.5 523.6M577.8 512.8L592.8 523.0M579.2 513.9L586.2 518.7M579.1 514.2L586.3 519.2M576.9 512.9L595.2 525.8M574.3 511.2L585.1 518.9M572.4 510.1L591.3 523.7M589.3 522.6L589.9 523.0M588.8 522.5L589.1 522.7M588.6 522.8L592.6 525.8M588.8 522.5A50.3 50.3 0 0 1 588.6 522.8M588.4 522.4L588.7 522.7M588.1 522.8L654.3 573.0M588.4 522.4A49.9 49.9 0 0 1 588.1 522.8M589.1 524.0L653.8 573.7M588.9 524.3L654.1 574.9M589.1 524.0A51.4 51.4 0 0 1 588.9 524.3M571.9 510.7L587.7 522.7M574.9 514.1L589.3 525.8M579.6 519.2L583.5 522.5M578.5 518.8L624.0 558.1M574.1 515.4L623.5 558.6M583.4 523.8A46.9 46.9 0 0 1 583.2 524.0M579.7 520.7L583.3 523.9M579.5 520.9L590.8 531.1M579.7 520.7A42.0 42.0 0 0 1 579.5 520.9M582.7 525.9L583.0 526.2M582.7 525.9A47.8 47.8 0 0 1 582.4 526.2M571.5 514.9L581.8 524.7M576.0 520.5L586.4 531.0M573.4 518.9L589.4 535.6M579.3 525.4L583.8 530.1M579.2 525.5L585.7 532.5M580.1 527.8L581.5 529.3M580.1 527.8A47.4 47.4 0 0 1 579.8 528.0M573.4 520.6L580.0 527.9M573.2 520.8L583.1 532.0M569.7 517.1L589.8 540.0M579.1 529.2L579.6 529.8M578.9 529.4L587.3 539.4M579.1 529.2A47.8 47.8 0 0 1 578.9 529.4M578.8 529.0L579.0 529.3M579.1 528.7A47.4 47.4 0 0 1 578.8 529.0M578.2 528.9L589.2 542.3M577.7 528.8L586.4 539.4M570.0 520.0L578.6 530.8M573.1 525.0L577.7 531.0M567.4 518.2L579.6 534.5M567.7 518.9L583.4 540.0M574.2 528.9L579.2 535.8M574.2 528.9A44.5 44.5 0 0 1 573.9 529.1M578.3 535.9L579.2 537.2M578.1 536.1L579.3 537.8M578.0 535.6L578.2 536.0M578.0 535.6A52.2 52.2 0 0 1 577.7 535.9M569.4 524.3L580.6 540.9M568.1 523.5L579.6 541.2M571.0 528.3L576.4 536.9M568.5 525.6L574.3 535.1M565.9 522.3L575.0 537.5M566.4 523.4L601.2 582.2M567.5 525.7L600.6 582.6M567.3 525.9L574.1 537.8M567.9 528.3L571.4 534.7M567.4 528.0L571.8 536.0M567.2 528.1L569.6 532.5M566.8 529.3L571.4 538.4M567.1 530.3L570.3 536.7M566.8 530.4L570.5 537.8M562.9 523.4L569.7 537.5M564.4 527.4L569.8 539.1M566.7 541.0L576.4 566.5M566.4 541.1L576.0 566.7M566.7 541.0A51.6 51.6 0 0 1 566.4 541.1M565.5 538.2L566.6 541.0M565.5 538.2A48.7 48.7 0 0 1 565.1 538.4M565.0 537.6L565.3 538.3M565.0 537.6A48.0 48.0 0 0 1 564.6 537.8M567.0 546.3L567.7 548.2M551.9 528.6L554.9 558.8M552.4 543.4L553.3 554.2M550.6 533.4L552.0 558.1M550.0 529.8L550.7 546.2M549.8 533.1L550.6 555.6M549.4 534.7L550.0 558.4M549.2 534.5L549.6 556.4M548.7 546.0L548.8 558.7M548.6 541.2L548.6 546.0M549.0 541.2A48.5 48.5 0 0 1 548.6 541.2M545.3 541.2L544.8 549.6M545.0 538.6L543.7 556.8M544.6 533.8L542.8 554.6M544.5 530.8L541.1 564.4M543.6 534.6L542.0 548.1M539.0 548.1L538.9 548.8M539.6 546.9L539.5 547.3M539.6 546.9A54.9 54.9 0 0 1 538.7 546.8M540.5 531.4L537.5 546.2M535.8 546.0L535.4 548.0M535.1 547.7L533.9 552.3M535.1 547.7A56.5 56.5 0 0 1 534.8 547.6M535.0 547.2L534.9 547.6M534.4 547.1L533.6 550.0M535.0 547.2A56.1 56.1 0 0 1 534.4 547.1M531.9 547.0L527.0 563.2M529.0 553.9L525.8 564.0M534.9 535.5L529.2 553.9M532.8 535.9L527.4 550.7M525.7 548.0L520.1 561.8M526.1 547.7L525.9 548.1M526.6 547.9A59.3 59.3 0 0 1 526.1 547.7M527.2 547.3A58.5 58.5 0 0 1 526.2 546.9M532.3 529.9L521.6 554.8M525.8 543.7L519.4 558.2M526.0 542.9L525.7 543.6M526.0 542.9A54.9 54.9 0 0 1 525.5 542.6M528.1 533.8L518.8 552.5M527.0 535.4L517.4 554.8M516.8 555.0A69.9 69.9 0 0 1 516.4 554.8M522.0 539.3L512.5 556.1M515.2 546.8L507.9 558.7M516.7 544.6L515.3 546.9M516.7 544.6A60.7 60.7 0 0 1 516.3 544.3M516.7 544.1L516.5 544.4M517.3 544.5A60.3 60.3 0 0 1 516.7 544.1M511.4 537.9L511.1 538.2M510.9 537.5L504.8 544.8M511.4 537.9A58.3 58.3 0 0 1 510.9 537.5M514.8 533.2L511.2 537.7M506.3 542.3L506.1 542.6M506.3 542.3A65.0 65.0 0 0 1 505.9 541.9M504.8 538.0L500.0 542.9M504.8 538.0A62.8 62.8 0 0 1 504.5 537.7M507.1 535.3L504.6 537.9M507.1 535.3A59.3 59.3 0 0 1 506.7 535.0M508.0 532.2L500.7 539.4M504.5 533.7L488.4 548.8M505.5 531.0L491.2 543.9M503.5 532.3L500.8 534.7M496.8 536.6L492.5 540.3M503.1 529.9L489.2 541.4M497.3 532.6L493.8 535.3M497.3 532.6A64.7 64.7 0 0 1 496.9 531.9M497.9 530.7L488.0 538.2M496.3 530.9L485.5 538.8M497.5 529.7L487.0 537.3M502.1 523.1L479.9 537.8M495.8 524.8L486.2 530.7M496.0 525.2A61.6 61.6 0 0 1 495.8 524.8M498.7 522.8L483.4 532.0M491.6 526.7L484.4 531.0M491.6 526.7A66.1 66.1 0 0 1 491.3 526.3M497.1 521.8L487.9 527.0M498.0 518.4L469.3 533.1M493.9 519.7L468.9 532.1M492.9 518.7L492.5 518.9M493.3 519.7A61.2 61.2 0 0 1 492.9 518.7M497.0 515.3L465.0 529.4M489.7 514.8L465.3 524.0M482.9 515.2L465.1 521.3M493.7 508.2L471.8 514.5M477.8 509.4L475.9 509.8M463.4 511.3L454.0 513.4M467.5 503.7A81.5 81.5 0 0 1 467.5 503.3M483.4 500.1L468.6 501.8M482.7 498.8L464.9 500.5M469.4 499.2L461.1 499.9M475.9 496.9L457.9 497.9M477.9 496.0L463.3 496.7M486.5 494.9L479.2 495.2M481.8 493.3L461.1 493.5M467.6 491.6L461.2 491.5M474.6 487.9L454.6 486.6M478.0 482.2L471.9 481.3M478.1 481.3L477.7 481.2M474.3 479.7L463.9 477.9M476.2 476.6L459.2 472.8M475.0 473.9L473.3 473.4M475.1 473.4L462.2 470.0M476.4 472.1L462.7 468.2M474.8 468.9L470.5 467.5M474.3 468.2L463.9 464.7" fill="none" stroke="#1b4687" stroke-width="0.62"/>
<path d="M509.5 469.3L507.8 468.2M509.6 469.0L504.4 465.8M509.5 469.3A45.3 45.3 0 0 1 509.6 469.0M528.0 480.4L509.6 469.1M528.1 480.2L510.6 469.3M531.5 482.4L528.1 480.3M531.6 482.3L510.8 469.2M532.4 482.9L531.6 482.3M532.5 482.7L509.2 468.0M547.9 492.4L532.5 482.8M527.1 478.5L509.5 466.6M527.9 475.9L518.9 468.5M520.3 468.8L516.6 465.6M520.3 468.8A36.8 36.8 0 0 1 520.5 468.5M521.2 468.8A36.2 36.2 0 0 1 521.4 468.6M514.8 461.3L510.2 456.9M515.0 461.1L513.5 459.8M526.4 472.1L514.9 461.2M526.5 471.9L514.7 460.6M527.4 472.9L526.5 472.0M527.6 472.7L514.9 460.5M527.4 472.9A28.8 28.8 0 0 1 527.6 472.7M530.5 475.6L527.5 472.8M530.7 475.4L503.8 449.1M530.5 475.6A24.7 24.7 0 0 1 530.7 475.4M547.9 492.4L530.6 475.5M535.6 480.1L503.5 448.4M535.6 478.1L519.3 459.3M535.7 478.0L520.3 460.0M537.0 479.6L535.7 478.0M537.1 479.5L517.6 456.5M537.7 480.3L537.1 479.6M537.8 480.2L523.3 462.9M541.6 484.9L537.8 480.3M541.7 484.8L518.4 456.8M548.0 492.3L541.7 484.8M540.8 483.5L524.4 463.6M540.8 483.5L523.2 461.8M548.0 492.3L540.8 483.5M536.3 471.8L524.1 450.5M535.2 469.6L523.6 449.3M532.0 463.7L523.8 449.1M532.2 463.7L523.4 447.9M533.5 466.1L532.1 463.7M533.7 466.0L528.3 456.3M534.5 467.8L533.6 466.1M534.8 467.7L524.3 448.5M535.0 468.5L534.6 467.8M535.3 468.3L524.9 448.9M535.0 468.5A27.6 27.6 0 0 1 535.3 468.3M535.7 469.4L535.1 468.4M535.2 469.6A26.5 26.5 0 0 1 535.7 469.4M536.6 471.6L535.4 469.5M536.3 471.8A24.2 24.2 0 0 1 536.6 471.6M548.1 492.3L536.4 471.7M529.0 453.0L528.1 451.2M530.9 448.8A47.2 47.2 0 0 1 531.2 448.6M538.7 466.3L528.7 438.6M537.2 461.4L527.1 432.8M532.3 447.1L531.6 445.2M532.3 446.3L527.8 433.2M532.1 445.0L531.1 442.0M532.4 444.9L531.0 440.7M532.1 445.0A50.4 50.4 0 0 1 532.4 444.9M532.5 445.8L532.2 444.9M532.7 445.3L532.3 444.2M533.0 445.3L532.3 443.3M532.7 445.3A49.9 49.9 0 0 1 533.0 445.3M533.0 445.7L532.8 445.3M532.5 445.8A49.5 49.5 0 0 1 533.0 445.7M532.9 446.1L532.7 445.8M532.3 446.3A49.1 49.1 0 0 1 532.9 446.1M532.8 446.9L532.6 446.2M532.3 447.1A48.3 48.3 0 0 1 532.8 446.9M537.5 461.3L532.6 447.0M537.2 461.4A33.2 33.2 0 0 1 537.5 461.3M539.0 466.2L537.4 461.4M538.7 466.3A28.1 28.1 0 0 1 539.0 466.2M540.8 471.7L538.9 466.2M541.6 471.5L531.0 438.1M540.8 471.7A22.3 22.3 0 0 1 541.6 471.5M548.1 492.2L541.2 471.6M545.8 484.7L537.5 457.9M544.9 480.6L539.8 462.4M542.5 471.4L536.6 449.8M542.5 471.4L534.9 443.2M543.6 475.4L542.5 471.4M543.7 475.4L536.9 449.9M544.5 478.4L543.6 475.4M543.3 473.3L537.3 450.1M543.1 472.1L536.5 446.0M543.2 472.1L537.7 450.2M543.4 473.3L543.1 472.1M544.7 478.4L543.4 473.3M545.4 481.6L544.6 478.4M543.1 471.7L537.3 447.9M543.3 471.6L535.7 439.7M544.5 476.8L543.2 471.7M544.6 476.8L538.4 450.1M545.7 481.5L544.5 476.8M545.4 481.6A11.5 11.5 0 0 1 545.7 481.5M548.2 492.2L545.5 481.6M543.5 463.7L540.6 445.6M543.7 463.7L541.5 449.8M543.8 465.1L543.6 463.7M544.1 465.1L540.9 444.4M544.4 468.0L544.0 465.1M543.4 459.5L541.0 443.8M543.5 459.5L541.3 444.3M544.3 465.0L543.5 459.5M543.9 460.9L543.0 454.7M544.0 460.9L542.3 448.3M544.5 465.0L543.9 460.9M544.8 468.0L544.4 465.0M544.4 468.0A25.0 25.0 0 0 1 544.8 468.0M548.2 492.2L544.6 468.0M547.3 478.5L545.8 456.1M547.2 470.8L545.6 440.2M547.0 463.0L546.0 442.9M547.0 460.1L546.4 443.9M547.1 459.3L546.5 443.7M547.3 459.3L546.7 439.7M547.2 460.1L547.2 459.3M547.2 463.0L547.1 460.1M547.0 463.0A29.8 29.8 0 0 1 547.2 463.0M547.3 468.0L547.1 463.0M547.6 463.5L547.2 447.7M547.7 463.5L547.4 445.1M547.7 468.0L547.6 463.5M547.3 468.0A24.7 24.7 0 0 1 547.7 468.0M547.6 470.7L547.5 468.0M547.2 470.8A22.0 22.0 0 0 1 547.6 470.7M548.3 492.2L547.4 470.8M548.6 467.4L548.9 451.3M548.6 479.5L549.3 442.8M548.8 470.9L549.5 442.3M549.0 470.9L549.8 443.4M548.8 474.3L548.9 470.9M549.2 468.5L549.9 447.3M549.4 464.1L550.1 448.1M549.6 464.1L550.8 436.7M549.4 466.5L549.5 464.1M549.6 466.5L550.8 442.9M549.4 468.5L549.5 466.5M549.2 468.5A24.3 24.3 0 0 1 549.4 468.5M549.1 474.3L549.3 468.5M548.7 479.5L548.9 474.3M548.3 492.2L548.7 479.5M550.8 474.0L556.7 429.9M551.5 469.7L556.1 435.9M551.6 469.8L556.5 436.8M550.9 474.0L551.6 469.8M548.4 492.2L550.9 474.0M558.2 457.1L559.0 454.1M558.4 462.2L559.2 459.8M558.4 462.2A32.2 32.2 0 0 1 559.0 462.4M564.8 449.0L565.8 446.5M553.3 483.6L575.6 442.8M563.5 465.2L580.1 435.1M566.0 461.0L577.6 440.2M568.6 456.8L573.9 447.5M568.8 456.9L582.0 433.8M566.3 461.2L568.7 456.9M566.0 461.0A36.3 36.3 0 0 1 566.3 461.2M563.8 465.3L566.1 461.1M563.5 465.2A31.4 31.4 0 0 1 563.8 465.3M553.3 483.7L563.6 465.2M548.5 492.3L553.3 483.6M562.5 472.8L586.1 439.6M574.5 463.6L575.3 462.8M577.2 466.4L588.0 456.6M556.9 487.9L608.7 458.9M565.1 483.4L628.8 448.1M570.1 480.8L629.0 448.5M570.2 480.9L629.2 449.0M565.2 483.5L570.1 480.8M560.9 485.8L565.1 483.5M562.6 485.1L634.1 446.9M562.6 485.2L634.4 447.4M561.0 485.9L562.6 485.1M557.0 488.0L561.0 485.9M548.7 492.5L557.0 487.9M582.1 478.3L582.8 478.0M582.1 484.6L621.2 475.1M600.4 485.9A52.5 52.5 0 0 1 600.4 486.2M574.6 493.6L603.3 494.7M574.6 493.8L597.8 494.7M570.4 493.6L574.6 493.7M575.2 493.9L595.6 494.9M579.8 494.3L597.8 495.2M579.8 494.4L603.0 495.7M575.2 494.1L579.8 494.3M570.4 493.8L575.2 494.0M572.4 494.1L595.2 495.4M577.9 494.6L609.2 496.5M584.0 495.2L606.9 496.7M584.0 495.2L600.5 496.4M579.3 494.9L584.0 495.2M579.3 495.1L600.4 496.7M577.8 494.9L579.3 495.0M577.9 494.6A29.6 29.6 0 0 1 577.8 494.9M574.6 494.5L577.9 494.7M574.6 494.8L597.7 496.6M574.6 494.5A26.4 26.4 0 0 1 574.6 494.8M572.3 494.5L574.6 494.7M572.4 494.1A24.1 24.1 0 0 1 572.3 494.5M573.8 494.9L599.2 497.1M582.1 495.8L599.8 497.4M582.1 495.9L607.4 498.3M577.8 495.4L582.1 495.8M577.8 495.6L597.5 497.5M575.7 495.3L577.8 495.5M580.3 496.0L596.8 497.7M580.2 496.1L606.0 498.9M575.6 495.6L580.3 496.1M575.7 495.3A27.5 27.5 0 0 1 575.6 495.6M573.7 495.3L575.6 495.4M573.8 494.9A25.6 25.6 0 0 1 573.7 495.3M574.2 495.6L605.8 499.2M577.6 496.1L594.7 498.1M577.5 496.2L604.4 499.5M574.2 495.8L577.6 496.2M573.3 495.8L601.6 499.4M578.5 496.6L603.7 499.9M586.6 497.9L596.9 499.2M586.6 498.0L604.2 500.5M582.9 497.4L586.6 497.9M585.3 498.0L606.7 501.0M585.3 498.1L605.3 501.1M582.9 497.7L585.3 498.0M582.9 497.4A35.0 35.0 0 0 1 582.9 497.7M578.5 496.9L582.9 497.6M578.5 496.6A30.5 30.5 0 0 1 578.5 496.9M574.2 496.2L578.5 496.8M574.1 496.6L605.7 501.4M574.2 496.2A26.1 26.1 0 0 1 574.1 496.6M573.3 496.3L574.1 496.4M573.3 495.8A25.2 25.2 0 0 1 573.3 496.3M581.6 497.9L610.1 502.3M587.5 499.0L609.1 502.5M587.5 499.2L612.0 503.3M586.4 498.9L587.5 499.1M586.4 499.1L600.2 501.5M581.5 498.2L586.4 499.0M581.6 497.9A33.7 33.7 0 0 1 581.5 498.2M577.7 497.4L581.5 498.0M580.6 498.3L603.2 502.2M595.9 501.2L607.4 503.2M596.3 501.5L607.3 503.5M596.6 501.7L597.8 501.9M596.6 502.0L598.0 502.3M596.6 501.7A49.2 49.2 0 0 1 596.6 502.0M596.2 501.8L596.6 501.9M596.3 501.5A48.8 48.8 0 0 1 596.2 501.8M595.9 501.6L596.2 501.6M595.9 501.2A48.4 48.4 0 0 1 595.9 501.6M580.6 498.6L595.9 501.4M580.6 498.3A32.8 32.8 0 0 1 580.6 498.6M577.6 497.9L580.6 498.5M577.7 497.4A29.7 29.7 0 0 1 577.6 497.9M573.1 496.9L577.6 497.7M597.5 502.3L605.6 503.9M597.4 502.6L598.6 502.9M597.5 502.3A50.1 50.1 0 0 1 597.4 502.6M597.1 502.4L597.5 502.5M597.0 502.7L602.7 503.9M597.1 502.4A49.7 49.7 0 0 1 597.0 502.7M596.7 502.5L597.0 502.6M596.6 502.9L600.7 503.7M596.7 502.5A49.3 49.3 0 0 1 596.6 502.9M573.0 497.8L596.6 502.7M573.1 496.9A25.2 25.2 0 0 1 573.0 497.8M578.1 499.1L603.5 504.5M595.6 503.0L599.4 503.9M595.6 503.3L602.8 504.9M585.6 500.9L595.6 503.2M585.5 501.2L597.5 504.0M585.6 500.9A38.2 38.2 0 0 1 585.5 501.2M581.4 500.2L585.5 501.1M589.2 502.2L598.6 504.4M589.1 502.4L598.2 504.6M585.7 501.5L589.1 502.3M585.6 501.7L604.3 506.2M581.3 500.6L585.7 501.6M581.4 500.2A34.0 34.0 0 0 1 581.3 500.6M578.0 499.6L581.4 500.4M578.1 499.1A30.5 30.5 0 0 1 578.0 499.6M573.4 498.3L578.1 499.3M573.2 498.8L601.9 505.9M573.4 498.3A25.7 25.7 0 0 1 573.2 498.8M581.9 509.2L600.9 518.5M585.0 512.1L592.1 515.9M582.9 526.3L584.0 527.4M564.1 532.1L566.9 539.1M563.8 532.2L565.9 537.6M565.1 538.4L565.8 540.3M566.0 542.6L566.5 544.2M565.2 543.3L565.5 544.4M560.4 528.5L565.1 542.4M559.1 526.2L565.4 545.5M557.3 521.8L565.1 546.9M558.8 527.2L564.1 544.6M559.9 531.4L565.2 549.1M560.7 535.0L566.8 555.8M561.6 538.9L564.1 547.6M563.5 546.1L565.6 553.5M563.2 546.1L563.6 547.7M563.5 546.1A55.5 55.5 0 0 1 563.2 546.1M563.2 545.7L563.3 546.1M562.9 545.8L564.1 550.1M563.2 545.7A55.1 55.1 0 0 1 562.9 545.8M561.4 539.7L563.1 545.8M561.0 539.8L561.5 541.7M561.4 539.7A48.8 48.8 0 0 1 561.0 539.8M561.0 539.1L561.2 539.8M561.6 538.9A48.1 48.1 0 0 1 561.0 539.1M560.2 535.1L561.3 539.0M560.7 535.0A44.0 44.0 0 0 1 560.2 535.1M559.5 531.6L560.5 535.0M559.9 531.4A40.4 40.4 0 0 1 559.5 531.6M558.5 527.3L559.7 531.5M558.8 527.2A36.0 36.0 0 0 1 558.5 527.3M557.9 524.8L558.6 527.2M560.7 539.2L563.1 548.2M560.4 539.3L563.3 550.5M560.7 539.2A48.1 48.1 0 0 1 560.4 539.3M556.8 525.1L560.5 539.2M557.9 524.8A33.5 33.5 0 0 1 556.8 525.1M560.1 538.7L561.5 544.0M562.1 547.9L563.3 552.6M562.0 547.9L562.5 549.9M559.8 538.8L562.1 547.9M560.1 538.7A47.5 47.5 0 0 1 559.8 538.8M558.9 534.8L560.0 538.8M558.5 534.9L561.9 548.8M558.9 534.8A43.4 43.4 0 0 1 558.5 534.9M558.0 531.8L558.7 534.9M557.6 531.8L562.7 553.3M558.0 531.8A40.2 40.2 0 0 1 557.6 531.8M557.5 530.6L557.8 531.8M558.3 535.4L562.7 554.1M559.2 540.7L559.7 542.7M559.1 540.7L559.5 542.7M558.9 539.5L559.2 540.7M558.7 540.0L559.0 541.5M558.9 541.8L560.3 548.4M558.6 541.8L559.4 545.5M558.4 540.0L558.7 541.8M558.7 540.0A48.4 48.4 0 0 1 558.4 540.0M558.4 539.6L558.5 540.0M558.9 539.5A48.0 48.0 0 0 1 558.4 539.6M557.8 535.5L558.7 539.6M558.3 535.4A43.8 43.8 0 0 1 557.8 535.5M557.0 530.7L558.0 535.4M557.5 530.6A39.0 39.0 0 0 1 557.0 530.7M556.2 526.5L557.2 530.7M556.1 530.6L558.5 542.0M556.0 530.6L558.3 542.1M555.2 526.8L556.0 530.6M556.2 526.5A34.8 34.8 0 0 1 555.2 526.8M558.1 542.5L558.5 544.4M558.2 543.9L559.1 548.8M557.9 544.0L558.3 545.9M558.2 543.9A52.2 52.2 0 0 1 557.9 544.0M557.9 543.5L558.0 543.9M557.6 543.5L558.3 547.4M557.9 543.5A51.7 51.7 0 0 1 557.6 543.5M557.6 542.6L557.8 543.5M558.1 542.5A50.7 50.7 0 0 1 557.6 542.6M556.1 533.2L557.9 542.5M555.8 534.8L557.8 546.0M555.6 534.8L557.4 544.7M555.4 533.3L555.7 534.8M556.1 533.2A41.2 41.2 0 0 1 555.4 533.3M555.1 529.7L555.8 533.2M554.6 529.8L556.9 543.6M555.1 529.7A37.6 37.6 0 0 1 554.6 529.8M554.4 527.4L554.8 529.7M554.8 532.5L557.7 550.0M554.7 532.5L557.6 550.5M554.2 528.9L554.8 532.5M553.9 529.0L557.5 551.7M553.8 527.5L554.1 528.9M554.4 527.4A35.2 35.2 0 0 1 553.8 527.5M553.0 523.6L555.9 543.2M551.9 532.1L554.3 558.9M548.4 546.0L548.4 549.5M545.3 541.2A48.6 48.6 0 0 1 545.0 541.2M543.7 534.6L541.7 553.5M543.0 537.0L540.5 557.9M542.5 532.1L538.5 559.1M538.8 548.0L538.1 551.8M541.5 532.9L539.1 546.9M540.9 532.8L536.1 558.7M541.2 529.8L537.8 547.4M541.2 528.9L535.7 556.8M532.3 541.5L524.5 565.1M522.5 538.8L509.8 561.5M523.1 532.8L517.7 541.4M521.7 534.6L516.2 543.2M520.8 535.6L520.2 536.6M520.7 535.5L515.3 543.8M521.0 535.2L520.8 535.6M520.6 535.0L513.8 545.4M521.0 535.2A50.5 50.5 0 0 1 520.6 535.0M521.0 534.8L520.8 535.1M515.2 542.9L513.7 545.2M514.9 542.8L513.8 544.4M515.2 542.9A60.2 60.2 0 0 1 514.9 542.8M520.6 534.5L515.1 542.8M521.0 534.8A50.1 50.1 0 0 1 520.6 534.5M521.1 534.2L520.8 534.6M521.7 534.6A49.7 49.7 0 0 1 521.1 534.2M522.6 532.5L521.4 534.4M523.1 532.8A47.4 47.4 0 0 1 522.6 532.5M523.4 531.9L522.9 532.7M519.7 535.4L516.2 540.5M519.4 535.2L513.1 544.6M519.7 535.4A51.4 51.4 0 0 1 519.4 535.2M521.3 532.7L519.6 535.3M519.1 535.5L516.5 539.3M518.6 535.7L517.8 536.9M518.4 535.6L513.5 542.7M518.7 535.3L518.5 535.7M519.1 535.5A51.9 51.9 0 0 1 518.7 535.3M519.1 535.1L518.9 535.4M518.7 534.8L513.7 541.9M519.1 535.1A51.5 51.5 0 0 1 518.7 534.8M520.7 532.3L518.9 534.9M521.3 532.7A48.3 48.3 0 0 1 520.7 532.3M522.1 531.0L521.0 532.5M523.4 531.9A46.4 46.4 0 0 1 522.1 531.0M522.2 529.5L515.9 538.4M520.9 531.0L515.5 538.5M518.5 533.9L517.0 536.0M518.3 533.7L514.9 538.5M518.5 533.9A50.8 50.8 0 0 1 518.3 533.7M520.0 531.6L518.4 533.8M518.1 533.7L516.9 535.3M518.0 533.6L515.4 537.1M519.7 531.4L518.0 533.6M520.0 531.6A48.1 48.1 0 0 1 519.7 531.4M520.5 530.7L519.9 531.5M520.9 531.0A47.1 47.1 0 0 1 520.5 530.7M521.8 529.2L520.7 530.8M522.2 529.5A45.1 45.1 0 0 1 521.8 529.2M518.5 532.5L516.0 535.8M518.3 532.3L514.1 537.9M521.1 528.9L518.4 532.4M519.1 531.0L513.8 538.0M516.9 533.5L515.6 535.1M516.7 533.4L513.2 537.8M518.8 530.8L516.8 533.4M519.1 531.0A48.1 48.1 0 0 1 518.8 530.8M520.7 528.6L519.0 530.9M521.1 528.9A45.3 45.3 0 0 1 520.7 528.6M519.7 529.2L512.7 538.0M515.4 533.7L509.5 540.9M511.2 538.3L503.1 548.3M511.0 538.1L510.0 539.3M506.2 542.7L505.2 543.9M506.2 542.7A65.4 65.4 0 0 1 505.9 542.4M516.3 530.1L506.1 542.1M510.4 535.1L499.8 546.8M513.2 531.0L500.8 544.5M496.9 531.9L485.9 540.3M504.0 523.8L498.6 527.7M492.5 519.7L463.7 533.7M490.4 502.0L465.6 506.0M475.9 496.5L456.5 497.5M474.1 478.7L472.9 478.5" fill="none" stroke="#000" stroke-width="0.9"/>
<path d="M528.3 479.4L527.1 478.5M528.3 479.4A24.0 24.0 0 0 1 528.5 479.2M531.0 481.0L528.4 479.3M530.8 481.3A20.9 20.9 0 0 1 531.0 481.0M535.7 484.3L530.9 481.1M535.7 484.3A15.1 15.1 0 0 1 535.9 484.1M536.4 484.6L535.8 484.2M536.2 485.0A14.3 14.3 0 0 1 536.4 484.6M547.9 492.4L536.3 484.8M527.5 477.2L523.3 474.1M527.5 477.2A26.0 26.0 0 0 1 527.8 476.8M547.9 492.4L527.6 477.0M527.6 476.2A26.4 26.4 0 0 1 527.9 475.9M529.1 477.2L527.8 476.1M528.0 474.8L523.9 471.1M527.5 475.3A27.1 27.1 0 0 1 528.0 474.8M529.6 476.6L527.7 475.0M529.1 477.2A24.7 24.7 0 0 1 529.6 476.6M547.9 492.4L529.4 476.9M527.4 471.4L525.1 469.1M527.4 471.4A29.9 29.9 0 0 1 527.6 471.2M527.7 471.6A29.5 29.5 0 0 1 528.0 471.3M528.2 471.7L527.9 471.4M528.2 471.7A29.1 29.1 0 0 1 528.5 471.4M528.6 471.9L528.3 471.6M529.0 471.5L527.8 470.1M528.6 471.9A28.7 28.7 0 0 1 529.0 471.5M529.9 472.9L528.8 471.7M529.9 472.9A27.0 27.0 0 0 1 530.4 472.5M533.1 476.0L530.1 472.7M533.1 476.0A22.6 22.6 0 0 1 533.4 475.7M536.4 479.4L533.3 475.9M535.6 480.1A17.8 17.8 0 0 1 536.4 479.4M548.0 492.3L536.0 479.8M541.8 484.3L541.1 483.3M531.5 469.1A29.0 29.0 0 0 1 531.7 469.0M534.5 473.2L531.6 469.0M534.5 473.2A23.9 23.9 0 0 1 534.8 473.0M536.9 476.4L534.7 473.1M536.6 476.6A19.9 19.9 0 0 1 536.9 476.4M539.3 479.9L536.8 476.5M540.1 481.3L539.2 480.0M540.6 482.2L540.0 481.4M540.6 482.2A13.0 13.0 0 0 1 541.0 481.9M542.2 484.0L540.8 482.0M541.8 484.3A10.6 10.6 0 0 1 542.2 484.0M548.0 492.3L542.0 484.1M536.0 473.2A23.0 23.0 0 0 1 536.3 473.1M539.0 477.7L536.1 473.2M539.0 477.7A17.7 17.7 0 0 1 539.2 477.5M539.4 478.1L539.1 477.6M539.1 478.3A17.1 17.1 0 0 1 539.4 478.1M540.6 480.4L539.2 478.2M540.6 480.4A14.6 14.6 0 0 1 540.9 480.2M543.0 484.0L540.7 480.3M543.6 484.8L543.1 483.9M543.3 485.0A9.2 9.2 0 0 1 543.6 484.8M548.0 492.3L543.4 484.9M537.0 471.1L535.7 468.5M537.5 470.8L535.0 465.7M537.0 471.1A24.4 24.4 0 0 1 537.5 470.8M538.5 473.4L537.2 470.9M536.0 465.7L533.6 460.3M536.0 465.7A29.7 29.7 0 0 1 536.9 465.3M537.3 467.3L536.4 465.5M538.1 467.0L536.4 462.7M537.3 467.3A27.7 27.7 0 0 1 538.1 467.0M540.0 472.7L537.7 467.2M538.5 473.4A21.7 21.7 0 0 1 540.0 472.7M548.1 492.2L539.2 473.0M546.0 484.7L544.8 480.6M548.2 492.2L545.9 484.7M542.7 463.6L542.7 463.2M542.7 463.6A29.6 29.6 0 0 1 543.1 463.6M542.5 464.1A29.2 29.2 0 0 1 543.0 464.0M542.4 464.5A28.8 28.8 0 0 1 542.8 464.4M542.7 464.9L542.6 464.5M542.2 465.0A28.4 28.4 0 0 1 542.7 464.9M544.4 474.3A18.8 18.8 0 0 1 545.1 474.1M545.0 475.1L544.8 474.2M544.3 475.3A17.9 17.9 0 0 1 545.0 475.1M548.2 492.2L544.6 475.2M547.0 478.5L546.9 477.5M547.0 478.5A14.2 14.2 0 0 1 547.3 478.5M547.4 481.8L547.2 478.5M547.0 481.9A10.9 10.9 0 0 1 547.4 481.8M548.2 492.2L547.2 481.9M548.2 470.8L548.2 467.2M548.5 470.8L548.5 467.4M548.2 470.8A21.9 21.9 0 0 1 548.5 470.8M548.3 475.3L548.4 470.8M548.0 475.3A17.4 17.4 0 0 1 548.3 475.3M548.3 492.2L548.2 475.3M550.0 464.7L550.0 463.3M550.4 464.1A28.7 28.7 0 0 1 550.8 464.1M550.5 464.8L550.6 464.1M550.0 464.7A28.0 28.0 0 0 1 550.5 464.8M550.0 468.7L550.2 464.7M550.0 468.7A24.0 24.0 0 0 1 551.3 468.9M548.3 492.2L550.6 468.8M552.2 468.1A24.9 24.9 0 0 1 552.6 468.1M551.7 472.7L552.4 468.1M551.3 472.7A20.3 20.3 0 0 1 551.7 472.7M548.4 492.2L551.5 472.7M551.9 476.3L552.3 474.2M551.6 478.2L552.0 476.3M551.3 478.8L551.4 478.2M550.9 480.1L551.2 478.7M550.9 480.1A12.9 12.9 0 0 1 551.3 480.1M550.7 482.1L551.1 480.1M548.4 492.2L550.8 482.1M552.8 476.5L553.3 474.7M552.8 476.5A16.8 16.8 0 0 1 553.2 476.6M552.5 478.1L553.0 476.5M552.1 478.0A15.2 15.2 0 0 1 552.5 478.1M552.2 478.6L552.3 478.1M551.9 478.6A14.6 14.6 0 0 1 552.2 478.6M551.6 480.2L552.0 478.6M551.6 480.2A13.0 13.0 0 0 1 552.3 480.4M548.4 492.2L551.9 480.3M556.8 469.9A24.3 24.3 0 0 1 557.1 470.0M555.0 475.0L556.9 470.0M554.4 474.8A18.9 18.9 0 0 1 555.0 475.0M548.5 492.2L554.7 474.9M553.5 479.8L555.5 474.9M553.5 479.8A13.9 13.9 0 0 1 553.8 479.9M548.5 492.2L553.6 479.9M559.9 466.8A28.3 28.3 0 0 1 560.1 467.0M553.9 481.1L554.4 480.1M552.3 484.2L553.8 481.1M552.3 484.2A9.4 9.4 0 0 1 552.7 484.4M551.8 485.6L552.5 484.3M551.6 485.5A7.9 7.9 0 0 1 551.8 485.6M548.5 492.2L551.7 485.5M555.0 481.5L556.9 478.3M555.0 481.5A13.1 13.1 0 0 1 555.3 481.6M548.6 492.3L555.2 481.5M557.2 479.8L560.1 475.7M562.5 472.8A24.4 24.4 0 0 1 562.7 473.0M560.6 475.7L562.6 472.9M560.6 475.7A20.9 20.9 0 0 1 560.8 475.9M557.6 480.1L560.7 475.8M557.2 479.8A15.7 15.7 0 0 1 557.6 480.1M555.8 482.2L557.4 480.0M558.4 479.7L559.9 477.8M556.2 482.4L558.3 479.6M555.8 482.2A12.9 12.9 0 0 1 556.2 482.4M548.6 492.3L556.0 482.3M567.5 469.7L569.9 466.9M567.5 469.7A30.0 30.0 0 0 1 568.7 470.7M564.2 474.6L568.1 470.2M563.4 473.9A24.1 24.1 0 0 1 564.2 474.6M548.6 492.3L563.8 474.2M564.6 476.5L566.1 475.0M565.9 476.4A23.9 23.9 0 0 1 566.2 476.8M565.3 477.3L566.0 476.6M564.6 476.5A23.0 23.0 0 0 1 565.3 477.3M562.4 479.4L565.0 476.9M561.9 478.9A19.4 19.4 0 0 1 562.4 479.4M560.3 480.9L562.1 479.1M560.3 480.9A16.8 16.8 0 0 1 561.0 481.7M548.7 492.4L560.7 481.3M564.0 480.5A19.9 19.9 0 0 1 564.4 481.0M559.6 484.2L564.2 480.8M559.3 483.9A14.1 14.1 0 0 1 559.6 484.2M548.7 492.4L559.4 484.0M572.1 476.6A28.7 28.7 0 0 1 572.3 476.9M568.4 479.3L572.2 476.8M572.2 478.3L575.1 476.5M572.0 478.0A27.9 27.9 0 0 1 572.2 478.3M571.2 478.7L572.1 478.1M571.5 479.2L576.4 476.4M571.2 478.7A26.9 26.9 0 0 1 571.5 479.2M570.2 479.6L571.4 479.0M569.9 479.1A25.5 25.5 0 0 1 570.2 479.6M568.9 480.1L570.1 479.4M568.4 479.3A24.2 24.2 0 0 1 568.9 480.1M565.3 481.9L568.7 479.7M564.7 481.0A20.1 20.1 0 0 1 565.3 481.9M548.7 492.4L565.0 481.4M563.4 485.0L568.4 482.4M575.1 480.2A29.6 29.6 0 0 1 575.2 480.5M571.8 481.9L575.2 480.4M571.6 481.4A25.9 25.9 0 0 1 571.8 481.9M568.8 483.0L571.7 481.6M568.8 483.0A22.7 22.7 0 0 1 569.1 483.8M563.8 485.7L569.0 483.4M563.4 485.0A17.0 17.0 0 0 1 563.8 485.7M548.8 492.5L563.6 485.3M565.0 486.5A17.9 17.9 0 0 1 565.2 486.8M562.8 487.5L565.1 486.7M562.8 487.5A15.4 15.4 0 0 1 562.9 487.9M548.8 492.5L562.8 487.7M572.8 485.3L578.4 483.6M572.8 485.3A25.6 25.6 0 0 1 572.9 485.8M568.9 486.7L572.9 485.6M568.9 486.7A21.5 21.5 0 0 1 569.1 487.5M565.5 488.1L569.0 487.1M565.5 488.1A17.8 17.8 0 0 1 565.6 488.7M556.1 490.8L565.5 488.4M576.8 486.5A29.1 29.1 0 0 1 576.9 487.1M573.4 487.6L576.8 486.8M573.4 487.6A25.6 25.6 0 0 1 573.5 488.6M556.2 491.2L573.5 488.1M575.3 489.0A27.3 27.3 0 0 1 575.4 489.4M570.0 489.9L575.3 489.2M570.0 489.9A21.9 21.9 0 0 1 570.1 490.3M556.2 491.8L570.0 490.1M565.2 491.1L569.8 490.6M575.0 491.5L580.2 491.2M575.0 492.1L579.5 492.0M575.0 491.5A26.7 26.7 0 0 1 575.0 492.1M574.1 491.8L575.0 491.8M574.0 490.6A25.8 25.8 0 0 1 574.1 491.8M571.2 491.4L574.1 491.2M571.2 490.7A22.9 22.9 0 0 1 571.2 491.4M565.2 491.5L571.2 491.1M565.2 491.1A16.9 16.9 0 0 1 565.2 491.5M556.3 492.0L565.2 491.3M575.9 492.9L580.4 492.9M575.9 492.9A27.6 27.6 0 0 1 575.9 493.3M571.8 493.1L575.9 493.1M571.8 492.5A23.5 23.5 0 0 1 571.8 493.1M556.3 492.7L571.8 492.8M555.4 489.1A8.0 8.0 0 0 1 556.3 491.9M561.5 487.9A14.0 14.0 0 0 1 562.3 492.2M568.4 493.6L570.4 493.7M568.7 494.1L572.4 494.3M569.1 494.6L573.8 495.1M569.3 495.1L574.2 495.7M569.4 495.5L573.3 496.1M569.6 496.7L573.1 497.3M569.8 497.7L573.3 498.6M572.3 498.8L575.7 499.7M582.1 502.6L586.1 503.8M582.1 502.6A35.3 35.3 0 0 1 581.9 503.5M577.8 501.8L582.0 503.0M578.1 500.9A30.9 30.9 0 0 1 577.8 501.8M575.9 500.8L577.9 501.3M577.5 502.3L577.6 502.3M575.6 501.8L577.5 502.4M575.9 500.8A28.8 28.8 0 0 1 575.6 501.8M574.4 500.8L575.8 501.3M574.7 499.8A27.4 27.4 0 0 1 574.4 500.8M572.0 499.6L574.6 500.3M572.3 498.8A24.7 24.7 0 0 1 572.0 499.6M570.1 498.6L572.2 499.2M577.9 502.8L578.0 502.9M574.6 501.8L577.9 502.9M572.3 501.1L574.5 501.9M574.0 502.0L577.2 503.2M574.0 502.0A27.3 27.3 0 0 1 573.8 502.5M572.1 501.6L573.9 502.2M572.3 501.1A25.4 25.4 0 0 1 572.1 501.6M570.1 500.6L572.2 501.3M573.9 503.2L576.9 504.4M578.7 505.9L582.9 507.7M578.8 505.5A33.1 33.1 0 0 1 578.7 505.9M576.2 504.6L578.7 505.7M580.4 507.2L583.2 508.5M580.4 507.2A35.2 35.2 0 0 1 580.1 507.7M575.8 505.4L580.3 507.5M576.2 504.6A30.3 30.3 0 0 1 575.8 505.4M573.6 504.0L576.0 505.0M573.9 503.2A27.7 27.7 0 0 1 573.6 504.0M571.9 502.8L573.8 503.6M571.5 503.8L576.3 506.1M571.9 502.8A25.7 25.7 0 0 1 571.5 503.8M570.0 502.5L571.7 503.3M580.2 508.3L581.9 509.1M580.2 508.3A35.5 35.5 0 0 1 580.1 508.6M576.3 506.5L580.2 508.4M579.0 508.8L582.3 510.6M579.2 508.4A34.7 34.7 0 0 1 579.0 508.8M576.0 507.0L579.1 508.6M576.3 506.5A31.2 31.2 0 0 1 576.0 507.0M573.2 505.2L576.2 506.8M578.9 510.2L580.2 510.9M579.1 509.9A35.3 35.3 0 0 1 578.9 510.2M575.6 508.1L579.0 510.0M575.7 507.8A31.3 31.3 0 0 1 575.6 508.1M572.6 506.2L575.6 507.9M573.2 505.2A27.8 27.8 0 0 1 572.6 506.2M570.0 504.2L572.9 505.7M571.5 506.2L577.4 509.6M575.6 509.1L579.1 511.2M575.6 509.1A31.9 31.9 0 0 1 575.5 509.3M574.0 508.3L575.6 509.2M574.2 508.0A30.1 30.1 0 0 1 574.0 508.3M572.8 507.4L574.1 508.1M572.8 507.4A28.6 28.6 0 0 1 572.5 507.9M571.2 506.7L572.7 507.6M571.5 506.2A26.9 26.9 0 0 1 571.2 506.7M569.9 505.6L571.4 506.5M571.6 507.9L574.0 509.5M578.0 512.5A35.7 35.7 0 0 1 577.8 512.8M576.5 511.7L577.9 512.6M579.2 513.9A37.5 37.5 0 0 1 579.1 514.2M577.1 512.6L579.1 514.0M577.1 512.6A35.0 35.0 0 0 1 576.9 512.9M576.2 512.2L577.0 512.8M576.5 511.7A34.0 34.0 0 0 1 576.2 512.2M574.6 510.8L576.3 511.9M574.6 510.8A31.9 31.9 0 0 1 574.3 511.2M571.1 508.6L574.5 511.0M571.6 507.9A27.8 27.8 0 0 1 571.1 508.6M569.6 507.1L571.3 508.3M572.4 510.1A29.7 29.7 0 0 1 571.9 510.7M569.3 508.2L572.1 510.4M575.0 513.9A34.1 34.1 0 0 1 574.9 514.1M574.0 513.3L574.9 514.0M574.2 513.1A33.0 33.0 0 0 1 574.0 513.3M572.7 512.1L574.1 513.2M572.4 512.5L576.0 515.4M572.7 512.1A31.2 31.2 0 0 1 572.4 512.5M568.9 509.3L572.6 512.3M575.3 515.9L578.6 518.7M575.6 515.5A35.6 35.6 0 0 1 575.3 515.9M572.5 513.2L575.5 515.7M575.9 517.5L579.6 520.8M575.9 517.5A37.1 37.1 0 0 1 575.7 517.8M573.8 515.8L575.8 517.6M574.1 515.4A34.4 34.4 0 0 1 573.8 515.8M572.0 513.8L573.9 515.6M572.5 513.2A31.7 31.7 0 0 1 572.0 513.8M568.6 510.3L572.2 513.5M576.1 520.3A39.2 39.2 0 0 1 576.0 520.5M573.2 517.6L576.1 520.4M573.2 517.6A35.2 35.2 0 0 1 573.0 517.8M571.5 516.1L573.1 517.7M571.3 516.3L571.7 516.7M571.5 516.1A32.9 32.9 0 0 1 571.3 516.3M570.8 515.6L571.4 516.2M571.5 514.9A32.1 32.1 0 0 1 570.8 515.6M567.8 511.9L571.1 515.2M575.6 522.0L576.5 522.9M575.6 522.0A40.0 40.0 0 0 1 575.4 522.2M573.0 519.3L575.5 522.1M573.4 518.9A36.3 36.3 0 0 1 573.0 519.3M572.6 518.5L573.2 519.1M573.4 520.6A37.6 37.6 0 0 1 573.2 520.8M571.9 519.1L573.3 520.7M572.6 518.5A35.4 35.4 0 0 1 571.9 519.1M570.2 516.6L572.2 518.8M570.2 516.6A32.4 32.4 0 0 1 569.7 517.1M566.8 513.4L570.0 516.8M568.2 515.7L569.6 517.3M568.2 515.7A30.4 30.4 0 0 1 567.7 516.2M566.4 514.1L567.9 515.9M568.7 518.3L570.1 520.0M573.4 524.8L575.3 527.3M573.4 524.8A40.7 40.7 0 0 1 573.1 525.0M571.3 522.4L573.3 524.9M571.3 522.4A37.6 37.6 0 0 1 571.0 522.7M568.2 518.7L571.2 522.6M568.7 518.3A32.8 32.8 0 0 1 568.2 518.7M567.9 517.8L568.5 518.5M567.9 517.8A31.9 31.9 0 0 1 567.4 518.2M565.5 515.2L567.6 518.0M571.7 526.2L573.5 528.9M572.3 525.8A40.9 40.9 0 0 1 571.7 526.2M570.8 524.4L572.0 526.0M571.3 524.0A38.9 38.9 0 0 1 570.8 524.4M570.5 523.5L571.0 524.2M570.5 523.5A38.0 38.0 0 0 1 569.4 524.3M569.0 522.5L570.0 523.9M568.4 523.0L568.8 523.5M569.0 522.5A36.3 36.3 0 0 1 568.4 523.0M568.1 521.9L568.7 522.7M568.1 521.9A35.3 35.3 0 0 1 567.7 522.2M566.4 519.9L567.9 522.1M567.7 518.9A32.6 32.6 0 0 1 566.4 519.9M564.8 516.1L567.1 519.4M569.7 526.5L570.9 528.4M569.7 526.5A40.0 40.0 0 0 1 569.4 526.7M568.8 525.4L569.6 526.6M568.8 525.4A38.6 38.6 0 0 1 568.5 525.6M567.6 523.8L568.7 525.5M568.1 523.5A36.6 36.6 0 0 1 567.6 523.8M565.7 520.2L567.9 523.6M566.2 522.2A34.4 34.4 0 0 1 565.9 522.3M565.0 520.6L566.0 522.2M565.7 520.2A32.5 32.5 0 0 1 565.0 520.6M563.5 517.4L565.4 520.4M566.4 523.3L566.4 523.4M567.5 525.7A38.2 38.2 0 0 1 567.3 525.9M566.0 523.5L567.4 525.8M566.4 523.3A35.5 35.5 0 0 1 566.0 523.5M564.1 519.7L566.2 523.4M566.9 526.3L567.9 528.2M566.5 526.5L567.3 528.0M566.9 526.3A38.4 38.4 0 0 1 566.5 526.5M565.6 524.5L566.7 526.4M566.1 524.2A36.2 36.2 0 0 1 565.6 524.5M563.5 520.1L565.9 524.3M564.1 519.7A31.3 31.3 0 0 1 563.5 520.1M562.8 518.1L563.8 519.9M562.8 520.1L564.5 523.3M567.1 530.3A42.0 42.0 0 0 1 566.8 530.4M566.5 529.4L566.9 530.3M566.8 529.3A41.0 41.0 0 0 1 566.5 529.4M566.0 528.0L566.6 529.4M566.3 527.9A39.5 39.5 0 0 1 566.0 528.0M564.5 524.7L566.2 528.0M564.9 524.5A35.9 35.9 0 0 1 564.5 524.7M562.5 520.3L564.7 524.6M562.8 520.1A31.1 31.1 0 0 1 562.5 520.3M561.9 518.9L562.7 520.2M562.3 521.9L563.0 523.3M563.7 525.8L564.4 527.4M563.7 525.8A36.5 36.5 0 0 1 563.4 525.9M561.8 522.1L563.6 525.8M562.3 521.9A32.3 32.3 0 0 1 561.8 522.1M560.9 519.6L562.1 522.0M565.5 531.0A42.0 42.0 0 0 1 565.1 531.2M564.4 529.0L565.3 531.1M564.4 529.0A39.7 39.7 0 0 1 563.9 529.2M563.3 527.1L564.2 529.1M563.9 529.7A40.2 40.2 0 0 1 563.6 529.8M562.8 527.4L563.8 529.8M563.3 527.1A37.6 37.6 0 0 1 562.8 527.4M561.4 523.4L563.0 527.2M561.4 523.4A33.3 33.3 0 0 1 560.9 523.6M559.8 520.3L561.1 523.5M564.1 532.1A42.5 42.5 0 0 1 563.8 532.2M563.2 530.2L564.0 532.2M563.1 533.1L564.8 537.7M563.8 532.9A43.1 43.1 0 0 1 563.1 533.1M562.5 530.5L563.5 533.0M563.2 530.2A40.4 40.4 0 0 1 562.5 530.5M561.9 527.9L562.9 530.4M561.9 527.9A37.8 37.8 0 0 1 560.4 528.5M559.7 524.1L561.2 528.2M558.9 526.3L559.2 527.3M559.1 526.2A35.2 35.2 0 0 1 558.9 526.3M558.5 524.5L559.0 526.2M559.7 524.1A33.4 33.4 0 0 1 558.5 524.5M558.0 521.3L559.1 524.3M556.6 522.1L557.4 524.9M554.9 522.8L555.7 526.6M553.4 523.4L554.1 527.4M554.0 531.6A39.3 39.3 0 0 1 553.4 531.6M553.5 529.9L553.7 531.6M552.8 530.0L552.8 530.0M553.5 529.9A37.5 37.5 0 0 1 552.8 530.0M552.7 526.2L553.2 529.9M552.2 529.7L552.4 531.6M552.6 529.6A37.2 37.2 0 0 1 552.2 529.7M552.0 526.3L552.4 529.7M552.7 526.2A33.8 33.8 0 0 1 552.0 526.3M552.1 523.9L552.4 526.2M551.4 533.8L551.7 538.8M551.4 533.8A41.3 41.3 0 0 1 550.8 533.9M551.0 532.1L551.1 533.9M551.9 532.1A39.5 39.5 0 0 1 551.0 532.1M551.2 528.7L551.4 532.1M551.9 528.6A36.1 36.1 0 0 1 551.2 528.7M551.1 524.4L551.5 528.6M550.4 529.8L550.6 533.4M550.4 529.8A37.2 37.2 0 0 1 550.0 529.8M550.1 527.7L550.2 529.8M549.6 527.8L549.8 533.1M550.1 527.7A35.1 35.1 0 0 1 549.6 527.8M549.7 524.9L549.9 527.7M549.4 531.3L549.5 534.7M548.4 534.5L548.4 539.4M549.2 534.5A41.8 41.8 0 0 1 548.4 534.5M548.7 531.3L548.8 534.5M549.4 531.3A38.6 38.6 0 0 1 548.7 531.3M549.0 527.2L549.1 531.3M547.6 527.2L547.6 528.6M549.0 527.2A34.5 34.5 0 0 1 547.6 527.2M548.3 525.5L548.3 527.2M546.7 533.3L546.6 534.9M547.0 533.4A40.7 40.7 0 0 1 546.7 533.3M546.9 532.3L546.8 533.4M546.9 532.3A39.6 39.6 0 0 1 546.4 532.3M546.8 528.4L546.6 532.3M547.4 528.4A35.7 35.7 0 0 1 546.8 528.4M547.2 526.0L547.1 528.4M545.5 538.6L545.5 539.7M545.5 538.6A46.0 46.0 0 0 1 545.0 538.6M545.6 534.0L545.3 538.6M544.8 537.4A44.8 44.8 0 0 1 544.5 537.3M544.9 534.0L544.6 537.3M545.6 534.0A41.4 41.4 0 0 1 544.9 534.0M545.6 529.7L545.2 534.0M545.0 529.6L544.6 533.8M545.6 529.7A37.1 37.1 0 0 1 545.0 529.6M545.6 526.4L545.3 529.6M544.9 526.7L544.5 530.8M544.1 530.2L543.6 534.6M543.0 537.0A44.6 44.6 0 0 1 542.7 536.9M543.1 535.6L542.9 537.0M542.5 535.6L541.9 540.2M543.1 535.6A43.3 43.3 0 0 1 542.5 535.6M543.3 531.9L542.8 535.6M542.7 531.8L542.7 531.9M543.3 531.9A39.5 39.5 0 0 1 542.7 531.8M543.2 530.1L543.0 531.9M544.1 530.2A37.8 37.8 0 0 1 543.2 530.1M544.1 526.9L543.7 530.2M541.5 532.9A40.8 40.8 0 0 1 540.9 532.8M541.4 532.0L541.2 532.9M542.5 532.1A39.9 39.9 0 0 1 541.4 532.0M542.2 530.0L541.9 532.1M542.2 530.0A37.8 37.8 0 0 1 541.2 529.8M541.9 529.0L541.7 529.9M541.9 529.0A36.8 36.8 0 0 1 541.2 528.9M541.9 527.2L541.5 528.9M541.2 527.4L540.4 531.4M540.2 530.0L539.2 535.0M538.7 534.9A43.2 43.2 0 0 1 538.0 534.7M539.2 531.0L538.3 534.8M539.8 531.1A39.3 39.3 0 0 1 539.2 531.0M539.8 529.9L539.5 531.0M540.2 530.0A38.2 38.2 0 0 1 539.8 529.9M540.5 527.7L540.0 529.9M534.6 539.1L533.7 542.3M535.0 539.2A48.4 48.4 0 0 1 534.6 539.1M535.8 535.8L534.8 539.2M535.8 535.8A44.9 44.9 0 0 1 534.9 535.5M535.7 534.5L535.4 535.6M536.7 534.8A43.6 43.6 0 0 1 535.7 534.5M536.7 532.8L536.2 534.6M537.4 532.9A41.7 41.7 0 0 1 536.7 532.8M538.4 528.1L537.0 532.9M533.3 538.1L532.2 541.4M533.6 538.2A47.8 47.8 0 0 1 533.3 538.1M534.9 533.7L533.4 538.1M534.9 533.7A43.2 43.2 0 0 1 534.3 533.5M535.0 532.4L534.6 533.6M533.1 536.0A45.9 45.9 0 0 1 532.8 535.9M534.3 532.2L532.9 535.9M535.0 532.4A41.9 41.9 0 0 1 534.3 532.2M536.0 528.2L534.6 532.3M529.7 538.3L528.1 542.2M530.9 538.8A49.2 49.2 0 0 1 529.7 538.3M531.9 534.5L530.3 538.5M532.8 534.8A44.9 44.9 0 0 1 531.9 534.5M533.9 530.6L532.4 534.7M533.9 530.6A40.5 40.5 0 0 1 532.3 529.9M533.9 528.4L533.1 530.3M527.5 538.8L525.7 542.8M528.2 539.1A50.6 50.6 0 0 1 527.5 538.8M529.8 534.5L527.8 539.0M527.6 537.1A49.0 49.0 0 0 1 527.2 536.9M528.8 534.0L527.4 537.0M529.8 534.5A45.7 45.7 0 0 1 528.8 534.0M530.1 532.4L529.3 534.3M530.1 532.4A43.7 43.7 0 0 1 529.3 532.0M531.5 528.4L529.7 532.2M527.0 535.4A47.8 47.8 0 0 1 526.2 535.0M527.5 533.5L526.6 535.2M528.1 533.8A45.8 45.8 0 0 1 527.5 533.5M528.9 531.4L527.8 533.6M522.8 539.0A52.8 52.8 0 0 1 522.5 538.8M523.5 537.3L522.7 538.9M523.9 537.5A51.0 51.0 0 0 1 523.5 537.3M524.8 535.3L523.7 537.4M522.0 539.3A53.5 53.5 0 0 1 521.7 539.1M524.2 535.0L521.9 539.2M524.8 535.3A48.7 48.7 0 0 1 524.2 535.0M525.4 533.7L524.5 535.2M526.1 534.2A47.0 47.0 0 0 1 525.4 533.7M527.5 530.6L525.7 533.9M528.9 531.4A43.2 43.2 0 0 1 527.5 530.6M529.5 528.6L528.2 531.0M524.4 533.9A47.6 47.6 0 0 1 524.2 533.7M525.3 532.0L524.3 533.8M525.3 532.0A45.5 45.5 0 0 1 524.7 531.6M527.1 528.3L525.0 531.8M525.0 528.0L522.7 531.4M523.2 527.7L522.0 529.3M522.0 527.3L520.9 528.8M515.4 533.7A52.6 52.6 0 0 1 514.8 533.2M516.7 531.4L515.1 533.5M517.2 531.8A50.0 50.0 0 0 1 516.7 531.4M519.2 528.8L517.0 531.6M519.7 529.2A46.4 46.4 0 0 1 519.2 528.8M520.9 527.1L519.4 529.0M516.3 530.1A49.2 49.2 0 0 1 515.9 529.7M517.5 528.3L516.1 529.9M510.4 535.1A56.9 56.9 0 0 1 510.2 534.9M513.6 531.3L510.3 535.0M513.6 531.3A51.9 51.9 0 0 1 513.2 531.0M514.3 530.1L513.4 531.1M513.9 529.8L512.8 531.0M514.3 530.1A50.6 50.6 0 0 1 513.9 529.8M515.1 528.9L514.1 530.0M515.7 529.4A49.1 49.1 0 0 1 515.1 528.9M516.8 527.7L515.4 529.2M517.5 528.3A47.1 47.1 0 0 1 516.8 527.7M518.9 526.0L517.1 528.0M509.3 532.7L506.9 535.2M509.9 533.2A55.8 55.8 0 0 1 509.3 532.7M512.8 529.6L509.6 533.0M513.3 530.0A51.2 51.2 0 0 1 512.8 529.6M516.1 526.6L513.0 529.8M508.0 532.2A56.4 56.4 0 0 1 507.8 532.0M508.6 531.5L507.9 532.1M509.0 531.9A55.5 55.5 0 0 1 508.6 531.5M510.8 529.6L508.8 531.7M511.2 530.0A52.6 52.6 0 0 1 510.8 529.6M512.1 528.7L511.0 529.8M507.8 530.9L504.6 533.9M508.2 531.2A55.6 55.6 0 0 1 507.8 530.9M511.3 527.9L508.0 531.0M512.1 528.7A51.1 51.1 0 0 1 511.3 527.9M514.8 525.3L511.7 528.3M516.1 526.6A46.8 46.8 0 0 1 514.8 525.3M516.7 524.6L515.4 526.0M513.0 525.5L508.8 529.4M506.0 531.5A57.4 57.4 0 0 1 505.7 531.2M508.1 529.3L505.8 531.3M505.1 530.6L503.3 532.2M505.5 531.0A57.5 57.5 0 0 1 505.1 530.6M506.7 529.6L505.3 530.8M506.7 529.6A55.5 55.5 0 0 1 506.3 529.0M507.4 528.5L506.5 529.3M508.1 529.3A54.4 54.4 0 0 1 507.4 528.5M509.4 527.4L507.7 528.9M509.4 527.4A52.1 52.1 0 0 1 508.6 526.4M511.9 524.3L509.0 526.9M513.0 525.5A48.2 48.2 0 0 1 511.9 524.3M514.5 523.1L512.5 524.9M505.3 527.9L503.0 529.8M505.7 528.3A55.6 55.6 0 0 1 505.3 527.9M508.7 525.5L505.5 528.1M508.3 525.0L506.8 526.2M508.7 525.5A51.4 51.4 0 0 1 508.3 525.0M509.7 524.3L508.5 525.2M504.6 525.4L500.7 528.3M505.7 526.7A54.6 54.6 0 0 1 504.6 525.4M508.8 523.2L505.1 526.1M509.7 524.3A49.9 49.9 0 0 1 508.8 523.2M512.3 521.3L509.3 523.7M503.2 525.1A55.6 55.6 0 0 1 503.0 524.9M507.1 522.1L503.1 525.0M504.0 523.8A54.1 54.1 0 0 1 503.8 523.6M506.8 521.7L503.9 523.7M507.1 522.1A50.6 50.6 0 0 1 506.8 521.7M508.1 521.1L507.0 521.9M502.8 523.4A54.9 54.9 0 0 1 502.7 523.2M503.8 522.6L502.7 523.3M504.0 523.0A53.6 53.6 0 0 1 503.8 522.6M507.5 520.3L503.9 522.8M508.1 521.1A49.2 49.2 0 0 1 507.5 520.3M510.1 519.1L507.8 520.7M502.1 523.1A55.3 55.3 0 0 1 501.9 522.9M505.7 520.6L502.0 523.0M502.1 521.8L501.5 522.1M502.3 522.0A54.5 54.5 0 0 1 502.1 521.8M503.6 521.0L502.2 521.9M503.9 521.4A52.9 52.9 0 0 1 503.6 521.0M505.4 520.1L503.7 521.2M505.7 520.6A51.0 51.0 0 0 1 505.4 520.1M509.1 518.1L505.5 520.4M498.3 522.2L494.7 524.3M498.7 522.8A58.0 58.0 0 0 1 498.3 522.2M502.8 519.9L498.5 522.5M498.4 521.2L497.2 521.9M498.4 521.2A57.5 57.5 0 0 1 498.2 520.9M501.4 519.3L498.3 521.1M496.7 520.6L495.1 521.5M496.9 521.1A58.7 58.7 0 0 1 496.7 520.6M501.0 518.6L496.8 520.9M501.4 519.3A53.9 53.9 0 0 1 501.0 518.6M502.0 518.5L501.2 518.9M502.8 519.9A53.1 53.1 0 0 1 502.0 518.5M503.4 518.6L502.4 519.2M502.4 516.8L499.5 518.3M503.4 518.6A51.8 51.8 0 0 1 502.4 516.8M505.0 516.5L502.9 517.7M506.2 518.6A49.4 49.4 0 0 1 505.0 516.5M507.5 516.5L505.6 517.6M501.4 516.8L498.0 518.5M495.3 518.6L493.7 519.3M495.6 519.2A58.9 58.9 0 0 1 495.3 518.6M499.8 516.8L495.5 518.9M499.8 516.8A54.2 54.2 0 0 1 499.0 515.1M500.7 515.3L499.4 515.9M501.4 516.8A52.7 52.7 0 0 1 500.7 515.3M505.5 513.9L501.1 516.1M496.9 515.1L496.6 515.2M498.0 514.7L497.0 515.2M495.6 515.2A57.3 57.3 0 0 1 495.5 515.0M497.8 514.2L495.6 515.1M498.0 514.7A54.9 54.9 0 0 1 497.8 514.2M502.3 512.6L497.9 514.5M498.5 513.4L496.4 514.3M493.2 515.3A59.5 59.5 0 0 1 493.1 514.9M493.9 514.8L493.1 515.1M493.9 514.8A58.7 58.7 0 0 1 493.7 514.3M498.2 512.8L493.8 514.6M498.5 513.4A54.0 54.0 0 0 1 498.2 512.8M499.2 512.8L498.3 513.1M492.7 513.9L489.8 515.0M492.9 514.3A59.4 59.4 0 0 1 492.7 513.9M495.9 512.9L492.8 514.1M495.9 512.9A56.1 56.1 0 0 1 495.7 512.2M498.7 511.5L495.8 512.6M499.2 512.8A53.1 53.1 0 0 1 498.7 511.5M501.6 511.1L498.9 512.1M502.3 512.6A50.1 50.1 0 0 1 501.6 511.1M503.7 511.1L501.9 511.8M491.9 512.5L489.2 513.4M491.9 512.5A59.7 59.7 0 0 1 491.4 510.9M495.3 510.5L491.7 511.7M495.3 510.5A55.9 55.9 0 0 1 495.0 509.5M497.3 509.3L495.1 510.0M497.9 511.1A53.6 53.6 0 0 1 497.3 509.3M502.2 508.6L497.6 510.2M495.4 509.0L494.2 509.4M495.4 509.0A55.4 55.4 0 0 1 495.3 508.8M498.5 507.9L495.4 508.9M498.5 507.9A52.0 52.0 0 0 1 498.4 507.4M499.6 507.3L498.5 507.7M499.4 506.8L499.0 507.0M499.6 507.3A50.9 50.9 0 0 1 499.4 506.8M501.2 506.6L499.5 507.1M493.7 508.2A56.7 56.7 0 0 1 493.7 507.9M498.0 506.9L493.7 508.1M489.5 506.9A60.5 60.5 0 0 1 489.4 506.3M491.3 506.2L489.4 506.6M491.7 507.8A58.5 58.5 0 0 1 491.3 506.2M493.7 506.4L491.5 507.0M493.7 506.4A56.3 56.3 0 0 1 493.4 505.1M496.4 505.1L493.5 505.7M496.8 506.7A53.3 53.3 0 0 1 496.4 505.1M497.6 505.6L496.6 505.9M498.0 506.9A52.3 52.3 0 0 1 497.6 505.6M500.0 505.7L497.8 506.3M489.1 504.9L484.3 505.9M488.8 503.3L484.1 504.2M489.1 504.9A60.4 60.4 0 0 1 488.8 503.3M492.2 503.5L489.0 504.1M492.2 503.5A57.2 57.2 0 0 1 491.9 502.0M492.9 502.6L492.0 502.8M490.4 502.0A58.7 58.7 0 0 1 490.3 501.6M492.7 501.4L490.3 501.8M492.9 502.6A56.2 56.2 0 0 1 492.7 501.4M497.7 501.2L492.8 502.0M492.8 500.9A56.1 56.1 0 0 1 492.8 500.6M496.7 500.2L492.8 500.8M487.5 500.4A61.3 61.3 0 0 1 487.4 500.0M490.8 499.8L487.5 500.2M483.4 500.1A65.3 65.3 0 0 1 483.4 499.7M485.7 499.7L483.4 499.9M483.9 498.8L482.7 498.9M483.9 499.3A64.7 64.7 0 0 1 483.9 498.8M485.6 498.9L483.9 499.1M485.7 499.7A63.0 63.0 0 0 1 485.6 498.9M486.5 499.2L485.6 499.3M486.5 499.2A62.1 62.1 0 0 1 486.4 498.0M489.6 498.3L486.4 498.6M489.6 498.3A58.9 58.9 0 0 1 489.5 497.2M490.6 497.7L489.6 497.7M490.8 499.8A57.9 57.9 0 0 1 490.6 497.7M492.2 498.6L490.7 498.7M492.3 500.2A56.5 56.5 0 0 1 492.2 498.6M495.7 499.0L492.2 499.4M481.0 496.1L477.9 496.3M481.0 497.0A67.4 67.4 0 0 1 481.0 496.1M484.9 496.3L481.0 496.5M485.0 497.0A63.5 63.5 0 0 1 484.9 496.3M489.4 496.4L485.0 496.7M486.5 495.4A61.8 61.8 0 0 1 486.5 494.9M489.3 495.0L486.5 495.1M489.4 496.4A59.0 59.0 0 0 1 489.3 495.0M493.5 495.5L489.3 495.7M485.9 494.5L484.3 494.6M489.9 494.3L485.9 494.4M480.1 494.0A68.2 68.2 0 0 1 480.1 493.6M481.8 493.8L480.1 493.8M481.8 493.8A66.5 66.5 0 0 1 481.8 493.3M485.5 493.5L481.8 493.5M485.5 493.5A62.8 62.8 0 0 1 485.5 492.9M489.9 493.2L485.5 493.2M489.9 494.3A58.4 58.4 0 0 1 489.9 493.2M492.1 493.7L489.9 493.8M481.6 492.6A66.7 66.7 0 0 1 481.6 492.1M483.3 492.4L481.6 492.4M483.3 492.4A65.0 65.0 0 0 1 483.3 491.5M487.2 492.0L483.3 491.9M487.2 490.8L483.6 490.7M487.2 492.0A61.1 61.1 0 0 1 487.2 490.8M490.9 491.5L487.2 491.4M479.4 488.1L474.6 487.8M479.3 488.6A69.1 69.1 0 0 1 479.4 488.1M479.9 488.4L479.3 488.3M479.9 488.4A68.5 68.5 0 0 1 480.0 487.6M481.9 488.1L480.0 488.0M481.8 489.2A66.6 66.6 0 0 1 481.9 488.1M482.3 488.7L481.9 488.6M482.4 487.5L479.9 487.3M482.3 488.7A66.2 66.2 0 0 1 482.4 487.5M482.6 489.5A65.8 65.8 0 0 1 482.7 488.1M483.1 488.8L482.7 488.8M483.0 489.9A65.4 65.4 0 0 1 483.1 488.8M483.4 489.4L483.0 489.4M478.6 486.6A69.9 69.9 0 0 1 478.7 486.3M481.7 486.8L478.6 486.5M481.7 486.8A66.9 66.9 0 0 1 481.8 486.1M483.6 486.6L481.7 486.4M483.4 489.4A65.0 65.0 0 0 1 483.6 486.6M483.9 488.0L483.5 488.0M483.8 490.3A64.6 64.6 0 0 1 483.9 488.0M484.3 489.2L483.8 489.2M479.8 485.6A68.9 68.9 0 0 1 479.8 485.2M484.5 485.9L479.8 485.4M484.3 489.2A64.1 64.1 0 0 1 484.5 485.9M489.0 487.9L484.4 487.6M485.3 485.5L481.3 485.0M485.3 485.5A63.4 63.4 0 0 1 485.3 485.1M487.4 485.5L485.3 485.3M474.4 482.7A74.6 74.6 0 0 1 474.4 482.2M477.9 482.9L474.4 482.4M477.9 482.9A71.1 71.1 0 0 1 478.0 482.2M482.6 483.3L477.9 482.6M482.5 484.0A66.3 66.3 0 0 1 482.6 483.3M484.1 483.8L482.6 483.6M484.0 484.6A64.8 64.8 0 0 1 484.1 483.8M486.6 484.5L484.0 484.2M477.7 481.4A71.5 71.5 0 0 1 477.8 481.1M474.0 479.2A75.5 75.5 0 0 1 474.1 478.7M474.4 479.1L474.0 479.0M474.3 479.7A75.1 75.1 0 0 1 474.4 479.1M474.8 479.5L474.4 479.4M474.6 480.2A74.7 74.7 0 0 1 474.8 479.5M478.3 480.4L474.7 479.8M478.1 481.3A71.1 71.1 0 0 1 478.3 480.4M478.6 480.9L478.2 480.9M478.6 480.9A70.7 70.7 0 0 1 478.9 479.3M481.8 480.6L478.7 480.1M481.5 482.4A67.6 67.6 0 0 1 481.8 480.6M485.3 482.1L481.6 481.5M476.1 477.0A73.9 73.9 0 0 1 476.2 476.6M478.7 477.4L476.1 476.8M478.6 478.1A71.2 71.2 0 0 1 478.7 477.4M480.7 478.2L478.7 477.7M480.6 478.7A69.1 69.1 0 0 1 480.7 478.2M481.1 478.5L480.7 478.4M481.1 478.5A68.7 68.7 0 0 1 481.3 477.3M481.6 478.0L481.2 477.9M481.3 479.4A68.3 68.3 0 0 1 481.6 478.0M481.8 478.8L481.4 478.7M481.8 478.8A67.9 67.9 0 0 1 482.2 477.2M484.1 478.5L482.0 478.0M479.8 476.1L476.2 475.3M479.8 476.1A70.5 70.5 0 0 1 479.8 475.8M483.2 476.8L479.8 476.0M475.0 473.9A75.7 75.7 0 0 1 475.1 473.4M475.5 473.7L475.1 473.6M473.7 472.6A77.3 77.3 0 0 1 473.8 472.2M475.7 472.9L473.7 472.4M475.5 473.7A75.3 75.3 0 0 1 475.7 472.9M478.8 474.2L475.6 473.3M478.6 475.1A71.9 71.9 0 0 1 478.8 474.2M479.1 474.8L478.7 474.7M479.1 474.8A71.5 71.5 0 0 1 479.5 473.3M482.7 474.9L479.3 474.0M476.5 471.7L476.5 471.7M476.4 472.1A74.8 74.8 0 0 1 476.5 471.7M477.7 472.2L476.5 471.9M473.6 470.2A78.1 78.1 0 0 1 473.7 469.8M474.0 470.1L473.6 470.0M470.5 468.5A81.4 81.4 0 0 1 470.7 467.9M474.2 469.3L470.6 468.2M474.0 470.1A77.7 77.7 0 0 1 474.2 469.3M474.5 469.8L474.1 469.7M474.5 469.8A77.3 77.3 0 0 1 474.8 468.9M478.3 470.5L474.6 469.4M477.7 472.2A73.5 73.5 0 0 1 478.3 470.5M481.9 472.6L478.0 471.4M473.2 467.4A79.2 79.2 0 0 1 473.4 466.9M474.5 467.6L473.3 467.2M474.3 468.2A77.9 77.9 0 0 1 474.5 467.6M476.5 468.6L474.4 467.9M475.8 467.0A76.9 76.9 0 0 1 476.0 466.5M476.3 466.9L475.9 466.7M476.2 466.1A76.9 76.9 0 0 1 476.3 465.7M476.6 466.1L476.2 465.9M476.3 466.9A76.5 76.5 0 0 1 476.6 466.1M476.8 466.6L476.4 466.5M476.5 467.6A76.1 76.1 0 0 1 476.8 466.6M477.0 467.2L476.6 467.1M476.5 468.6A75.7 75.7 0 0 1 477.0 467.2M481.1 469.4L476.8 467.9" fill="none" stroke="#222" stroke-width="0.45"/>
<path d="M548.3 492.7L567.2 490.7M567.0 489.4A19.0 19.0 0 0 1 567.3 493.4M568.5 492.7A20.2 20.2 0 0 1 568.4 493.6M567.3 492.7L568.5 492.7M568.4 493.6A20.2 20.2 0 0 1 568.4 494.0M568.4 494.0L568.7 494.1M568.7 494.1A20.5 20.5 0 0 1 568.7 494.6M568.7 494.6L569.1 494.6M569.1 494.6A20.9 20.9 0 0 1 569.0 495.1M569.0 495.1L569.3 495.1M569.3 495.1A21.1 21.1 0 0 1 569.2 495.5M569.2 495.5L569.4 495.5M569.4 495.5A21.3 21.3 0 0 1 569.2 496.6M569.2 496.6L569.6 496.7M569.6 496.7A21.7 21.7 0 0 1 569.4 497.6M569.4 497.6L569.8 497.7M569.8 497.7A22.1 22.1 0 0 1 569.6 498.5M569.6 498.5L570.1 498.6M570.1 498.6A22.6 22.6 0 0 1 569.5 500.4M569.5 500.4L570.1 500.6M570.1 500.6A23.2 23.2 0 0 1 569.5 502.3M569.5 502.3L570.0 502.5M570.0 502.5A23.8 23.8 0 0 1 569.4 503.9M569.4 503.9L570.0 504.2M570.0 504.2A24.5 24.5 0 0 1 569.4 505.3M569.4 505.3L569.9 505.6M569.9 505.6A25.2 25.2 0 0 1 569.2 506.8M569.2 506.8L569.6 507.1M569.6 507.1A25.6 25.6 0 0 1 568.9 508.0M568.9 508.0L569.3 508.2M569.3 508.2A26.1 26.1 0 0 1 568.6 509.1M568.6 509.1L568.9 509.3M568.9 509.3A26.4 26.4 0 0 1 568.3 510.0M568.3 510.0L568.6 510.3M568.6 510.3A26.8 26.8 0 0 1 567.4 511.6M567.4 511.6L567.8 511.9M567.8 511.9A27.4 27.4 0 0 1 566.6 513.1M566.6 513.1L566.8 513.4M566.8 513.4A27.8 27.8 0 0 1 566.2 513.9M566.2 513.9L566.4 514.1M566.4 514.1A28.1 28.1 0 0 1 565.3 515.0M565.3 515.0L565.5 515.2M565.5 515.2A28.3 28.3 0 0 1 564.6 515.8M564.6 515.8L564.8 516.1M564.8 516.1A28.6 28.6 0 0 1 563.3 517.1M563.3 517.1L563.5 517.4M563.5 517.4A29.0 29.0 0 0 1 562.6 517.9M562.6 517.9L562.8 518.1M562.8 518.1A29.2 29.2 0 0 1 561.8 518.6M561.8 518.6L561.9 518.9M561.9 518.9A29.5 29.5 0 0 1 560.8 519.4M560.8 519.4L560.9 519.6M560.9 519.6A29.7 29.7 0 0 1 559.7 520.1M559.7 520.1L559.8 520.3M559.8 520.3A29.9 29.9 0 0 1 557.9 521.0M557.9 521.0L558.0 521.3M558.0 521.3A30.2 30.2 0 0 1 557.2 521.5M557.2 521.5L557.3 521.8M557.3 521.8A30.4 30.4 0 0 1 556.5 522.0M556.5 522.0L556.6 522.1M556.6 522.1A30.6 30.6 0 0 1 554.9 522.6M554.9 522.6L554.9 522.8M554.9 522.8A30.8 30.8 0 0 1 553.4 523.1M553.4 523.1L553.4 523.4M553.4 523.4A31.1 31.1 0 0 1 552.9 523.5M552.9 523.5L553.0 523.6M553.0 523.6A31.3 31.3 0 0 1 552.0 523.7M552.0 523.7L552.1 523.9M552.1 523.9A31.4 31.4 0 0 1 551.1 524.0M551.1 524.0L551.1 524.4M551.1 524.4A31.8 31.8 0 0 1 549.7 524.5M549.7 524.5L549.7 524.9M549.7 524.9A32.2 32.2 0 0 1 548.3 524.9M548.3 524.9L548.3 525.5M548.3 525.5A32.8 32.8 0 0 1 547.2 525.5M547.2 525.5L547.2 526.0M547.2 526.0A33.3 33.3 0 0 1 545.6 525.9M545.6 525.9L545.6 526.4M545.6 526.4A33.8 33.8 0 0 1 545.0 526.3M545.0 526.3L544.9 526.7M544.9 526.7A34.1 34.1 0 0 1 544.1 526.6M544.1 526.6L544.1 526.9M544.1 526.9A34.5 34.5 0 0 1 542.0 526.6M542.0 526.6L541.9 527.2M541.9 527.2A35.1 35.1 0 0 1 541.2 527.0M541.2 527.0L541.2 527.4M541.2 527.4A35.5 35.5 0 0 1 540.6 527.3M540.6 527.3L540.5 527.7M540.5 527.7A35.9 35.9 0 0 1 538.6 527.3M538.6 527.3L538.4 528.1M538.4 528.1A36.8 36.8 0 0 1 536.3 527.4M536.3 527.4L536.0 528.2M536.0 528.2A37.6 37.6 0 0 1 534.2 527.5M534.2 527.5L533.9 528.4M533.9 528.4A38.5 38.5 0 0 1 531.9 527.5M531.9 527.5L531.5 528.4M531.5 528.4A39.4 39.4 0 0 1 530.0 527.6M530.0 527.6L529.5 528.6M529.5 528.6A40.5 40.5 0 0 1 527.6 527.5M527.6 527.5L527.1 528.3M527.1 528.3A41.4 41.4 0 0 1 525.5 527.3M525.5 527.3L525.0 528.0M525.0 528.0A42.3 42.3 0 0 1 523.7 527.1M523.7 527.1L523.2 527.7M523.2 527.7A43.0 43.0 0 0 1 522.2 527.0M522.2 527.0L522.0 527.3M522.0 527.3A43.5 43.5 0 0 1 521.3 526.7M521.3 526.7L520.9 527.1M520.9 527.1A44.0 44.0 0 0 1 519.2 525.7M519.2 525.7L518.9 526.0M518.9 526.0A44.4 44.4 0 0 1 517.1 524.3M517.1 524.3L516.7 524.6M516.7 524.6A44.9 44.9 0 0 1 514.9 522.7M514.9 522.7L514.5 523.1M514.5 523.1A45.4 45.4 0 0 1 512.7 521.0M512.7 521.0L512.3 521.3M512.3 521.3A46.0 46.0 0 0 1 510.5 518.9M510.5 518.9L510.1 519.1M510.1 519.1A46.5 46.5 0 0 1 509.3 517.9M509.3 517.9L509.1 518.1M509.1 518.1A46.7 46.7 0 0 1 507.9 516.2M507.9 516.2L507.5 516.5M507.5 516.5A47.2 47.2 0 0 1 506.0 513.6M506.0 513.6L505.5 513.9M505.5 513.9A47.7 47.7 0 0 1 504.8 512.3M504.8 512.3L504.6 512.4M504.6 512.4A48.0 48.0 0 0 1 504.0 511.0M504.0 511.0L503.7 511.1M503.7 511.1A48.3 48.3 0 0 1 502.7 508.4M502.7 508.4L502.2 508.6M502.2 508.6A48.7 48.7 0 0 1 501.5 506.5M501.5 506.5L501.2 506.6M501.2 506.6A49.1 49.1 0 0 1 500.8 505.4M500.8 505.4L500.0 505.7M500.0 505.7A50.0 50.0 0 0 1 499.0 501.0M499.0 501.0L497.7 501.2M497.7 501.2A51.3 51.3 0 0 1 497.5 500.1M497.5 500.1L496.7 500.2M496.7 500.2A52.2 52.2 0 0 1 496.5 498.9M496.5 498.9L495.7 499.0M495.7 499.0A53.0 53.0 0 0 1 495.4 495.4M495.4 495.4L493.5 495.5M493.5 495.5A54.9 54.9 0 0 1 493.4 493.7M493.4 493.7L492.1 493.7M492.1 493.7A56.2 56.2 0 0 1 492.1 491.5M492.1 491.5L490.9 491.5M490.9 491.5A57.4 57.4 0 0 1 491.1 488.1M491.1 488.1L489.0 487.9M489.0 487.9A59.5 59.5 0 0 1 489.2 485.8M489.2 485.8L487.4 485.5M487.4 485.5A61.4 61.4 0 0 1 487.5 484.7M487.5 484.7L486.6 484.5M486.6 484.5A62.3 62.3 0 0 1 486.9 482.4M486.9 482.4L485.3 482.1M485.3 482.1A63.9 63.9 0 0 1 485.9 478.9M485.9 478.9L484.1 478.5M484.1 478.5A65.8 65.8 0 0 1 484.4 477.1M484.4 477.1L483.2 476.8M483.2 476.8A67.0 67.0 0 0 1 483.7 475.2M483.7 475.2L482.7 474.9M482.7 474.9A68.0 68.0 0 0 1 483.3 473.0M483.3 473.0L481.9 472.6M481.9 472.6A69.4 69.4 0 0 1 482.7 470.0M482.7 470.0L481.1 469.4M481.1 469.4A71.2 71.2 0 0 1 481.8 467.3M481.8 467.3L480.8 466.9" fill="none" stroke="#111" stroke-width="0.8"/>
<path d="M580.2 494.9L626.1 498.1M588.2 495.9L612.1 497.8M579.8 527.1L589.2 537.4M578.7 527.2L585.4 534.8M579.2 528.8L589.6 540.9M580.0 531.2L589.6 542.8M577.9 530.0L583.4 536.9M576.9 530.4L582.1 537.3M593.6 518.3L605.7 525.2" fill="none" stroke="#8f1950" stroke-width="0.9"/>
<polygon points="628.7,498.1 639.2,495.2 635.0,499.0 638.0,503.8" fill="#b5606e"/>
<polygon points="616.4,522.5 624.4,520.3 620.8,523.7 622.0,528.5" fill="#b5606e"/>
<polygon points="591.2,546.2 600.7,551.8 595.1,551.4 593.9,556.8" fill="#b5606e"/>
<polygon points="580.6,547.4 586.3,552.7 582.1,551.6 579.5,555.1" fill="#b5606e"/>
<text x="367.40" y="562.40" font-size="9.4" textLength="18.60" lengthAdjust="spacingAndGlyphs" fill="#231f20" stroke="#231f20" stroke-width="0.22">Taxon:</text>
<circle cx="369.60" cy="568.70" r="2.45" fill="#a0527f" stroke="#555" stroke-width="0.4"/>
<text x="374.70" y="571.90" font-size="9.4" textLength="26.30" lengthAdjust="spacingAndGlyphs" fill="#231f20" stroke="#231f20" stroke-width="0.15">Cryptista</text>
<circle cx="369.60" cy="576.95" r="2.45" fill="#fdae6b" stroke="#555" stroke-width="0.4"/>
<text x="374.70" y="580.15" font-size="9.4" textLength="37.80" lengthAdjust="spacingAndGlyphs" fill="#231f20" stroke="#231f20" stroke-width="0.15">Dinophyceae</text>
<circle cx="369.60" cy="585.20" r="2.45" fill="#5b9bd5" stroke="#555" stroke-width="0.4"/>
<text x="374.70" y="588.40" font-size="9.4" textLength="16.40" lengthAdjust="spacingAndGlyphs" fill="#231f20" stroke="#231f20" stroke-width="0.15">Fungi</text>
<circle cx="369.60" cy="593.45" r="2.45" fill="#9e5fb0" stroke="#555" stroke-width="0.4"/>
<text x="374.70" y="596.65" font-size="9.4" textLength="24.40" lengthAdjust="spacingAndGlyphs" fill="#231f20" stroke="#231f20" stroke-width="0.15">Haptista</text>
<circle cx="369.60" cy="601.70" r="2.45" fill="#b5551d" stroke="#555" stroke-width="0.4"/>
<text x="374.70" y="604.90" font-size="9.4" textLength="23.90" lengthAdjust="spacingAndGlyphs" fill="#231f20" stroke="#231f20" stroke-width="0.15">diatoms</text>
<circle cx="369.60" cy="609.95" r="2.45" fill="#c08458" stroke="#555" stroke-width="0.4"/>
<text x="374.70" y="613.15" font-size="9.4" textLength="56.50" lengthAdjust="spacingAndGlyphs" fill="#231f20" stroke="#231f20" stroke-width="0.15">other_heterokonts</text>
<circle cx="369.60" cy="618.20" r="2.45" fill="#4cb050" stroke="#555" stroke-width="0.4"/>
<text x="374.70" y="621.40" font-size="9.4" textLength="43.40" lengthAdjust="spacingAndGlyphs" fill="#231f20" stroke="#231f20" stroke-width="0.15">Chlorophyceae</text>
<circle cx="369.60" cy="626.45" r="2.45" fill="#8a8a8a" stroke="#555" stroke-width="0.4"/>
<text x="374.70" y="629.65" font-size="9.4" textLength="61.60" lengthAdjust="spacingAndGlyphs" fill="#231f20" stroke="#231f20" stroke-width="0.15">MATOU (unassigned)</text>
<circle cx="369.60" cy="634.70" r="2.45" fill="#c2c8c8" stroke="#555" stroke-width="0.4"/>
<text x="374.70" y="637.90" font-size="9.4" textLength="24.40" lengthAdjust="spacingAndGlyphs" fill="#231f20" stroke="#231f20" stroke-width="0.15">Bacteria</text>
<text x="442.00" y="603.90" font-size="9.4" textLength="14.60" lengthAdjust="spacingAndGlyphs" fill="#231f20" stroke="#231f20" stroke-width="0.22">Polar</text>
<text x="442.00" y="612.00" font-size="9.4" textLength="32.20" lengthAdjust="spacingAndGlyphs" fill="#231f20" stroke="#231f20" stroke-width="0.22">sequences:</text>
<circle cx="444.50" cy="619.20" r="2.60" fill="#1f3f82"/>
<text x="450.10" y="622.20" font-size="9.4" textLength="26.30" lengthAdjust="spacingAndGlyphs" fill="#231f20" stroke="#231f20" stroke-width="0.15">Antarctic</text>
<circle cx="444.50" cy="626.60" r="2.60" fill="#3d7cc4"/>
<text x="450.10" y="629.60" font-size="9.4" textLength="16.30" lengthAdjust="spacingAndGlyphs" fill="#231f20" stroke="#231f20" stroke-width="0.15">Arctic</text>
<circle cx="444.50" cy="634.60" r="2.60" fill="#8b1a4f"/>
<text x="450.10" y="637.60" font-size="9.4" textLength="24.10" lengthAdjust="spacingAndGlyphs" fill="#231f20" stroke="#231f20" stroke-width="0.15">Phaant1</text>
<text x="601.70" y="632.90" font-size="9.2" textLength="64.50" lengthAdjust="spacingAndGlyphs" fill="#231f20" stroke="#231f20" stroke-width="0.22">Substitutions/site: 0.5</text>
<line x1="601.70" y1="636.30" x2="618.40" y2="636.30" stroke="#231f20" stroke-width="0.8" />
</svg>
</body></html>
